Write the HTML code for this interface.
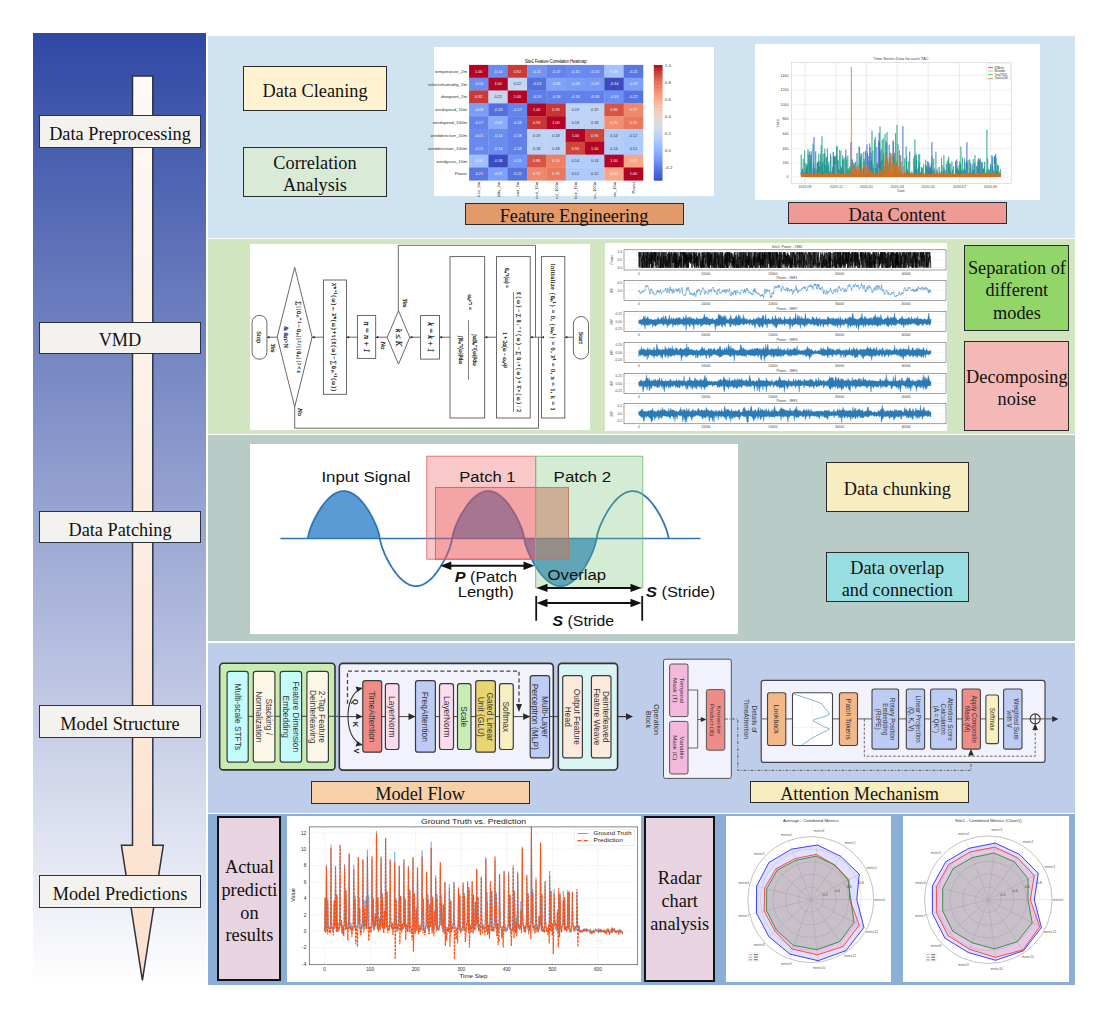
<!DOCTYPE html>
<html><head><meta charset="utf-8">
<style>
*{margin:0;padding:0;box-sizing:border-box}
html,body{width:1108px;height:1018px;background:#fff;overflow:hidden;position:relative}
body{font-family:"Liberation Serif",serif;color:#111}
.a{position:absolute}
.lbl{position:absolute;padding-top:5.5px;left:39px;width:162px;height:32.4px;background:#F3F2EE;border:1.5px solid #2B3340;font-size:18.3px;display:flex;align-items:center;justify-content:center;white-space:nowrap}
.bx{position:absolute;padding-top:5px;border:1.5px solid #2B2B2B;font-size:18.3px;display:flex;align-items:center;justify-content:center;text-align:center;line-height:22.5px;white-space:nowrap}
.pan{position:absolute;left:208px;width:867px}
svg{position:absolute;overflow:visible}
</style></head><body>

<!-- left gradient panel -->
<div class="a" style="left:33px;top:33px;width:173px;height:952px;background:linear-gradient(to bottom,#2F48A4 0%,#FFFFFF 100%)"></div>
<svg style="left:0;top:0" width="1108" height="1018">
<defs><linearGradient id="arw" x1="0" y1="0" x2="0" y2="1"><stop offset="0" stop-color="#FDF9F5"/><stop offset="1" stop-color="#FCE0CC"/></linearGradient></defs>
<polygon points="132.5,76 152.8,76 152.8,845.3 163.3,845.3 142.4,980.4 121.4,845.3 132.5,845.3" fill="url(#arw)" stroke="#2B3340" stroke-width="1.5"/>
</svg>
<div class="lbl" style="top:115.2px">Data Preprocessing</div>
<div class="lbl" style="top:322px">VMD</div>
<div class="lbl" style="top:511.1px">Data Patching</div>
<div class="lbl" style="top:705.2px">Model Structure</div>
<div class="lbl" style="top:875.4px">Model Predictions</div>

<!-- panels -->
<div class="pan" style="top:36px;height:202px;background:#CFE3F1"></div>
<div class="pan" style="top:239px;height:195px;background:#D0E5C0"></div>
<div class="pan" style="top:435px;height:206px;background:#B9CBC6"></div>
<div class="pan" style="top:642.5px;height:170.5px;background:#BECEEA"></div>
<div class="pan" style="top:814px;height:171px;background:#8AAED6"></div>

<!-- PANEL 1 -->
<div class="bx" style="left:243px;top:66px;width:144px;height:45px;background:#FFF2D0">Data Cleaning</div>
<div class="bx" style="left:243px;top:146.6px;width:144px;height:50.2px;background:#D9EAD6">Correlation<br>Analysis</div>
<div class="a" style="left:434px;top:47.3px;width:280px;height:149.2px;background:#fff"></div>
<div class="bx" style="left:464.5px;top:202.5px;width:219px;height:22.2px;background:#E39A6A">Feature Engineering</div>
<div class="a" style="left:755px;top:43.6px;width:285px;height:156.3px;background:#fff"></div>
<div class="bx" style="left:787.5px;top:201.7px;width:219px;height:22.7px;background:#F09A96">Data Content</div>

<svg style="left:0;top:0" width="1108" height="1018">
<g>
<rect x="469.10" y="64.90" width="19.62" height="13.12" fill="#b40426"/>
<rect x="488.42" y="64.90" width="19.62" height="13.12" fill="#6b8df0"/>
<rect x="507.74" y="64.90" width="19.62" height="13.12" fill="#ca3b37"/>
<rect x="527.07" y="64.90" width="19.62" height="13.12" fill="#7295f4"/>
<rect x="546.39" y="64.90" width="19.62" height="13.12" fill="#6384eb"/>
<rect x="565.71" y="64.90" width="19.62" height="13.12" fill="#688aef"/>
<rect x="585.03" y="64.90" width="19.62" height="13.12" fill="#688aef"/>
<rect x="604.36" y="64.90" width="19.62" height="13.12" fill="#a3c2fe"/>
<rect x="623.68" y="64.90" width="19.62" height="13.12" fill="#5977e3"/>
<rect x="469.10" y="77.72" width="19.62" height="13.12" fill="#6b8df0"/>
<rect x="488.42" y="77.72" width="19.62" height="13.12" fill="#b40426"/>
<rect x="507.74" y="77.72" width="19.62" height="13.12" fill="#c6d6f1"/>
<rect x="527.07" y="77.72" width="19.62" height="13.12" fill="#5470de"/>
<rect x="546.39" y="77.72" width="19.62" height="13.12" fill="#80a3fa"/>
<rect x="565.71" y="77.72" width="19.62" height="13.12" fill="#7a9df8"/>
<rect x="585.03" y="77.72" width="19.62" height="13.12" fill="#779af7"/>
<rect x="604.36" y="77.72" width="19.62" height="13.12" fill="#3b4cc0"/>
<rect x="623.68" y="77.72" width="19.62" height="13.12" fill="#7da0f9"/>
<rect x="469.10" y="90.54" width="19.62" height="13.12" fill="#ca3b37"/>
<rect x="488.42" y="90.54" width="19.62" height="13.12" fill="#c6d6f1"/>
<rect x="507.74" y="90.54" width="19.62" height="13.12" fill="#b40426"/>
<rect x="527.07" y="90.54" width="19.62" height="13.12" fill="#5e7de7"/>
<rect x="546.39" y="90.54" width="19.62" height="13.12" fill="#6180e9"/>
<rect x="565.71" y="90.54" width="19.62" height="13.12" fill="#6180e9"/>
<rect x="585.03" y="90.54" width="19.62" height="13.12" fill="#6180e9"/>
<rect x="604.36" y="90.54" width="19.62" height="13.12" fill="#6c8ff1"/>
<rect x="623.68" y="90.54" width="19.62" height="13.12" fill="#5673e0"/>
<rect x="469.10" y="103.37" width="19.62" height="13.12" fill="#7a9df8"/>
<rect x="488.42" y="103.37" width="19.62" height="13.12" fill="#5470de"/>
<rect x="507.74" y="103.37" width="19.62" height="13.12" fill="#6384eb"/>
<rect x="527.07" y="103.37" width="19.62" height="13.12" fill="#b40426"/>
<rect x="546.39" y="103.37" width="19.62" height="13.12" fill="#c73635"/>
<rect x="565.71" y="103.37" width="19.62" height="13.12" fill="#bfd3f6"/>
<rect x="585.03" y="103.37" width="19.62" height="13.12" fill="#bfd3f6"/>
<rect x="604.36" y="103.37" width="19.62" height="13.12" fill="#d75445"/>
<rect x="623.68" y="103.37" width="19.62" height="13.12" fill="#ef886b"/>
<rect x="469.10" y="116.19" width="19.62" height="13.12" fill="#6384eb"/>
<rect x="488.42" y="116.19" width="19.62" height="13.12" fill="#89acfd"/>
<rect x="507.74" y="116.19" width="19.62" height="13.12" fill="#6180e9"/>
<rect x="527.07" y="116.19" width="19.62" height="13.12" fill="#c73635"/>
<rect x="546.39" y="116.19" width="19.62" height="13.12" fill="#b40426"/>
<rect x="565.71" y="116.19" width="19.62" height="13.12" fill="#bcd2f7"/>
<rect x="585.03" y="116.19" width="19.62" height="13.12" fill="#bcd2f7"/>
<rect x="604.36" y="116.19" width="19.62" height="13.12" fill="#f18f71"/>
<rect x="623.68" y="116.19" width="19.62" height="13.12" fill="#e97a5f"/>
<rect x="469.10" y="129.01" width="19.62" height="13.12" fill="#688aef"/>
<rect x="488.42" y="129.01" width="19.62" height="13.12" fill="#6b8df0"/>
<rect x="507.74" y="129.01" width="19.62" height="13.12" fill="#6180e9"/>
<rect x="527.07" y="129.01" width="19.62" height="13.12" fill="#bfd3f6"/>
<rect x="546.39" y="129.01" width="19.62" height="13.12" fill="#bcd2f7"/>
<rect x="565.71" y="129.01" width="19.62" height="13.12" fill="#b40426"/>
<rect x="585.03" y="129.01" width="19.62" height="13.12" fill="#cf453c"/>
<rect x="604.36" y="129.01" width="19.62" height="13.12" fill="#b3cdfb"/>
<rect x="623.68" y="129.01" width="19.62" height="13.12" fill="#aec9fc"/>
<rect x="469.10" y="141.83" width="19.62" height="13.12" fill="#688aef"/>
<rect x="488.42" y="141.83" width="19.62" height="13.12" fill="#6b8df0"/>
<rect x="507.74" y="141.83" width="19.62" height="13.12" fill="#6180e9"/>
<rect x="527.07" y="141.83" width="19.62" height="13.12" fill="#bcd2f7"/>
<rect x="546.39" y="141.83" width="19.62" height="13.12" fill="#bcd2f7"/>
<rect x="565.71" y="141.83" width="19.62" height="13.12" fill="#cf453c"/>
<rect x="585.03" y="141.83" width="19.62" height="13.12" fill="#b40426"/>
<rect x="604.36" y="141.83" width="19.62" height="13.12" fill="#b3cdfb"/>
<rect x="623.68" y="141.83" width="19.62" height="13.12" fill="#aec9fc"/>
<rect x="469.10" y="154.66" width="19.62" height="13.12" fill="#9fbfff"/>
<rect x="488.42" y="154.66" width="19.62" height="13.12" fill="#3b4cc0"/>
<rect x="507.74" y="154.66" width="19.62" height="13.12" fill="#7295f4"/>
<rect x="527.07" y="154.66" width="19.62" height="13.12" fill="#d75445"/>
<rect x="546.39" y="154.66" width="19.62" height="13.12" fill="#ec8165"/>
<rect x="565.71" y="154.66" width="19.62" height="13.12" fill="#b3cdfb"/>
<rect x="585.03" y="154.66" width="19.62" height="13.12" fill="#b3cdfb"/>
<rect x="604.36" y="154.66" width="19.62" height="13.12" fill="#b40426"/>
<rect x="623.68" y="154.66" width="19.62" height="13.12" fill="#f7a688"/>
<rect x="469.10" y="167.48" width="19.62" height="13.12" fill="#5977e3"/>
<rect x="488.42" y="167.48" width="19.62" height="13.12" fill="#7da0f9"/>
<rect x="507.74" y="167.48" width="19.62" height="13.12" fill="#5673e0"/>
<rect x="527.07" y="167.48" width="19.62" height="13.12" fill="#ef886b"/>
<rect x="546.39" y="167.48" width="19.62" height="13.12" fill="#e97a5f"/>
<rect x="565.71" y="167.48" width="19.62" height="13.12" fill="#aec9fc"/>
<rect x="585.03" y="167.48" width="19.62" height="13.12" fill="#aec9fc"/>
<rect x="604.36" y="167.48" width="19.62" height="13.12" fill="#f7a688"/>
<rect x="623.68" y="167.48" width="19.62" height="13.12" fill="#b40426"/>
<text x="478.76" y="72.61" font-size="3.8" fill="#f4f4f4" text-anchor="middle" font-family="Liberation Sans">1.00</text>
<text x="498.08" y="72.61" font-size="3.8" fill="#f4f4f4" text-anchor="middle" font-family="Liberation Sans">-0.14</text>
<text x="517.41" y="72.61" font-size="3.8" fill="#f4f4f4" text-anchor="middle" font-family="Liberation Sans">0.92</text>
<text x="536.73" y="72.61" font-size="3.8" fill="#f4f4f4" text-anchor="middle" font-family="Liberation Sans">-0.11</text>
<text x="556.05" y="72.61" font-size="3.8" fill="#f4f4f4" text-anchor="middle" font-family="Liberation Sans">-0.17</text>
<text x="575.37" y="72.61" font-size="3.8" fill="#f4f4f4" text-anchor="middle" font-family="Liberation Sans">-0.15</text>
<text x="594.69" y="72.61" font-size="3.8" fill="#f4f4f4" text-anchor="middle" font-family="Liberation Sans">-0.15</text>
<text x="614.02" y="72.61" font-size="3.8" fill="#f4f4f4" text-anchor="middle" font-family="Liberation Sans">0.08</text>
<text x="633.34" y="72.61" font-size="3.8" fill="#f4f4f4" text-anchor="middle" font-family="Liberation Sans">-0.21</text>
<text x="478.76" y="85.43" font-size="3.8" fill="#f4f4f4" text-anchor="middle" font-family="Liberation Sans">-0.14</text>
<text x="498.08" y="85.43" font-size="3.8" fill="#f4f4f4" text-anchor="middle" font-family="Liberation Sans">1.00</text>
<text x="517.41" y="85.43" font-size="3.8" fill="#333" text-anchor="middle" font-family="Liberation Sans">0.22</text>
<text x="536.73" y="85.43" font-size="3.8" fill="#f4f4f4" text-anchor="middle" font-family="Liberation Sans">-0.23</text>
<text x="556.05" y="85.43" font-size="3.8" fill="#f4f4f4" text-anchor="middle" font-family="Liberation Sans">-0.06</text>
<text x="575.37" y="85.43" font-size="3.8" fill="#f4f4f4" text-anchor="middle" font-family="Liberation Sans">-0.08</text>
<text x="594.69" y="85.43" font-size="3.8" fill="#f4f4f4" text-anchor="middle" font-family="Liberation Sans">-0.09</text>
<text x="614.02" y="85.43" font-size="3.8" fill="#f4f4f4" text-anchor="middle" font-family="Liberation Sans">-0.34</text>
<text x="633.34" y="85.43" font-size="3.8" fill="#f4f4f4" text-anchor="middle" font-family="Liberation Sans">-0.07</text>
<text x="478.76" y="98.26" font-size="3.8" fill="#f4f4f4" text-anchor="middle" font-family="Liberation Sans">0.92</text>
<text x="498.08" y="98.26" font-size="3.8" fill="#333" text-anchor="middle" font-family="Liberation Sans">0.22</text>
<text x="517.41" y="98.26" font-size="3.8" fill="#f4f4f4" text-anchor="middle" font-family="Liberation Sans">1.00</text>
<text x="536.73" y="98.26" font-size="3.8" fill="#f4f4f4" text-anchor="middle" font-family="Liberation Sans">-0.19</text>
<text x="556.05" y="98.26" font-size="3.8" fill="#f4f4f4" text-anchor="middle" font-family="Liberation Sans">-0.18</text>
<text x="575.37" y="98.26" font-size="3.8" fill="#f4f4f4" text-anchor="middle" font-family="Liberation Sans">-0.18</text>
<text x="594.69" y="98.26" font-size="3.8" fill="#f4f4f4" text-anchor="middle" font-family="Liberation Sans">-0.18</text>
<text x="614.02" y="98.26" font-size="3.8" fill="#f4f4f4" text-anchor="middle" font-family="Liberation Sans">-0.13</text>
<text x="633.34" y="98.26" font-size="3.8" fill="#f4f4f4" text-anchor="middle" font-family="Liberation Sans">-0.22</text>
<text x="478.76" y="111.08" font-size="3.8" fill="#f4f4f4" text-anchor="middle" font-family="Liberation Sans">-0.08</text>
<text x="498.08" y="111.08" font-size="3.8" fill="#f4f4f4" text-anchor="middle" font-family="Liberation Sans">-0.23</text>
<text x="517.41" y="111.08" font-size="3.8" fill="#f4f4f4" text-anchor="middle" font-family="Liberation Sans">-0.17</text>
<text x="536.73" y="111.08" font-size="3.8" fill="#f4f4f4" text-anchor="middle" font-family="Liberation Sans">1.00</text>
<text x="556.05" y="111.08" font-size="3.8" fill="#f4f4f4" text-anchor="middle" font-family="Liberation Sans">0.93</text>
<text x="575.37" y="111.08" font-size="3.8" fill="#333" text-anchor="middle" font-family="Liberation Sans">0.19</text>
<text x="594.69" y="111.08" font-size="3.8" fill="#333" text-anchor="middle" font-family="Liberation Sans">0.19</text>
<text x="614.02" y="111.08" font-size="3.8" fill="#f4f4f4" text-anchor="middle" font-family="Liberation Sans">0.86</text>
<text x="633.34" y="111.08" font-size="3.8" fill="#f4f4f4" text-anchor="middle" font-family="Liberation Sans">0.72</text>
<text x="478.76" y="123.90" font-size="3.8" fill="#f4f4f4" text-anchor="middle" font-family="Liberation Sans">-0.17</text>
<text x="498.08" y="123.90" font-size="3.8" fill="#f4f4f4" text-anchor="middle" font-family="Liberation Sans">-0.02</text>
<text x="517.41" y="123.90" font-size="3.8" fill="#f4f4f4" text-anchor="middle" font-family="Liberation Sans">-0.18</text>
<text x="536.73" y="123.90" font-size="3.8" fill="#f4f4f4" text-anchor="middle" font-family="Liberation Sans">0.93</text>
<text x="556.05" y="123.90" font-size="3.8" fill="#f4f4f4" text-anchor="middle" font-family="Liberation Sans">1.00</text>
<text x="575.37" y="123.90" font-size="3.8" fill="#333" text-anchor="middle" font-family="Liberation Sans">0.18</text>
<text x="594.69" y="123.90" font-size="3.8" fill="#333" text-anchor="middle" font-family="Liberation Sans">0.18</text>
<text x="614.02" y="123.90" font-size="3.8" fill="#f4f4f4" text-anchor="middle" font-family="Liberation Sans">0.70</text>
<text x="633.34" y="123.90" font-size="3.8" fill="#f4f4f4" text-anchor="middle" font-family="Liberation Sans">0.76</text>
<text x="478.76" y="136.72" font-size="3.8" fill="#f4f4f4" text-anchor="middle" font-family="Liberation Sans">-0.15</text>
<text x="498.08" y="136.72" font-size="3.8" fill="#f4f4f4" text-anchor="middle" font-family="Liberation Sans">-0.14</text>
<text x="517.41" y="136.72" font-size="3.8" fill="#f4f4f4" text-anchor="middle" font-family="Liberation Sans">-0.18</text>
<text x="536.73" y="136.72" font-size="3.8" fill="#333" text-anchor="middle" font-family="Liberation Sans">0.19</text>
<text x="556.05" y="136.72" font-size="3.8" fill="#333" text-anchor="middle" font-family="Liberation Sans">0.18</text>
<text x="575.37" y="136.72" font-size="3.8" fill="#f4f4f4" text-anchor="middle" font-family="Liberation Sans">1.00</text>
<text x="594.69" y="136.72" font-size="3.8" fill="#f4f4f4" text-anchor="middle" font-family="Liberation Sans">0.90</text>
<text x="614.02" y="136.72" font-size="3.8" fill="#333" text-anchor="middle" font-family="Liberation Sans">0.14</text>
<text x="633.34" y="136.72" font-size="3.8" fill="#333" text-anchor="middle" font-family="Liberation Sans">0.12</text>
<text x="478.76" y="149.54" font-size="3.8" fill="#f4f4f4" text-anchor="middle" font-family="Liberation Sans">-0.15</text>
<text x="498.08" y="149.54" font-size="3.8" fill="#f4f4f4" text-anchor="middle" font-family="Liberation Sans">-0.14</text>
<text x="517.41" y="149.54" font-size="3.8" fill="#f4f4f4" text-anchor="middle" font-family="Liberation Sans">-0.18</text>
<text x="536.73" y="149.54" font-size="3.8" fill="#333" text-anchor="middle" font-family="Liberation Sans">0.18</text>
<text x="556.05" y="149.54" font-size="3.8" fill="#333" text-anchor="middle" font-family="Liberation Sans">0.18</text>
<text x="575.37" y="149.54" font-size="3.8" fill="#f4f4f4" text-anchor="middle" font-family="Liberation Sans">0.90</text>
<text x="594.69" y="149.54" font-size="3.8" fill="#f4f4f4" text-anchor="middle" font-family="Liberation Sans">1.00</text>
<text x="614.02" y="149.54" font-size="3.8" fill="#333" text-anchor="middle" font-family="Liberation Sans">0.14</text>
<text x="633.34" y="149.54" font-size="3.8" fill="#333" text-anchor="middle" font-family="Liberation Sans">0.12</text>
<text x="478.76" y="162.37" font-size="3.8" fill="#f4f4f4" text-anchor="middle" font-family="Liberation Sans">0.06</text>
<text x="498.08" y="162.37" font-size="3.8" fill="#f4f4f4" text-anchor="middle" font-family="Liberation Sans">-0.34</text>
<text x="517.41" y="162.37" font-size="3.8" fill="#f4f4f4" text-anchor="middle" font-family="Liberation Sans">-0.11</text>
<text x="536.73" y="162.37" font-size="3.8" fill="#f4f4f4" text-anchor="middle" font-family="Liberation Sans">0.86</text>
<text x="556.05" y="162.37" font-size="3.8" fill="#f4f4f4" text-anchor="middle" font-family="Liberation Sans">0.74</text>
<text x="575.37" y="162.37" font-size="3.8" fill="#333" text-anchor="middle" font-family="Liberation Sans">0.14</text>
<text x="594.69" y="162.37" font-size="3.8" fill="#333" text-anchor="middle" font-family="Liberation Sans">0.14</text>
<text x="614.02" y="162.37" font-size="3.8" fill="#f4f4f4" text-anchor="middle" font-family="Liberation Sans">1.00</text>
<text x="633.34" y="162.37" font-size="3.8" fill="#f4f4f4" text-anchor="middle" font-family="Liberation Sans">0.62</text>
<text x="478.76" y="175.19" font-size="3.8" fill="#f4f4f4" text-anchor="middle" font-family="Liberation Sans">-0.21</text>
<text x="498.08" y="175.19" font-size="3.8" fill="#f4f4f4" text-anchor="middle" font-family="Liberation Sans">-0.07</text>
<text x="517.41" y="175.19" font-size="3.8" fill="#f4f4f4" text-anchor="middle" font-family="Liberation Sans">-0.22</text>
<text x="536.73" y="175.19" font-size="3.8" fill="#f4f4f4" text-anchor="middle" font-family="Liberation Sans">0.72</text>
<text x="556.05" y="175.19" font-size="3.8" fill="#f4f4f4" text-anchor="middle" font-family="Liberation Sans">0.76</text>
<text x="575.37" y="175.19" font-size="3.8" fill="#333" text-anchor="middle" font-family="Liberation Sans">0.12</text>
<text x="594.69" y="175.19" font-size="3.8" fill="#333" text-anchor="middle" font-family="Liberation Sans">0.12</text>
<text x="614.02" y="175.19" font-size="3.8" fill="#f4f4f4" text-anchor="middle" font-family="Liberation Sans">0.62</text>
<text x="633.34" y="175.19" font-size="3.8" fill="#f4f4f4" text-anchor="middle" font-family="Liberation Sans">1.00</text>
<text x="467.10" y="72.81" font-size="4.4" fill="#333" text-anchor="end" font-family="Liberation Sans">temperature_2m</text>
<text x="467.10" y="85.63" font-size="4.4" fill="#333" text-anchor="end" font-family="Liberation Sans">relativehumidity_2m</text>
<text x="467.10" y="98.46" font-size="4.4" fill="#333" text-anchor="end" font-family="Liberation Sans">dewpoint_2m</text>
<text x="467.10" y="111.28" font-size="4.4" fill="#333" text-anchor="end" font-family="Liberation Sans">windspeed_10m</text>
<text x="467.10" y="124.10" font-size="4.4" fill="#333" text-anchor="end" font-family="Liberation Sans">windspeed_100m</text>
<text x="467.10" y="136.92" font-size="4.4" fill="#333" text-anchor="end" font-family="Liberation Sans">winddirection_10m</text>
<text x="467.10" y="149.74" font-size="4.4" fill="#333" text-anchor="end" font-family="Liberation Sans">winddirection_100m</text>
<text x="467.10" y="162.57" font-size="4.4" fill="#333" text-anchor="end" font-family="Liberation Sans">windgusts_10m</text>
<text x="467.10" y="175.39" font-size="4.4" fill="#333" text-anchor="end" font-family="Liberation Sans">Power</text>
<text transform="translate(480.26,181.80) rotate(-90)" font-size="4.1" fill="#333" text-anchor="end" font-family="Liberation Sans">ture_2m</text>
<text transform="translate(499.58,181.80) rotate(-90)" font-size="4.1" fill="#333" text-anchor="end" font-family="Liberation Sans">idity_2m</text>
<text transform="translate(518.91,181.80) rotate(-90)" font-size="4.1" fill="#333" text-anchor="end" font-family="Liberation Sans">oint_2m</text>
<text transform="translate(538.23,181.80) rotate(-90)" font-size="4.1" fill="#333" text-anchor="end" font-family="Liberation Sans">eed_10m</text>
<text transform="translate(557.55,181.80) rotate(-90)" font-size="4.1" fill="#333" text-anchor="end" font-family="Liberation Sans">ed_100m</text>
<text transform="translate(576.87,181.80) rotate(-90)" font-size="4.1" fill="#333" text-anchor="end" font-family="Liberation Sans">tion_10m</text>
<text transform="translate(596.19,181.80) rotate(-90)" font-size="4.1" fill="#333" text-anchor="end" font-family="Liberation Sans">on_100m</text>
<text transform="translate(615.52,181.80) rotate(-90)" font-size="4.1" fill="#333" text-anchor="end" font-family="Liberation Sans">sts_10m</text>
<text transform="translate(634.84,181.80) rotate(-90)" font-size="4.1" fill="#333" text-anchor="end" font-family="Liberation Sans">Power</text>
<text x="555.8" y="63.3" font-size="4.6" fill="#222" text-anchor="middle" font-family="Liberation Sans" textLength="62">Site1 Feature Correlation Heatmap</text>
<rect x="653.8" y="65.00" width="8.7" height="3.28" fill="#b8122a"/>
<rect x="653.8" y="67.88" width="8.7" height="3.28" fill="#c12b30"/>
<rect x="653.8" y="70.77" width="8.7" height="3.28" fill="#cb3e38"/>
<rect x="653.8" y="73.65" width="8.7" height="3.28" fill="#d24b40"/>
<rect x="653.8" y="76.53" width="8.7" height="3.28" fill="#d95847"/>
<rect x="653.8" y="79.41" width="8.7" height="3.28" fill="#e16751"/>
<rect x="653.8" y="82.30" width="8.7" height="3.28" fill="#e67259"/>
<rect x="653.8" y="85.18" width="8.7" height="3.28" fill="#eb7d62"/>
<rect x="653.8" y="88.06" width="8.7" height="3.28" fill="#f08a6c"/>
<rect x="653.8" y="90.94" width="8.7" height="3.28" fill="#f39475"/>
<rect x="653.8" y="93.83" width="8.7" height="3.28" fill="#f59f80"/>
<rect x="653.8" y="96.71" width="8.7" height="3.28" fill="#f7a889"/>
<rect x="653.8" y="99.59" width="8.7" height="3.28" fill="#f7b093"/>
<rect x="653.8" y="102.47" width="8.7" height="3.28" fill="#f7b99e"/>
<rect x="653.8" y="105.36" width="8.7" height="3.28" fill="#f5c0a7"/>
<rect x="653.8" y="108.24" width="8.7" height="3.28" fill="#f3c8b2"/>
<rect x="653.8" y="111.12" width="8.7" height="3.28" fill="#f0cdbb"/>
<rect x="653.8" y="114.00" width="8.7" height="3.28" fill="#ecd3c5"/>
<rect x="653.8" y="116.89" width="8.7" height="3.28" fill="#e6d7cf"/>
<rect x="653.8" y="119.77" width="8.7" height="3.28" fill="#e0dbd8"/>
<rect x="653.8" y="122.65" width="8.7" height="3.28" fill="#d9dce1"/>
<rect x="653.8" y="125.53" width="8.7" height="3.28" fill="#d3dbe7"/>
<rect x="653.8" y="128.42" width="8.7" height="3.28" fill="#cbd8ee"/>
<rect x="653.8" y="131.30" width="8.7" height="3.28" fill="#c4d5f3"/>
<rect x="653.8" y="134.18" width="8.7" height="3.28" fill="#bcd2f7"/>
<rect x="653.8" y="137.06" width="8.7" height="3.28" fill="#b3cdfb"/>
<rect x="653.8" y="139.94" width="8.7" height="3.28" fill="#abc8fd"/>
<rect x="653.8" y="142.83" width="8.7" height="3.28" fill="#a3c2fe"/>
<rect x="653.8" y="145.71" width="8.7" height="3.28" fill="#9abbff"/>
<rect x="653.8" y="148.59" width="8.7" height="3.28" fill="#92b4fe"/>
<rect x="653.8" y="151.48" width="8.7" height="3.28" fill="#88abfd"/>
<rect x="653.8" y="154.36" width="8.7" height="3.28" fill="#80a3fa"/>
<rect x="653.8" y="157.24" width="8.7" height="3.28" fill="#7699f6"/>
<rect x="653.8" y="160.12" width="8.7" height="3.28" fill="#6e90f2"/>
<rect x="653.8" y="163.00" width="8.7" height="3.28" fill="#6687ed"/>
<rect x="653.8" y="165.89" width="8.7" height="3.28" fill="#5d7ce6"/>
<rect x="653.8" y="168.77" width="8.7" height="3.28" fill="#5572df"/>
<rect x="653.8" y="171.65" width="8.7" height="3.28" fill="#4e68d8"/>
<rect x="653.8" y="174.54" width="8.7" height="3.28" fill="#455cce"/>
<rect x="653.8" y="177.42" width="8.7" height="3.28" fill="#3e51c5"/>
<text x="664.8" y="66.50" font-size="4.4" fill="#333" font-family="Liberation Sans">1.0</text>
<text x="664.8" y="83.64" font-size="4.4" fill="#333" font-family="Liberation Sans">0.8</text>
<text x="664.8" y="100.79" font-size="4.4" fill="#333" font-family="Liberation Sans">0.6</text>
<text x="664.8" y="117.93" font-size="4.4" fill="#333" font-family="Liberation Sans">0.4</text>
<text x="664.8" y="135.08" font-size="4.4" fill="#333" font-family="Liberation Sans">0.2</text>
<text x="664.8" y="152.22" font-size="4.4" fill="#333" font-family="Liberation Sans">0.0</text>
<text x="664.8" y="169.37" font-size="4.4" fill="#333" font-family="Liberation Sans">-0.2</text>
</g>
<rect x="791.4" y="62.6" width="219.8" height="120.7" fill="none" stroke="#cfcfcf" stroke-width="0.6"/>
<line x1="805" y1="62.6" x2="805" y2="183.3" stroke="#d6d6d6" stroke-width="0.5"/>
<text x="805" y="187.5" font-size="3.6" fill="#444" text-anchor="middle" font-family="Liberation Sans">2019-09</text>
<line x1="836.2" y1="62.6" x2="836.2" y2="183.3" stroke="#d6d6d6" stroke-width="0.5"/>
<text x="836.2" y="187.5" font-size="3.6" fill="#444" text-anchor="middle" font-family="Liberation Sans">2019-11</text>
<line x1="866.4" y1="62.6" x2="866.4" y2="183.3" stroke="#d6d6d6" stroke-width="0.5"/>
<text x="866.4" y="187.5" font-size="3.6" fill="#444" text-anchor="middle" font-family="Liberation Sans">2020-01</text>
<line x1="897.2" y1="62.6" x2="897.2" y2="183.3" stroke="#d6d6d6" stroke-width="0.5"/>
<text x="897.2" y="187.5" font-size="3.6" fill="#444" text-anchor="middle" font-family="Liberation Sans">2020-03</text>
<line x1="928.1" y1="62.6" x2="928.1" y2="183.3" stroke="#d6d6d6" stroke-width="0.5"/>
<text x="928.1" y="187.5" font-size="3.6" fill="#444" text-anchor="middle" font-family="Liberation Sans">2020-05</text>
<line x1="959.5" y1="62.6" x2="959.5" y2="183.3" stroke="#d6d6d6" stroke-width="0.5"/>
<text x="959.5" y="187.5" font-size="3.6" fill="#444" text-anchor="middle" font-family="Liberation Sans">2020-07</text>
<line x1="990.4" y1="62.6" x2="990.4" y2="183.3" stroke="#d6d6d6" stroke-width="0.5"/>
<text x="990.4" y="187.5" font-size="3.6" fill="#444" text-anchor="middle" font-family="Liberation Sans">2020-09</text>
<line x1="791.4" y1="176.9" x2="1011.2" y2="176.9" stroke="#e0e0e0" stroke-width="0.5"/>
<text x="788.4" y="178.1" font-size="3.6" fill="#444" text-anchor="end" font-family="Liberation Sans">0</text>
<line x1="791.4" y1="163" x2="1011.2" y2="163" stroke="#e0e0e0" stroke-width="0.5"/>
<text x="788.4" y="164.2" font-size="3.6" fill="#444" text-anchor="end" font-family="Liberation Sans">200</text>
<line x1="791.4" y1="148.5" x2="1011.2" y2="148.5" stroke="#e0e0e0" stroke-width="0.5"/>
<text x="788.4" y="149.7" font-size="3.6" fill="#444" text-anchor="end" font-family="Liberation Sans">400</text>
<line x1="791.4" y1="133.7" x2="1011.2" y2="133.7" stroke="#e0e0e0" stroke-width="0.5"/>
<text x="788.4" y="134.89999999999998" font-size="3.6" fill="#444" text-anchor="end" font-family="Liberation Sans">600</text>
<line x1="791.4" y1="119.2" x2="1011.2" y2="119.2" stroke="#e0e0e0" stroke-width="0.5"/>
<text x="788.4" y="120.4" font-size="3.6" fill="#444" text-anchor="end" font-family="Liberation Sans">800</text>
<line x1="791.4" y1="104.6" x2="1011.2" y2="104.6" stroke="#e0e0e0" stroke-width="0.5"/>
<text x="788.4" y="105.8" font-size="3.6" fill="#444" text-anchor="end" font-family="Liberation Sans">1000</text>
<line x1="791.4" y1="90.1" x2="1011.2" y2="90.1" stroke="#e0e0e0" stroke-width="0.5"/>
<text x="788.4" y="91.3" font-size="3.6" fill="#444" text-anchor="end" font-family="Liberation Sans">1200</text>
<line x1="791.4" y1="75.6" x2="1011.2" y2="75.6" stroke="#e0e0e0" stroke-width="0.5"/>
<text x="788.4" y="76.8" font-size="3.6" fill="#444" text-anchor="end" font-family="Liberation Sans">1400</text>
<text x="901" y="60" font-size="4" fill="#444" text-anchor="middle" font-family="Liberation Sans">Time Series Data for each TAC</text>
<text transform="translate(779,123) rotate(-90)" font-size="3.6" fill="#444" text-anchor="middle" font-family="Liberation Sans">Value</text>
<text x="901" y="192" font-size="3.6" fill="#444" text-anchor="middle" font-family="Liberation Sans">Date</text>
<polyline points="801.0,172.1 801.2,175.7 801.4,175.0 801.6,176.0 801.8,172.2 802.0,175.1 802.2,169.0 802.4,176.1 802.6,168.9 802.8,174.0 803.0,175.2 803.2,174.5 803.4,174.1 803.6,175.2 803.8,172.2 804.0,175.3 804.2,174.7 804.4,175.2 804.6,173.6 804.8,175.9 805.0,174.8 805.2,172.7 805.4,174.9 805.6,174.9 805.8,175.7 806.0,173.0 806.2,167.9 806.4,175.1 806.6,176.0 806.8,164.9 807.0,175.7 807.2,174.9 807.4,173.8 807.6,174.9 807.8,175.2 808.0,149.4 808.2,175.2 808.4,175.3 808.6,174.9 808.8,175.5 809.0,174.9 809.2,173.9 809.4,175.0 809.6,175.4 809.8,171.8 810.0,175.3 810.2,154.6 810.4,171.1 810.6,162.2 810.8,176.1 811.0,172.7 811.2,151.2 811.4,174.9 811.6,174.9 811.8,173.9 812.0,174.8 812.2,175.3 812.4,175.0 812.6,175.6 812.8,175.9 813.0,175.9 813.2,174.4 813.4,175.3 813.6,164.2 813.8,176.0 814.0,137.1 814.2,176.0 814.4,175.5 814.6,175.5 814.8,168.4 815.0,175.4 815.2,174.8 815.4,160.9 815.6,152.6 815.8,151.3 816.0,175.4 816.2,174.7 816.4,174.6 816.6,175.2 816.8,175.4 817.0,176.1 817.2,169.0 817.4,174.8 817.6,162.1 817.8,176.2 818.0,162.8 818.2,176.1 818.4,175.0 818.6,176.0 818.8,161.1 819.0,174.8 819.2,171.4 819.4,166.5 819.6,176.1 819.8,175.4 820.0,175.6 820.2,160.9 820.4,176.2 820.6,176.0 820.8,175.2 821.0,175.5 821.2,175.7 821.4,172.7 821.6,175.2 821.8,174.7 822.0,167.1 822.2,176.1 822.4,163.4 822.6,175.4 822.8,162.5 823.0,174.5 823.2,174.4 823.4,175.2 823.6,172.4 823.8,174.9 824.0,173.2 824.2,175.0 824.4,175.5 824.6,153.1 824.8,155.4 825.0,176.1 825.2,165.0 825.4,175.0 825.6,175.6 825.8,175.5 826.0,175.0 826.2,175.0 826.4,157.5 826.6,172.6 826.8,175.6 827.0,171.7 827.2,175.0 827.4,148.7 827.6,176.1 827.8,173.0 828.0,175.3 828.2,175.1 828.4,175.9 828.6,164.7 828.8,175.8 829.0,176.0 829.2,176.1 829.4,174.9 829.6,175.1 829.8,175.9 830.0,172.8 830.2,175.3 830.4,174.4 830.6,153.5 830.8,174.8 831.0,174.8 831.2,175.8 831.4,175.2 831.6,175.6 831.8,172.8 832.0,176.1 832.2,171.2 832.4,173.7 832.6,175.2 832.8,166.8 833.0,174.9 833.2,151.9 833.4,155.6 833.6,175.6 833.8,156.7 834.0,172.1 834.2,175.1 834.4,174.8 834.6,171.0 834.8,156.5 835.0,164.4 835.2,156.9 835.4,175.7 835.6,175.2 835.8,174.8 836.0,175.9 836.2,175.4 836.4,175.1 836.6,175.5 836.8,174.9 837.0,175.1 837.2,163.1 837.4,176.0 837.6,175.9 837.8,173.9 838.0,159.8 838.2,173.5 838.4,176.2 838.6,169.1 838.8,175.1 839.0,170.3 839.2,171.1 839.4,174.3 839.6,175.8 839.8,176.1 840.0,175.1 840.2,173.3 840.4,175.2 840.6,175.7 840.8,173.6 841.0,170.2 841.2,175.8 841.4,175.5 841.6,167.4 841.8,175.9 842.0,175.4 842.2,175.9 842.4,175.0 842.6,160.1 842.8,174.2 843.0,173.5 843.2,175.5 843.4,175.2 843.6,175.1 843.8,159.1 844.0,176.2 844.2,174.2 844.4,174.8 844.6,174.4 844.8,176.0 845.0,175.6 845.2,175.2 845.4,174.7 845.6,171.8 845.8,149.6 846.0,175.8 846.2,175.3 846.4,175.5 846.6,175.8 846.8,176.1 847.0,175.6 847.2,175.7 847.4,176.0 847.6,169.5 847.8,169.6 848.0,175.3 848.2,175.5 848.4,175.7 848.6,175.4 848.8,175.6 849.0,173.6 849.2,171.8 849.4,175.7 849.6,175.2 849.8,174.9 850.0,174.8 850.2,175.3 850.4,175.8 850.6,175.8 850.8,154.3 851.0,142.2 851.2,175.7 851.4,175.0 851.6,168.3 851.8,174.8 852.0,175.6 852.2,175.8 852.4,159.6 852.6,175.9 852.8,175.7 853.0,175.7 853.2,175.9 853.4,175.1 853.6,170.3 853.8,162.7 854.0,176.0 854.2,172.1 854.4,175.6 854.6,175.2 854.8,175.5 855.0,175.4 855.2,175.4 855.4,175.0 855.6,161.8 855.8,175.7 856.0,174.1 856.2,169.6 856.4,175.4 856.6,175.8 856.8,175.2 857.0,153.1 857.2,173.8 857.4,175.7 857.6,173.8 857.8,176.0 858.0,175.6 858.2,175.5 858.4,174.8 858.6,174.9 858.8,175.4 859.0,176.1 859.2,175.7 859.4,173.2 859.6,176.0 859.8,174.2 860.0,160.8 860.2,171.5 860.4,175.8 860.6,175.0 860.8,174.1 861.0,153.4 861.2,175.6 861.4,169.7 861.6,175.2 861.8,171.9 862.0,173.3 862.2,175.5 862.4,175.2 862.6,175.4 862.8,175.7 863.0,175.5 863.2,173.8 863.4,175.4 863.6,167.8 863.8,174.8 864.0,161.8 864.2,171.6 864.4,176.0 864.6,175.0 864.8,174.8 865.0,174.9 865.2,175.7 865.4,175.6 865.6,150.8 865.8,170.7 866.0,175.5 866.2,174.9 866.4,175.1 866.6,175.1 866.8,152.3 867.0,144.3 867.2,174.3 867.4,153.8 867.6,153.1 867.8,174.6 868.0,172.1 868.2,175.0 868.4,175.1 868.6,176.0 868.8,156.1 869.0,175.6 869.2,175.0 869.4,175.7 869.6,163.1 869.8,175.2 870.0,175.6 870.2,147.3 870.4,169.1 870.6,175.7 870.8,174.6 871.0,175.3 871.2,152.8 871.4,174.1 871.6,160.6 871.8,175.1 872.0,175.5 872.2,175.8 872.4,175.2 872.6,172.6 872.8,164.4 873.0,174.9 873.2,168.4 873.4,175.0 873.6,175.3 873.8,175.2 874.0,175.1 874.2,175.1 874.4,174.9 874.6,174.8 874.8,175.0 875.0,175.9 875.2,137.3 875.4,175.2 875.6,175.9 875.8,175.0 876.0,173.5 876.2,168.0 876.4,175.4 876.6,175.5 876.8,146.9 877.0,158.5 877.2,175.3 877.4,176.1 877.6,163.6 877.8,175.7 878.0,174.9 878.2,175.8 878.4,175.9 878.6,175.3 878.8,141.0 879.0,168.4 879.2,132.7 879.4,169.5 879.6,143.2 879.8,174.8 880.0,151.3 880.2,175.2 880.4,169.0 880.6,174.7 880.8,162.2 881.0,175.1 881.2,149.4 881.4,175.2 881.6,176.0 881.8,175.3 882.0,160.0 882.2,172.6 882.4,175.9 882.6,176.0 882.8,165.2 883.0,159.6 883.2,173.0 883.4,176.1 883.6,153.4 883.8,174.9 884.0,172.9 884.2,168.9 884.4,174.2 884.6,175.8 884.8,175.5 885.0,170.9 885.2,174.5 885.4,165.9 885.6,172.9 885.8,173.7 886.0,161.5 886.2,152.5 886.4,175.0 886.6,166.8 886.8,142.9 887.0,176.1 887.2,175.2 887.4,175.2 887.6,174.7 887.8,163.4 888.0,175.1 888.2,175.0 888.4,170.1 888.6,175.1 888.8,175.5 889.0,176.1 889.2,144.8 889.4,176.1 889.6,176.1 889.8,157.5 890.0,175.6 890.2,175.5 890.4,174.9 890.6,175.9 890.8,163.1 891.0,174.7 891.2,176.1 891.4,175.4 891.6,175.2 891.8,172.9 892.0,174.9 892.2,174.1 892.4,175.6 892.6,175.9 892.8,171.4 893.0,140.6 893.2,174.6 893.4,157.1 893.6,176.1 893.8,171.8 894.0,175.7 894.2,175.2 894.4,176.1 894.6,152.9 894.8,175.0 895.0,176.1 895.2,176.2 895.4,174.9 895.6,168.8 895.8,175.9 896.0,174.8 896.2,175.6 896.4,163.5 896.6,168.7 896.8,161.5 897.0,174.8 897.2,175.3 897.4,174.4 897.6,175.3 897.8,174.8 898.0,175.4 898.2,173.5 898.4,175.0 898.6,173.9 898.8,174.6 899.0,175.7 899.2,174.6 899.4,172.7 899.6,174.0 899.8,174.2 900.0,175.4 900.2,176.0 900.4,171.5 900.6,175.2 900.8,172.9 900.9,175.2 901.1,174.8 901.3,172.6 901.5,175.5 901.7,172.8 901.9,175.8 902.1,174.8 902.3,175.3 902.5,176.1 902.7,171.2 902.9,126.2 903.1,175.5 903.3,174.7 903.5,175.9 903.7,175.0 903.9,175.8 904.1,175.3 904.3,175.6 904.5,172.6 904.7,176.0 904.9,175.0 905.1,175.5 905.3,174.9 905.5,173.6 905.7,175.5 905.9,175.4 906.1,174.9 906.3,175.0 906.5,161.4 906.7,175.9 906.9,175.2 907.1,173.9 907.3,175.1 907.5,174.8 907.7,170.8 907.9,175.7 908.1,175.9 908.3,175.0 908.5,172.4 908.7,172.7 908.9,175.0 909.1,175.5 909.3,174.9 909.5,175.2 909.7,151.5 909.9,175.3 910.1,175.2 910.3,174.9 910.5,174.8 910.7,175.0 910.9,174.8 911.1,175.9 911.3,176.2 911.5,174.8 911.7,175.5 911.9,171.5 912.1,175.4 912.3,176.1 912.5,175.9 912.7,175.8 912.9,175.1 913.1,175.1 913.3,175.6 913.5,174.5 913.7,175.4 913.9,175.9 914.1,174.7 914.3,175.2 914.5,175.5 914.7,169.4 914.9,175.2 915.1,171.2 915.3,167.1 915.5,175.1 915.7,174.6 915.9,175.0 916.1,171.7 916.3,155.4 916.5,175.0 916.7,169.8 916.9,175.2 917.1,175.1 917.3,174.9 917.5,176.0 917.7,174.8 917.9,174.9 918.1,176.0 918.3,175.3 918.5,175.9 918.7,166.5 918.9,174.8 919.1,175.2 919.3,163.3 919.5,175.8 919.7,174.8 919.9,175.2 920.1,174.9 920.3,175.4 920.5,172.2 920.7,174.5 920.9,175.4 921.1,175.5 921.3,174.8 921.5,173.2 921.7,175.3 921.9,175.4 922.1,175.0 922.3,169.5 922.5,174.5 922.7,174.8 922.9,174.8 923.1,175.4 923.3,175.1 923.5,176.0 923.7,176.1 923.9,174.9 924.1,175.2 924.3,174.8 924.5,174.3 924.7,175.4 924.9,175.0 925.1,173.7 925.3,174.9 925.5,175.4 925.7,174.9 925.9,165.4 926.1,166.1 926.3,175.6 926.5,174.7 926.7,175.7 926.9,175.2 927.1,174.8 927.3,175.2 927.5,175.3 927.7,166.7 927.9,175.3 928.1,171.1 928.3,175.2 928.5,175.4 928.7,162.1 928.9,175.9 929.1,174.7 929.3,175.3 929.5,174.6 929.7,175.7 929.9,173.1 930.1,175.1 930.3,166.9 930.5,175.4 930.7,168.6 930.9,175.2 931.1,175.9 931.3,163.6 931.5,175.0 931.7,175.8 931.9,142.2 932.1,175.4 932.3,175.7 932.5,175.6 932.7,175.8 932.9,175.2 933.1,175.6 933.3,172.6 933.5,175.8 933.7,176.0 933.9,175.3 934.1,168.4 934.3,173.3 934.5,175.3 934.7,175.3 934.9,175.8 935.1,176.1 935.3,174.8 935.5,175.9 935.7,175.8 935.9,175.2 936.1,174.7 936.3,173.4 936.5,175.6 936.7,171.0 936.9,176.1 937.1,175.8 937.3,175.3 937.5,173.1 937.7,175.9 937.9,175.5 938.1,175.3 938.3,175.4 938.5,175.4 938.7,174.0 938.9,169.8 939.1,167.0 939.3,171.8 939.5,172.5 939.7,172.4 939.9,175.6 940.1,175.4 940.3,174.7 940.5,175.8 940.7,175.1 940.9,174.6 941.1,175.7 941.3,176.2 941.5,176.0 941.7,171.0 941.9,174.2 942.1,174.6 942.3,175.4 942.5,175.0 942.7,175.4 942.9,175.8 943.1,175.8 943.3,175.7 943.5,175.5 943.7,175.8 943.9,167.5 944.1,174.7 944.3,175.0 944.5,176.1 944.7,175.5 944.9,174.6 945.1,174.8 945.3,175.3 945.5,175.8 945.7,174.0 945.9,175.9 946.1,175.2 946.3,164.0 946.5,174.5 946.7,175.5 946.9,175.4 947.1,175.2 947.3,175.2 947.5,175.0 947.7,175.1 947.9,175.3 948.1,176.0 948.3,172.1 948.5,175.2 948.7,166.6 948.9,168.8 949.1,163.3 949.3,175.3 949.5,175.0 949.7,175.8 949.9,175.2 950.1,175.3 950.3,176.0 950.5,174.7 950.7,173.9 950.9,175.7 951.1,176.0 951.3,174.9 951.5,174.9 951.7,175.8 951.9,175.3 952.1,175.6 952.3,175.2 952.5,171.5 952.7,172.1 952.9,176.1 953.1,174.8 953.3,175.3 953.5,174.6 953.7,175.4 953.9,175.7 954.1,175.5 954.3,174.5 954.5,174.2 954.7,175.5 954.9,176.0 955.1,176.0 955.3,175.5 955.5,175.5 955.7,160.9 955.9,176.0 956.1,171.0 956.3,176.0 956.5,174.3 956.7,174.8 956.9,159.4 957.1,175.6 957.3,167.7 957.5,170.1 957.7,175.4 957.9,176.0 958.1,175.2 958.3,174.8 958.5,169.8 958.7,174.7 958.9,175.1 959.1,175.7 959.3,172.5 959.5,175.4 959.7,175.9 959.9,175.7 960.1,171.2 960.3,175.2 960.5,175.5 960.7,164.1 960.9,174.7 961.1,175.8 961.3,174.4 961.5,175.0 961.7,176.0 961.9,174.5 962.1,171.0 962.3,175.8 962.5,175.1 962.7,172.5 962.9,175.0 963.1,175.1 963.3,175.3 963.5,176.0 963.7,169.0 963.9,174.6 964.1,174.8 964.3,174.6 964.5,171.0 964.7,175.5 964.9,163.2 965.1,175.6 965.3,175.0 965.5,175.4 965.7,174.8 965.9,173.6 966.1,171.5 966.3,160.8 966.5,167.7 966.7,176.2 966.9,142.2 967.1,175.4 967.3,175.7 967.5,176.0 967.7,174.1 967.9,175.6 968.1,175.9 968.3,175.4 968.5,174.8 968.7,175.1 968.9,174.8 969.1,176.0 969.3,174.7 969.5,175.3 969.7,159.3 969.9,174.7 970.1,175.5 970.3,175.0 970.5,167.7 970.7,175.5 970.9,175.5 971.1,175.3 971.3,173.0 971.5,176.1 971.7,174.9 971.9,175.2 972.1,164.1 972.3,175.5 972.5,174.3 972.7,174.9 972.9,175.6 973.1,175.8 973.3,174.8 973.5,170.5 973.7,175.2 973.9,170.1 974.1,174.9 974.3,175.9 974.5,175.0 974.7,162.7 974.9,175.4 975.1,175.6 975.3,175.2 975.5,175.6 975.7,175.3 975.9,174.8 976.1,175.0 976.3,166.1 976.5,175.5 976.7,175.2 976.9,174.7 977.1,176.0 977.3,175.4 977.5,175.9 977.7,174.8 977.9,176.0 978.1,174.7 978.3,159.3 978.5,175.9 978.7,169.9 978.9,175.3 979.1,175.5 979.3,175.0 979.5,175.5 979.7,160.2 979.9,174.7 980.1,158.6 980.3,176.0 980.5,175.2 980.7,175.6 980.9,175.8 981.1,174.8 981.3,175.3 981.5,163.6 981.7,174.6 981.9,175.4 982.1,175.0 982.3,175.6 982.5,175.4 982.7,175.8 982.9,174.8 983.1,168.6 983.3,176.2 983.5,175.0 983.7,169.4 983.9,174.2 984.1,175.0 984.3,175.9 984.5,174.7 984.7,161.8 984.9,174.9 985.1,175.1 985.3,173.0 985.5,174.7 985.7,174.8 985.9,175.1 986.1,175.5 986.3,174.9 986.5,175.5 986.7,174.9 986.9,175.2 987.1,175.8 987.3,175.6 987.5,175.6 987.7,175.1 987.9,173.7 988.1,175.2 988.3,175.6 988.5,175.9 988.7,175.5 988.9,175.6 989.1,174.8 989.3,169.5 989.5,175.3 989.7,174.8 989.9,175.5 990.1,175.7 990.3,175.3 990.5,175.0 990.7,164.1 990.9,175.0 991.1,175.5 991.3,173.0 991.5,174.7 991.7,175.5 991.9,155.2 992.1,174.1 992.3,176.1 992.5,166.1 992.7,174.8 992.9,174.8 993.1,175.7 993.3,175.4 993.5,175.0 993.7,176.0 993.9,175.4 994.1,175.3 994.3,175.6 994.5,156.2 994.7,163.9 994.9,156.5 995.1,175.3 995.3,175.9 995.5,176.1 995.7,154.1 995.9,172.8 996.1,175.7 996.3,175.5 996.5,172.2 996.7,174.7 996.9,175.7 997.1,172.8 997.3,172.2 997.5,176.1 997.7,170.7 997.9,175.5 998.1,176.1 998.3,174.6 998.5,174.7 998.7,175.3 998.9,174.3 999.1,175.2 999.3,176.0 999.5,175.2 999.7,175.9 999.9,175.8 1000.1,175.0 1000.3,174.2 1000.5,175.2 1000.7,174.7" fill="none" stroke="#2d55c8" stroke-width="0.5" stroke-linejoin="round"/>
<polyline points="801.0,174.7 801.2,154.6 801.4,173.6 801.6,173.9 801.8,175.3 802.0,175.1 802.2,172.8 802.4,175.3 802.6,172.6 802.8,175.8 803.0,173.0 803.2,158.7 803.4,175.4 803.6,174.5 803.8,175.4 804.0,175.2 804.2,174.8 804.4,174.3 804.6,150.4 804.8,174.8 805.0,174.6 805.2,163.2 805.4,175.1 805.6,174.2 805.8,170.8 806.0,174.7 806.2,175.0 806.4,167.3 806.6,175.7 806.8,174.2 807.0,163.6 807.2,175.8 807.4,166.1 807.6,174.6 807.8,174.9 808.0,174.2 808.2,175.8 808.4,154.7 808.6,171.6 808.8,175.8 809.0,174.4 809.2,174.4 809.4,151.6 809.6,175.5 809.8,163.2 810.0,173.7 810.2,160.7 810.4,174.6 810.6,175.7 810.8,174.5 811.0,167.7 811.2,155.4 811.4,168.7 811.6,174.4 811.8,168.4 812.0,172.9 812.2,174.2 812.4,174.4 812.6,174.4 812.8,172.8 813.0,143.6 813.2,175.5 813.4,168.9 813.6,173.3 813.8,173.6 814.0,175.5 814.2,175.6 814.4,174.8 814.6,174.5 814.8,174.3 815.0,175.3 815.2,175.1 815.4,174.4 815.6,175.2 815.8,174.8 816.0,170.1 816.2,173.3 816.4,174.3 816.6,174.3 816.8,174.4 817.0,165.3 817.2,163.4 817.4,174.1 817.6,172.2 817.8,172.4 818.0,168.9 818.2,174.5 818.4,175.7 818.6,171.6 818.8,153.7 819.0,174.7 819.2,175.1 819.4,174.9 819.6,176.0 819.8,171.6 820.0,175.2 820.2,175.8 820.4,174.8 820.6,154.2 820.8,172.6 821.0,172.1 821.2,145.5 821.4,174.4 821.6,174.0 821.8,174.5 822.0,136.4 822.2,172.6 822.4,167.8 822.6,172.9 822.8,174.9 823.0,169.7 823.2,153.7 823.4,157.9 823.6,167.7 823.8,174.6 824.0,171.0 824.2,175.3 824.4,160.2 824.6,174.8 824.8,148.6 825.0,174.9 825.2,174.5 825.4,174.7 825.6,175.1 825.8,175.2 826.0,175.3 826.2,162.8 826.4,156.9 826.6,175.5 826.8,175.3 827.0,175.4 827.2,166.7 827.4,172.5 827.6,174.5 827.8,168.7 828.0,173.7 828.2,174.9 828.4,168.2 828.6,174.6 828.8,161.7 829.0,174.1 829.2,175.1 829.4,171.2 829.6,175.1 829.8,174.7 830.0,174.5 830.2,173.7 830.4,174.6 830.6,174.8 830.8,156.3 831.0,174.2 831.2,175.3 831.4,175.4 831.6,174.1 831.8,175.7 832.0,174.5 832.2,173.7 832.4,169.2 832.6,175.6 832.8,174.4 833.0,174.2 833.2,174.2 833.4,153.5 833.6,173.4 833.8,174.9 834.0,175.3 834.2,175.3 834.4,174.3 834.6,173.5 834.8,156.6 835.0,168.6 835.2,175.3 835.4,174.8 835.6,175.0 835.8,174.7 836.0,155.2 836.2,163.9 836.4,160.8 836.6,146.1 836.8,175.5 837.0,174.5 837.2,146.3 837.4,173.1 837.6,174.4 837.8,160.5 838.0,174.4 838.2,174.2 838.4,175.5 838.6,173.8 838.8,173.4 839.0,174.5 839.2,171.1 839.4,175.0 839.6,149.9 839.8,166.2 840.0,175.2 840.2,175.3 840.4,165.4 840.6,174.9 840.8,150.8 841.0,174.9 841.2,175.3 841.4,174.6 841.6,170.3 841.8,174.4 842.0,173.3 842.2,174.4 842.4,172.0 842.6,155.4 842.8,175.5 843.0,175.7 843.2,170.4 843.4,175.0 843.6,174.6 843.8,175.0 844.0,157.6 844.2,170.5 844.4,175.7 844.6,174.8 844.8,173.8 845.0,175.7 845.2,174.3 845.4,175.7 845.6,174.9 845.8,175.7 846.0,156.6 846.2,175.0 846.4,162.4 846.6,159.9 846.8,162.4 847.0,175.4 847.2,174.4 847.4,174.8 847.6,174.3 847.8,155.6 848.0,174.6 848.2,174.3 848.4,172.6 848.6,169.2 848.8,175.6 849.0,174.6 849.2,168.1 849.4,174.6 849.6,173.3 849.8,166.5 850.0,175.5 850.2,175.2 850.4,175.8 850.6,174.7 850.8,174.8 851.0,165.0 851.2,175.9 851.4,174.9 851.6,169.7 851.8,173.7 852.0,159.5 852.2,175.8 852.4,173.6 852.6,165.6 852.8,175.2 853.0,175.0 853.2,174.4 853.4,175.0 853.6,175.9 853.8,166.5 854.0,175.8 854.2,175.8 854.4,163.8 854.6,174.6 854.8,175.4 855.0,175.8 855.2,175.3 855.4,175.4 855.6,174.4 855.8,175.2 856.0,175.8 856.2,174.2 856.4,174.9 856.6,175.8 856.8,175.7 857.0,175.1 857.2,172.2 857.4,170.0 857.6,174.9 857.8,175.9 858.0,174.5 858.2,174.6 858.4,174.3 858.6,171.1 858.8,171.7 859.0,146.5 859.2,174.0 859.4,175.1 859.6,147.1 859.8,173.6 860.0,174.2 860.2,175.4 860.4,174.6 860.6,156.7 860.8,171.7 861.0,175.5 861.2,163.6 861.4,170.6 861.6,175.0 861.8,153.8 862.0,161.6 862.2,174.1 862.4,175.1 862.6,174.5 862.8,175.9 863.0,175.3 863.2,175.0 863.4,174.9 863.6,172.0 863.8,151.9 864.0,172.0 864.2,159.0 864.4,163.1 864.6,174.4 864.8,175.6 865.0,175.6 865.2,175.5 865.4,174.2 865.6,176.0 865.8,175.1 866.0,174.1 866.2,174.1 866.4,172.0 866.6,175.9 866.8,175.9 867.0,175.5 867.2,174.9 867.4,174.0 867.6,175.5 867.8,173.6 868.0,174.5 868.2,174.5 868.4,175.8 868.6,172.0 868.8,161.5 869.0,163.3 869.2,160.7 869.4,175.6 869.6,143.4 869.8,174.5 870.0,175.1 870.2,175.1 870.4,175.0 870.6,174.0 870.8,173.1 871.0,168.3 871.2,172.3 871.4,174.7 871.6,175.4 871.8,171.2 872.0,130.6 872.2,173.1 872.4,174.9 872.6,175.1 872.8,155.6 873.0,150.5 873.2,171.8 873.4,174.5 873.6,174.3 873.8,174.3 874.0,174.8 874.2,175.7 874.4,175.2 874.6,140.1 874.8,174.8 875.0,175.2 875.2,174.8 875.4,173.5 875.6,174.6 875.8,168.2 876.0,175.2 876.2,175.8 876.4,173.0 876.6,173.8 876.8,162.8 877.0,175.3 877.2,174.2 877.4,174.4 877.6,173.8 877.8,175.6 878.0,169.8 878.2,175.3 878.4,174.9 878.6,175.5 878.8,175.8 879.0,175.1 879.2,173.8 879.4,175.3 879.6,174.0 879.8,174.5 880.0,126.2 880.2,174.5 880.4,167.1 880.6,170.5 880.8,175.5 881.0,174.0 881.2,168.3 881.4,161.0 881.6,175.5 881.8,166.7 882.0,175.5 882.2,140.0 882.4,155.0 882.6,175.2 882.8,175.3 883.0,173.9 883.2,138.0 883.4,174.9 883.6,175.2 883.8,173.4 884.0,170.6 884.2,174.2 884.4,173.3 884.6,174.2 884.8,175.9 885.0,134.1 885.2,175.2 885.4,170.7 885.6,174.7 885.8,140.9 886.0,174.7 886.2,175.3 886.4,175.3 886.6,174.4 886.8,157.7 887.0,132.0 887.2,172.6 887.4,175.1 887.6,174.5 887.8,158.4 888.0,175.0 888.2,168.9 888.4,175.6 888.6,175.4 888.8,173.5 889.0,175.7 889.2,164.6 889.4,175.0 889.6,175.5 889.8,174.7 890.0,167.7 890.2,175.2 890.4,174.3 890.6,174.4 890.8,152.9 891.0,175.7 891.2,174.3 891.4,173.5 891.6,174.6 891.8,174.2 892.0,175.3 892.2,156.1 892.4,174.3 892.6,176.0 892.8,175.7 893.0,174.2 893.2,174.1 893.4,162.8 893.6,141.9 893.8,175.4 894.0,163.3 894.2,174.2 894.4,174.6 894.6,174.7 894.8,158.5 895.0,174.5 895.2,173.5 895.4,174.4 895.6,133.0 895.8,174.4 896.0,173.7 896.2,166.4 896.4,175.8 896.6,164.7 896.8,174.5 897.0,124.8 897.2,143.0 897.4,175.4 897.6,175.7 897.8,168.2 898.0,143.9 898.2,176.0 898.4,175.7 898.6,170.5 898.8,172.5 899.0,175.2 899.2,172.6 899.4,150.4 899.6,163.7 899.8,173.9 900.0,155.4 900.2,155.0 900.4,169.8 900.6,174.6 900.8,174.1 900.9,174.1 901.1,161.5 901.3,175.3 901.5,173.5 901.7,172.5 901.9,175.4 902.1,175.5 902.3,174.6 902.5,175.3 902.7,175.8 902.9,175.3 903.1,174.5 903.3,174.0 903.5,175.3 903.7,174.7 903.9,174.7 904.1,174.4 904.3,174.7 904.5,168.8 904.7,158.6 904.9,175.1 905.1,172.7 905.3,175.7 905.5,174.5 905.7,173.9 905.9,174.5 906.1,146.5 906.3,174.1 906.5,175.2 906.7,156.4 906.9,175.4 907.1,174.5 907.3,174.6 907.5,169.2 907.7,175.4 907.9,174.3 908.1,174.2 908.3,173.4 908.5,161.4 908.7,174.5 908.9,174.3 909.1,172.6 909.3,174.7 909.5,174.5 909.7,174.7 909.9,173.9 910.1,174.0 910.3,173.1 910.5,175.5 910.7,175.8 910.9,174.4 911.1,173.9 911.3,175.7 911.5,174.5 911.7,175.4 911.9,174.8 912.1,173.5 912.3,175.6 912.5,175.7 912.7,173.1 912.9,174.2 913.1,175.9 913.3,175.2 913.5,158.6 913.7,161.8 913.9,167.6 914.1,175.0 914.3,155.9 914.5,175.1 914.7,175.6 914.9,139.3 915.1,174.0 915.3,172.7 915.5,173.3 915.7,174.3 915.9,153.5 916.1,174.7 916.3,172.1 916.5,160.0 916.7,171.0 916.9,174.7 917.1,175.0 917.3,174.4 917.5,174.3 917.7,168.6 917.9,172.6 918.1,173.3 918.3,172.8 918.5,174.4 918.7,154.4 918.9,174.2 919.1,175.3 919.3,173.7 919.5,175.7 919.7,154.3 919.9,174.9 920.1,174.7 920.3,175.6 920.5,174.7 920.7,175.3 920.9,175.6 921.1,175.9 921.3,174.5 921.5,167.9 921.7,175.6 921.9,166.9 922.1,175.3 922.3,168.1 922.5,174.8 922.7,175.3 922.9,174.9 923.1,174.4 923.3,174.3 923.5,168.5 923.7,164.3 923.9,174.9 924.1,175.1 924.3,175.9 924.5,175.8 924.7,174.9 924.9,174.4 925.1,175.2 925.3,176.0 925.5,175.5 925.7,159.6 925.9,175.7 926.1,165.7 926.3,175.5 926.5,171.9 926.7,167.6 926.9,174.9 927.1,172.6 927.3,174.1 927.5,161.4 927.7,171.0 927.9,174.5 928.1,175.6 928.3,175.1 928.5,175.6 928.7,175.1 928.9,174.6 929.1,164.8 929.3,173.3 929.5,175.2 929.7,168.1 929.9,175.1 930.1,175.8 930.3,173.4 930.5,173.9 930.7,174.4 930.9,174.2 931.1,174.9 931.3,175.5 931.5,163.7 931.7,175.2 931.9,165.7 932.1,156.3 932.3,173.7 932.5,174.7 932.7,170.6 932.9,174.8 933.1,172.5 933.3,174.3 933.5,175.7 933.7,158.7 933.9,174.6 934.1,175.6 934.3,171.5 934.5,170.6 934.7,175.3 934.9,175.5 935.1,173.1 935.3,175.2 935.5,174.1 935.7,175.3 935.9,151.6 936.1,174.9 936.3,174.0 936.5,175.2 936.7,174.4 936.9,174.5 937.1,168.8 937.3,174.7 937.5,174.7 937.7,174.9 937.9,175.4 938.1,174.5 938.3,174.3 938.5,174.5 938.7,175.4 938.9,175.6 939.1,174.6 939.3,174.2 939.5,174.4 939.7,171.3 939.9,174.4 940.1,175.2 940.3,174.7 940.5,175.4 940.7,174.2 940.9,174.3 941.1,175.8 941.3,175.4 941.5,157.5 941.7,175.9 941.9,175.9 942.1,165.0 942.3,174.4 942.5,173.0 942.7,174.3 942.9,172.6 943.1,172.1 943.3,174.7 943.5,175.3 943.7,175.4 943.9,155.2 944.1,175.7 944.3,171.3 944.5,174.4 944.7,174.3 944.9,174.9 945.1,174.8 945.3,169.9 945.5,175.3 945.7,174.6 945.9,174.6 946.1,175.8 946.3,175.7 946.5,174.1 946.7,174.7 946.9,175.6 947.1,174.4 947.3,160.8 947.5,174.9 947.7,174.0 947.9,175.7 948.1,175.1 948.3,158.9 948.5,175.0 948.7,156.7 948.9,174.4 949.1,165.6 949.3,174.5 949.5,169.9 949.7,171.0 949.9,174.9 950.1,174.5 950.3,163.5 950.5,174.3 950.7,170.9 950.9,174.7 951.1,174.3 951.3,175.5 951.5,174.8 951.7,174.3 951.9,161.5 952.1,173.4 952.3,175.5 952.5,174.2 952.7,169.2 952.9,173.4 953.1,175.3 953.3,175.2 953.5,166.1 953.7,175.6 953.9,175.3 954.1,174.2 954.3,174.3 954.5,175.7 954.7,174.2 954.9,175.2 955.1,174.4 955.3,173.2 955.5,175.9 955.7,175.8 955.9,162.6 956.1,174.3 956.3,173.8 956.5,173.2 956.7,174.4 956.9,169.2 957.1,175.4 957.3,171.6 957.5,174.3 957.7,174.5 957.9,175.1 958.1,175.2 958.3,173.5 958.5,175.3 958.7,171.3 958.9,175.0 959.1,164.8 959.3,174.6 959.5,175.7 959.7,161.3 959.9,174.0 960.1,175.7 960.3,174.4 960.5,164.6 960.7,174.5 960.9,146.5 961.1,175.0 961.3,170.4 961.5,174.3 961.7,170.3 961.9,175.9 962.1,174.3 962.3,171.4 962.5,157.6 962.7,175.7 962.9,174.5 963.1,172.3 963.3,173.4 963.5,176.0 963.7,175.2 963.9,175.3 964.1,175.8 964.3,164.8 964.5,158.4 964.7,173.5 964.9,170.2 965.1,174.5 965.3,174.9 965.5,173.6 965.7,171.1 965.9,174.3 966.1,174.8 966.3,174.8 966.5,175.7 966.7,175.1 966.9,174.7 967.1,174.5 967.3,174.7 967.5,163.1 967.7,174.6 967.9,174.0 968.1,160.0 968.3,174.8 968.5,175.6 968.7,172.9 968.9,175.9 969.1,175.8 969.3,175.1 969.5,174.4 969.7,174.5 969.9,173.5 970.1,173.3 970.3,174.0 970.5,162.9 970.7,174.6 970.9,174.5 971.1,175.7 971.3,175.6 971.5,174.2 971.7,175.5 971.9,175.6 972.1,175.3 972.3,173.9 972.5,169.3 972.7,175.9 972.9,171.5 973.1,175.6 973.3,159.2 973.5,175.8 973.7,174.1 973.9,174.2 974.1,175.4 974.3,173.9 974.5,174.4 974.7,175.3 974.9,155.2 975.1,160.6 975.3,175.6 975.5,175.4 975.7,174.2 975.9,174.2 976.1,175.1 976.3,175.1 976.5,173.4 976.7,174.8 976.9,175.4 977.1,171.6 977.3,165.9 977.5,174.8 977.7,175.5 977.9,161.3 978.1,174.2 978.3,169.0 978.5,172.2 978.7,158.2 978.9,174.1 979.1,175.2 979.3,174.3 979.5,174.8 979.7,175.0 979.9,174.4 980.1,175.4 980.3,174.3 980.5,173.6 980.7,175.7 980.9,176.0 981.1,169.1 981.3,161.5 981.5,174.3 981.7,175.0 981.9,175.4 982.1,172.4 982.3,175.1 982.5,162.5 982.7,167.5 982.9,175.8 983.1,174.7 983.3,175.3 983.5,174.4 983.7,168.7 983.9,172.2 984.1,174.7 984.3,174.6 984.5,166.4 984.7,175.9 984.9,175.4 985.1,174.5 985.3,174.8 985.5,175.1 985.7,175.3 985.9,174.8 986.1,175.2 986.3,173.1 986.5,170.4 986.7,174.1 986.9,129.9 987.1,174.4 987.3,174.2 987.5,170.8 987.7,158.7 987.9,175.4 988.1,173.1 988.3,174.7 988.5,169.3 988.7,174.2 988.9,175.2 989.1,174.5 989.3,175.2 989.5,174.9 989.7,175.2 989.9,175.5 990.1,172.8 990.3,170.7 990.5,175.3 990.7,165.3 990.9,168.9 991.1,174.6 991.3,174.2 991.5,175.5 991.7,175.4 991.9,174.8 992.1,174.6 992.3,175.0 992.5,175.6 992.7,156.9 992.9,169.5 993.1,173.9 993.3,170.3 993.5,175.9 993.7,174.3 993.9,175.6 994.1,171.7 994.3,171.1 994.5,173.3 994.7,175.5 994.9,174.0 995.1,171.6 995.3,174.5 995.5,175.9 995.7,174.8 995.9,161.1 996.1,158.1 996.3,174.3 996.5,174.9 996.7,175.2 996.9,175.7 997.1,164.4 997.3,174.2 997.5,175.4 997.7,165.8 997.9,174.9 998.1,175.2 998.3,165.0 998.5,165.7 998.7,175.5 998.9,175.1 999.1,174.9 999.3,171.5 999.5,173.9 999.7,175.5 999.9,174.9 1000.1,174.3 1000.3,175.4 1000.5,169.3 1000.7,174.2" fill="none" stroke="#16a07e" stroke-width="0.55" stroke-linejoin="round"/>
<polyline points="801.0,174.1 801.2,174.8 801.4,174.4 801.6,175.5 801.8,174.7 802.0,172.7 802.2,175.2 802.4,175.4 802.6,172.9 802.8,174.6 803.0,175.4 803.2,174.6 803.4,172.6 803.6,175.4 803.8,173.7 804.0,174.5 804.2,175.4 804.4,175.4 804.6,172.9 804.8,175.3 805.0,175.2 805.2,174.6 805.4,175.2 805.6,175.5 805.8,175.4 806.0,175.1 806.2,174.2 806.4,174.8 806.6,175.2 806.8,175.4 807.0,174.1 807.2,175.4 807.4,174.4 807.6,175.1 807.8,175.0 808.0,175.3 808.2,175.4 808.4,175.4 808.6,174.7 808.8,175.4 809.0,175.5 809.2,175.4 809.4,173.2 809.6,174.4 809.8,174.9 810.0,175.3 810.2,173.9 810.4,175.4 810.6,174.7 810.8,175.5 811.0,174.7 811.2,172.8 811.4,174.4 811.6,175.5 811.8,174.9 812.0,175.4 812.2,173.2 812.4,175.5 812.6,175.5 812.8,175.5 813.0,175.3 813.2,173.5 813.4,174.9 813.6,174.6 813.8,175.5 814.0,175.4 814.2,175.3 814.4,174.7 814.6,174.2 814.8,174.9 815.0,175.4 815.2,175.4 815.4,175.2 815.6,175.4 815.8,174.2 816.0,173.4 816.2,173.9 816.4,175.4 816.6,174.0 816.8,175.5 817.0,175.4 817.2,174.5 817.4,175.4 817.6,173.8 817.8,174.5 818.0,174.7 818.2,174.8 818.4,173.2 818.6,173.8 818.8,175.5 819.0,172.7 819.2,175.2 819.4,175.4 819.6,173.6 819.8,173.2 820.0,174.1 820.2,174.4 820.4,175.5 820.6,175.4 820.8,173.9 821.0,172.6 821.2,175.4 821.4,174.2 821.6,175.4 821.8,174.2 822.0,175.3 822.2,175.5 822.4,175.4 822.6,174.9 822.8,175.1 823.0,174.5 823.2,175.3 823.4,174.8 823.6,175.3 823.8,174.1 824.0,175.5 824.2,174.9 824.4,174.9 824.6,175.5 824.8,174.2 825.0,174.7 825.2,173.0 825.4,175.4 825.6,175.2 825.8,173.6 826.0,173.0 826.2,174.5 826.4,175.3 826.6,174.3 826.8,175.2 827.0,175.0 827.2,174.6 827.4,173.1 827.6,175.5 827.8,174.5 828.0,173.2 828.2,175.3 828.4,175.4 828.6,174.9 828.8,175.5 829.0,173.9 829.2,175.1 829.4,174.6 829.6,174.1 829.8,175.5 830.0,175.4 830.2,175.2 830.4,174.8 830.6,175.3 830.8,175.4 831.0,175.5 831.2,175.2 831.4,173.1 831.6,175.5 831.8,174.8 832.0,175.4 832.2,172.8 832.4,173.9 832.6,175.4 832.8,172.8 833.0,175.4 833.2,174.5 833.4,175.4 833.6,175.4 833.8,175.5 834.0,175.4 834.2,175.3 834.4,175.5 834.6,175.5 834.8,175.5 835.0,173.5 835.2,175.2 835.4,173.2 835.6,175.1 835.8,174.9 836.0,175.3 836.2,174.1 836.4,175.3 836.6,173.9 836.8,175.3 837.0,175.4 837.2,175.2 837.4,175.5 837.6,175.3 837.8,175.3 838.0,174.4 838.2,172.6 838.4,175.4 838.6,174.8 838.8,173.8 839.0,174.5 839.2,175.4 839.4,175.2 839.6,173.1 839.8,175.0 840.0,174.6 840.2,175.4 840.4,174.0 840.6,174.9 840.8,174.0 841.0,175.4 841.2,175.4 841.4,175.4 841.6,174.8 841.8,175.5 842.0,175.3 842.2,174.6 842.4,175.4 842.6,175.4 842.8,175.4 843.0,175.1 843.2,174.2 843.4,175.4 843.6,175.0 843.8,172.6 844.0,175.1 844.2,175.4 844.4,173.7 844.6,173.3 844.8,174.2 845.0,175.4 845.2,175.1 845.4,175.4 845.6,173.2 845.8,175.5 846.0,173.5 846.2,175.4 846.4,175.4 846.6,173.7 846.8,174.0 847.0,175.5 847.2,175.4 847.4,175.5 847.6,174.2 847.8,173.3 848.0,175.4 848.2,175.3 848.4,175.5 848.6,175.4 848.8,175.5 849.0,174.4 849.2,175.4 849.4,175.2 849.6,175.4 849.8,175.0 850.0,175.0 850.2,175.3 850.4,175.4 850.6,173.3 850.8,173.1 851.0,175.2 851.2,140.7 851.4,66.9 851.6,119.0 851.8,172.9 852.0,175.2 852.2,174.3 852.4,166.1 852.6,174.0 852.8,175.4 853.0,175.0 853.2,172.8 853.4,165.4 853.6,173.6 853.8,174.6 854.0,171.9 854.2,168.6 854.4,175.0 854.6,170.3 854.8,174.3 855.0,174.9 855.2,174.7 855.4,173.8 855.6,173.9 855.8,174.2 856.0,175.4 856.2,165.6 856.4,171.8 856.6,173.5 856.8,172.1 857.0,175.2 857.2,174.5 857.4,175.4 857.6,165.6 857.8,174.6 858.0,171.0 858.2,172.1 858.4,175.5 858.6,164.8 858.8,172.7 859.0,175.2 859.2,172.5 859.4,173.2 859.6,165.9 859.8,172.7 860.0,169.1 860.2,174.3 860.4,172.6 860.6,171.6 860.8,173.2 861.0,172.8 861.2,173.1 861.4,173.4 861.6,175.5 861.8,175.3 862.0,167.7 862.2,170.1 862.4,175.2 862.6,170.7 862.8,175.2 863.0,174.1 863.2,174.9 863.4,173.1 863.6,174.5 863.8,175.4 864.0,173.8 864.2,172.4 864.4,168.6 864.6,165.5 864.8,172.2 865.0,170.4 865.2,170.4 865.4,169.7 865.6,170.1 865.8,171.9 866.0,167.1 866.2,172.0 866.4,168.1 866.6,171.1 866.8,175.3 867.0,168.6 867.2,170.4 867.4,173.9 867.6,173.2 867.8,173.4 868.0,165.6 868.2,172.8 868.4,172.1 868.6,174.4 868.8,172.3 869.0,175.3 869.2,175.4 869.4,175.2 869.6,174.8 869.8,172.3 870.0,172.8 870.2,169.4 870.4,174.6 870.6,170.7 870.8,174.3 871.0,174.8 871.2,173.9 871.4,172.7 871.6,174.9 871.8,175.4 872.0,171.7 872.2,175.4 872.4,175.3 872.6,175.5 872.8,173.8 873.0,175.4 873.2,174.6 873.4,175.5 873.6,175.4 873.8,173.2 874.0,175.4 874.2,174.1 874.4,175.4 874.6,173.8 874.8,175.3 875.0,175.0 875.2,173.9 875.4,175.5 875.6,175.3 875.8,173.3 876.0,175.4 876.2,174.9 876.4,173.3 876.6,174.4 876.8,173.2 877.0,175.0 877.2,174.6 877.4,175.5 877.6,173.0 877.8,175.2 878.0,175.0 878.2,175.0 878.4,175.4 878.6,172.9 878.8,174.6 879.0,175.0 879.2,175.4 879.4,174.3 879.6,174.7 879.8,173.0 880.0,174.9 880.2,174.3 880.4,170.1 880.6,173.6 880.8,171.7 881.0,173.8 881.2,174.7 881.4,172.8 881.6,163.8 881.8,173.5 882.0,174.0 882.2,175.4 882.4,173.9 882.6,174.4 882.8,170.8 883.0,175.3 883.2,172.5 883.4,160.9 883.6,171.3 883.8,175.4 884.0,175.1 884.2,174.6 884.4,172.3 884.6,175.3 884.8,160.8 885.0,174.4 885.2,166.7 885.4,174.5 885.6,174.8 885.8,172.4 886.0,174.2 886.2,172.8 886.4,172.7 886.6,155.3 886.8,175.1 887.0,158.1 887.2,175.0 887.4,173.7 887.6,175.1 887.8,171.4 888.0,162.8 888.2,173.4 888.4,175.1 888.6,170.9 888.8,175.4 889.0,169.0 889.2,173.6 889.4,168.5 889.6,172.3 889.8,152.7 890.0,175.4 890.2,175.2 890.4,175.0 890.6,160.1 890.8,175.0 891.0,153.1 891.2,175.4 891.4,164.3 891.6,174.1 891.8,175.4 892.0,175.1 892.2,174.4 892.4,166.9 892.6,175.4 892.8,154.2 893.0,163.7 893.2,175.4 893.4,161.9 893.6,170.5 893.8,169.6 894.0,175.2 894.2,164.1 894.4,175.4 894.6,165.9 894.8,169.8 895.0,170.3 895.2,174.8 895.4,173.5 895.6,174.5 895.8,174.8 896.0,172.3 896.2,165.0 896.4,175.1 896.6,171.1 896.8,162.4 897.0,170.9 897.2,170.5 897.4,153.7 897.6,174.6 897.8,174.1 898.0,164.9 898.2,174.0 898.4,167.6 898.6,170.1 898.8,173.2 899.0,175.0 899.2,175.3 899.4,173.1 899.6,173.4 899.8,168.9 900.0,175.1 900.2,175.4 900.4,173.1 900.6,174.6 900.8,155.5 900.9,159.7 901.1,169.8 901.3,172.4 901.5,173.5 901.7,174.2 901.9,167.6 902.1,171.9 902.3,175.2 902.5,174.8 902.7,175.4 902.9,174.9 903.1,175.4 903.3,175.3 903.5,175.4 903.7,166.0 903.9,174.8 904.1,174.9 904.3,174.5 904.5,174.7 904.7,170.6 904.9,172.9 905.1,173.1 905.3,175.4 905.5,175.2 905.7,174.9 905.9,175.3 906.1,175.3 906.3,172.9 906.5,174.9 906.7,173.1 906.9,175.3 907.1,174.7 907.3,175.0 907.5,174.0 907.7,175.4 907.9,175.5 908.1,173.9 908.3,173.4 908.5,175.5 908.7,173.5 908.9,175.1 909.1,175.5 909.3,175.4 909.5,175.4 909.7,175.0 909.9,172.6 910.1,175.3 910.3,174.5 910.5,175.4 910.7,175.4 910.9,172.7 911.1,173.4 911.3,175.5 911.5,175.4 911.7,175.0 911.9,174.3 912.1,175.4 912.3,175.5 912.5,175.4 912.7,174.9 912.9,173.6 913.1,175.5 913.3,174.4 913.5,174.8 913.7,175.3 913.9,175.2 914.1,175.5 914.3,175.1 914.5,174.1 914.7,175.4 914.9,174.9 915.1,174.6 915.3,175.4 915.5,175.2 915.7,175.4 915.9,175.4 916.1,174.8 916.3,175.5 916.5,175.1 916.7,174.4 916.9,175.4 917.1,175.5 917.3,173.6 917.5,173.7 917.7,175.3 917.9,173.7 918.1,175.4 918.3,175.4 918.5,174.4 918.7,175.4 918.9,175.3 919.1,174.7 919.3,175.4 919.5,175.5 919.7,173.3 919.9,175.4 920.1,175.4 920.3,175.0 920.5,173.8 920.7,175.2 920.9,175.0 921.1,174.1 921.3,172.8 921.5,174.8 921.7,173.9 921.9,175.4 922.1,175.4 922.3,175.4 922.5,175.4 922.7,175.4 922.9,173.9 923.1,172.9 923.3,175.4 923.5,174.6 923.7,172.6 923.9,173.2 924.1,175.4 924.3,174.9 924.5,174.5 924.7,175.5 924.9,175.5 925.1,174.4 925.3,175.1 925.5,174.5 925.7,175.4 925.9,175.4 926.1,174.1 926.3,175.3 926.5,175.1 926.7,174.1 926.9,175.5 927.1,175.4 927.3,175.1 927.5,174.7 927.7,175.3 927.9,175.1 928.1,174.2 928.3,173.6 928.5,175.4 928.7,174.3 928.9,175.4 929.1,175.1 929.3,174.3 929.5,175.4 929.7,174.8 929.9,175.4 930.1,174.8 930.3,175.1 930.5,175.2 930.7,175.4 930.9,175.3 931.1,174.0 931.3,175.4 931.5,174.1 931.7,173.8 931.9,173.2 932.1,175.0 932.3,175.1 932.5,175.1 932.7,175.0 932.9,173.5 933.1,174.9 933.3,174.9 933.5,174.1 933.7,175.4 933.9,175.5 934.1,173.1 934.3,175.3 934.5,175.1 934.7,175.1 934.9,174.4 935.1,175.4 935.3,175.4 935.5,175.4 935.7,174.4 935.9,175.2 936.1,172.6 936.3,173.5 936.5,172.8 936.7,175.4 936.9,175.4 937.1,174.2 937.3,174.7 937.5,175.4 937.7,175.3 937.9,175.5 938.1,172.7 938.3,175.4 938.5,174.0 938.7,175.2 938.9,174.4 939.1,175.5 939.3,175.0 939.5,175.2 939.7,174.5 939.9,175.4 940.1,173.1 940.3,172.6 940.5,175.4 940.7,175.5 940.9,175.0 941.1,175.2 941.3,174.7 941.5,172.7 941.7,174.4 941.9,174.4 942.1,173.4 942.3,174.8 942.5,175.3 942.7,175.4 942.9,175.4 943.1,174.8 943.3,175.4 943.5,175.4 943.7,174.5 943.9,173.9 944.1,175.4 944.3,173.1 944.5,174.1 944.7,175.3 944.9,175.2 945.1,175.4 945.3,174.1 945.5,173.3 945.7,174.0 945.9,175.5 946.1,173.0 946.3,175.3 946.5,174.8 946.7,175.4 946.9,175.3 947.1,175.4 947.3,175.5 947.5,174.9 947.7,175.1 947.9,174.6 948.1,175.3 948.3,172.7 948.5,174.4 948.7,174.2 948.9,175.4 949.1,173.2 949.3,174.2 949.5,174.4 949.7,175.5 949.9,175.0 950.1,175.5 950.3,175.4 950.5,174.5 950.7,175.3 950.9,173.9 951.1,173.9 951.3,175.5 951.5,175.4 951.7,174.5 951.9,175.2 952.1,173.5 952.3,173.5 952.5,173.9 952.7,174.5 952.9,175.4 953.1,175.3 953.3,175.5 953.5,174.5 953.7,175.5 953.9,175.3 954.1,175.5 954.3,175.5 954.5,174.2 954.7,175.4 954.9,174.8 955.1,175.3 955.3,175.1 955.5,172.9 955.7,175.3 955.9,175.3 956.1,173.4 956.3,175.2 956.5,174.0 956.7,173.8 956.9,175.4 957.1,175.4 957.3,174.1 957.5,174.5 957.7,175.3 957.9,175.4 958.1,175.4 958.3,174.1 958.5,174.4 958.7,175.4 958.9,175.4 959.1,174.4 959.3,175.2 959.5,174.8 959.7,175.3 959.9,175.4 960.1,175.3 960.3,175.0 960.5,174.7 960.7,175.5 960.9,175.5 961.1,175.2 961.3,174.0 961.5,175.2 961.7,172.9 961.9,175.4 962.1,175.1 962.3,172.9 962.5,173.6 962.7,175.4 962.9,175.2 963.1,175.4 963.3,175.4 963.5,173.0 963.7,174.9 963.9,175.2 964.1,175.4 964.3,173.7 964.5,175.1 964.7,173.1 964.9,173.9 965.1,173.2 965.3,175.5 965.5,175.2 965.7,173.9 965.9,175.2 966.1,173.2 966.3,175.2 966.5,174.2 966.7,175.5 966.9,174.3 967.1,175.2 967.3,173.0 967.5,174.3 967.7,174.1 967.9,174.6 968.1,172.6 968.3,175.5 968.5,174.4 968.7,173.5 968.9,175.5 969.1,175.0 969.3,175.4 969.5,174.8 969.7,175.4 969.9,175.3 970.1,174.8 970.3,175.4 970.5,174.3 970.7,175.4 970.9,175.5 971.1,174.9 971.3,175.1 971.5,175.1 971.7,175.4 971.9,174.5 972.1,173.4 972.3,173.9 972.5,174.3 972.7,175.5 972.9,173.7 973.1,175.5 973.3,173.4 973.5,175.3 973.7,174.7 973.9,175.4 974.1,175.5 974.3,174.9 974.5,175.2 974.7,175.4 974.9,174.8 975.1,174.4 975.3,175.4 975.5,173.8 975.7,175.1 975.9,172.7 976.1,174.7 976.3,173.4 976.5,175.4 976.7,175.2 976.9,175.5 977.1,175.0 977.3,173.9 977.5,173.7 977.7,173.9 977.9,174.9 978.1,173.1 978.3,174.6 978.5,175.0 978.7,175.4 978.9,174.5 979.1,173.0 979.3,175.5 979.5,175.3 979.7,173.7 979.9,174.8 980.1,174.9 980.3,175.1 980.5,175.5 980.7,174.7 980.9,174.9 981.1,173.9 981.3,174.9 981.5,174.8 981.7,174.8 981.9,175.4 982.1,175.2 982.3,174.1 982.5,175.4 982.7,173.7 982.9,173.5 983.1,175.4 983.3,175.4 983.5,173.0 983.7,175.4 983.9,174.5 984.1,174.5 984.3,172.7 984.5,175.4 984.7,174.4 984.9,173.0 985.1,173.0 985.3,175.2 985.5,175.2 985.7,174.2 985.9,174.6 986.1,175.2 986.3,174.2 986.5,175.4 986.7,175.0 986.9,174.8 987.1,173.7 987.3,173.2 987.5,175.5 987.7,175.5 987.9,175.1 988.1,175.3 988.3,175.5 988.5,175.4 988.7,174.3 988.9,175.4 989.1,174.2 989.3,174.5 989.5,175.5 989.7,174.9 989.9,175.4 990.1,175.5 990.3,175.4 990.5,173.0 990.7,173.2 990.9,174.3 991.1,175.4 991.3,175.4 991.5,175.4 991.7,173.4 991.9,175.5 992.1,174.9 992.3,175.0 992.5,172.6 992.7,173.4 992.9,175.5 993.1,173.0 993.3,175.2 993.5,174.3 993.7,173.9 993.9,175.5 994.1,175.4 994.3,175.4 994.5,174.8 994.7,174.8 994.9,174.4 995.1,175.4 995.3,174.7 995.5,175.3 995.7,174.7 995.9,174.6 996.1,175.1 996.3,175.1 996.5,175.4 996.7,175.5 996.9,174.6 997.1,173.8 997.3,174.2 997.5,175.3 997.7,174.2 997.9,174.5 998.1,175.4 998.3,174.5 998.5,175.3 998.7,174.8 998.9,172.7 999.1,174.1 999.3,172.9 999.5,174.9 999.7,175.3 999.9,173.6 1000.1,175.4 1000.3,175.5 1000.5,173.5 1000.7,175.4" fill="none" stroke="#e07020" stroke-width="0.5" stroke-linejoin="round"/>
<rect x="801" y="174.2" width="200" height="2.8" fill="#d86a20"/>
<rect x="986.4" y="63.8" width="23.6" height="16" fill="#fff" stroke="#ddd" stroke-width="0.4"/>
<line x1="988" y1="67.5" x2="993" y2="67.5" stroke="#2d55c8" stroke-width="0.7"/>
<text x="994.5" y="68.5" font-size="2.8" fill="#333" font-family="Liberation Sans">STAsite</text>
<line x1="988" y1="71.1" x2="993" y2="71.1" stroke="#e6a23c" stroke-width="0.7"/>
<text x="994.5" y="72.1" font-size="2.8" fill="#333" font-family="Liberation Sans">Meander</text>
<line x1="988" y1="74.7" x2="993" y2="74.7" stroke="#16987a" stroke-width="0.7"/>
<text x="994.5" y="75.7" font-size="2.8" fill="#333" font-family="Liberation Sans">TotalTSDL</text>
<line x1="988" y1="78.3" x2="993" y2="78.3" stroke="#d6621a" stroke-width="0.7"/>
<text x="994.5" y="79.3" font-size="2.8" fill="#333" font-family="Liberation Sans">TotalssDM</text>
</svg>
<!-- PANEL 2 -->
<div class="a" style="left:250px;top:243.8px;width:340px;height:186px;background:#fff"></div>
<div class="a" style="left:605px;top:243px;width:342px;height:187.7px;background:#fff"></div>
<div class="bx" style="left:964.4px;top:245.4px;width:105px;height:85.2px;background:#92D66A">Separation of<br>different<br>modes</div>
<div class="bx" style="left:964.4px;top:341px;width:105px;height:89.8px;background:#F4B8B6">Decomposing<br>noise</div>

<svg style="left:0;top:0" width="1108" height="1018">
<g stroke="#585858" stroke-width="0.9" fill="none">
<line x1="266.9" y1="337.2" x2="573.4" y2="337.2"/>
<polyline points="398.3,310.7 398.3,245.3 535.5,245.3 535.5,337.2"/>
<polyline points="294.7,406.9 294.7,428.2 538.5,428.2 538.5,337.2"/>
<rect x="252.1" y="315.4" width="14.8" height="43.8" rx="7" fill="#fff"/>
<polygon points="294.7,267.3 312.1,337.1 294.7,406.9 277.2,337.1" fill="#fff"/>
<rect x="323.4" y="280" width="23.1" height="114.3" fill="#fff"/>
<rect x="357.4" y="315.4" width="18.3" height="43" fill="#fff"/>
<polygon points="398.5,310.7 409.8,337.4 398.5,364.1 387.2,337.4" fill="#fff"/>
<rect x="420.6" y="315.5" width="18.9" height="43.6" fill="#fff"/>
<rect x="450" y="256.6" width="34.7" height="161.4" fill="#fff"/>
<rect x="496.5" y="256.6" width="33.7" height="161.4" fill="#fff"/>
<rect x="541.4" y="256.6" width="23.4" height="161.4" fill="#fff"/>
<rect x="573.4" y="316.5" width="15.1" height="42.6" rx="7.5" fill="#fff"/>
</g>
<polygon points="266.9,337.2 269.5,336.0 269.5,338.4" fill="#222"/>
<polygon points="312.1,337.2 314.7,336.0 314.7,338.4" fill="#222"/>
<polygon points="346.5,337.2 349.1,336.0 349.1,338.4" fill="#222"/>
<polygon points="375.7,337.2 378.3,336.0 378.3,338.4" fill="#222"/>
<polygon points="409.8,337.2 412.4,336.0 412.4,338.4" fill="#222"/>
<polygon points="439.5,337.2 442.1,336.0 442.1,338.4" fill="#222"/>
<polygon points="484.7,337.2 487.3,336.0 487.3,338.4" fill="#222"/>
<polygon points="530.2,337.2 532.8,336.0 532.8,338.4" fill="#222"/>
<polygon points="541.4,337.2 544.0,336.0 544.0,338.4" fill="#222"/>
<polygon points="564.8,337.2 567.4,336.0 567.4,338.4" fill="#222"/>
<text transform="translate(259.5,337.2) rotate(90)" font-size="6.5" text-anchor="middle" fill="#111" stroke="#111" stroke-width="0.18" font-family="Liberation Serif" dominant-baseline="central">Stop</text>
<text transform="translate(286.0,337.0) rotate(90)" font-size="6" text-anchor="middle" fill="#111" stroke="#111" stroke-width="0.18" font-family="Liberation Serif" dominant-baseline="central">&amp; &amp;n&gt;N</text>
<text transform="translate(298.5,337.0) rotate(90)" font-size="6" text-anchor="middle" fill="#111" stroke="#111" stroke-width="0.18" font-family="Liberation Serif" dominant-baseline="central" textLength="72">&#8721;||&#251;&#8345;&#8314;&#185;&#8722;&#251;&#8345;||&#178;/||&#251;&#8345;||&#178;&lt;&#949;</text>
<text transform="translate(334.5,337.0) rotate(90)" font-size="6.2" text-anchor="middle" fill="#111" stroke="#111" stroke-width="0.18" font-family="Liberation Serif" dominant-baseline="central" textLength="108">&#955;&#770;&#8319;&#8314;&#185;(&#969;)&#8592;&#955;&#770;&#8319;(&#969;)+&#964;(x&#770;(&#969;)&#8722;&#8721;&#251;&#8345;&#8314;&#185;(&#969;))</text>
<text transform="translate(366.5,337.0) rotate(90)" font-size="8" text-anchor="middle" fill="#111" stroke="#111" stroke-width="0.18" font-family="Liberation Serif" dominant-baseline="central" font-style="italic">n = n + 1</text>
<text transform="translate(398.5,337.4) rotate(90)" font-size="8" text-anchor="middle" fill="#111" stroke="#111" stroke-width="0.18" font-family="Liberation Serif" dominant-baseline="central" font-style="italic">k &#8804; K</text>
<text transform="translate(430.0,337.3) rotate(90)" font-size="8" text-anchor="middle" fill="#111" stroke="#111" stroke-width="0.18" font-family="Liberation Serif" dominant-baseline="central" font-style="italic">k = k + 1</text>
<text transform="translate(470.0,302.0) rotate(90)" font-size="5.6" text-anchor="middle" fill="#111" stroke="#111" stroke-width="0.18" font-family="Liberation Serif" dominant-baseline="central">&#969;&#8345;&#8319;&#8314;&#185; =</text>
<text transform="translate(474.5,350.0) rotate(90)" font-size="5.6" text-anchor="middle" fill="#111" stroke="#111" stroke-width="0.18" font-family="Liberation Serif" dominant-baseline="central">&#8747;&#969;|&#251;&#8345;&#8314;&#185;(&#969;)|&#178;d&#969;</text>
<line x1="468.5" y1="320" x2="468.5" y2="380" stroke="#333" stroke-width="0.6"/>
<text transform="translate(461.0,350.0) rotate(90)" font-size="5.6" text-anchor="middle" fill="#111" stroke="#111" stroke-width="0.18" font-family="Liberation Serif" dominant-baseline="central">&#8747;|&#251;&#8345;&#8314;&#185;(&#969;)|&#178;d&#969;</text>
<text transform="translate(507.0,278.0) rotate(90)" font-size="5.4" text-anchor="middle" fill="#111" stroke="#111" stroke-width="0.18" font-family="Liberation Serif" dominant-baseline="central">&#251;&#8345;&#8314;&#185;(&#969;) =</text>
<text transform="translate(519.0,352.0) rotate(90)" font-size="5.4" text-anchor="middle" fill="#111" stroke="#111" stroke-width="0.18" font-family="Liberation Serif" dominant-baseline="central" textLength="120">x&#770;(&#969;)&#8722;&#8721;&#251;&#7522;&#8314;&#185;(&#969;)&#8722;&#8721;&#251;&#7522;&#8319;(&#969;)+&#955;&#770;&#8319;(&#969;)/2</text>
<line x1="513.5" y1="292" x2="513.5" y2="412" stroke="#333" stroke-width="0.6"/>
<text transform="translate(505.0,350.0) rotate(90)" font-size="5.4" text-anchor="middle" fill="#111" stroke="#111" stroke-width="0.18" font-family="Liberation Serif" dominant-baseline="central">1 + 2&#945;(&#969; &#8722; &#969;&#8345;&#8319;)&#178;</text>
<text transform="translate(553.0,337.0) rotate(90)" font-size="6.2" text-anchor="middle" fill="#111" stroke="#111" stroke-width="0.18" font-family="Liberation Serif" dominant-baseline="central" textLength="147">Initialize {&#251;&#8345;&#185;} = 0, {&#969;&#8345;&#185;} = 0, &#955;&#770;&#185; = 0, n = 1, k = 1</text>
<text transform="translate(581.0,337.8) rotate(90)" font-size="6.5" text-anchor="middle" fill="#111" stroke="#111" stroke-width="0.18" font-family="Liberation Serif" dominant-baseline="central">Start</text>
<text transform="translate(272.5,348.0) rotate(90)" font-size="7" text-anchor="middle" fill="#111" stroke="#111" stroke-width="0.18" font-family="Liberation Serif" dominant-baseline="central" font-style="italic">Yes</text>
<text transform="translate(382.5,345.5) rotate(90)" font-size="7" text-anchor="middle" fill="#111" stroke="#111" stroke-width="0.18" font-family="Liberation Serif" dominant-baseline="central" font-style="italic">No</text>
<text transform="translate(404.5,303.0) rotate(90)" font-size="7" text-anchor="middle" fill="#111" stroke="#111" stroke-width="0.18" font-family="Liberation Serif" dominant-baseline="central" font-style="italic">Yes</text>
<text transform="translate(299.5,412.0) rotate(90)" font-size="7" text-anchor="middle" fill="#111" stroke="#111" stroke-width="0.18" font-family="Liberation Serif" dominant-baseline="central" font-style="italic">No</text>
<rect x="624.0" y="249.8" width="322.0" height="20.2" fill="none" stroke="#444" stroke-width="0.5"/>
<line x1="639.0" y1="249.8" x2="639.0" y2="270.0" stroke="#e2e2e2" stroke-width="0.4"/>
<text x="639.0" y="274.6" font-size="3.3" fill="#444" text-anchor="middle" font-family="Liberation Sans">0</text>
<line x1="705.8" y1="249.8" x2="705.8" y2="270.0" stroke="#e2e2e2" stroke-width="0.4"/>
<text x="705.8" y="274.6" font-size="3.3" fill="#444" text-anchor="middle" font-family="Liberation Sans">10000</text>
<line x1="772.9" y1="249.8" x2="772.9" y2="270.0" stroke="#e2e2e2" stroke-width="0.4"/>
<text x="772.9" y="274.6" font-size="3.3" fill="#444" text-anchor="middle" font-family="Liberation Sans">20000</text>
<line x1="839.5" y1="249.8" x2="839.5" y2="270.0" stroke="#e2e2e2" stroke-width="0.4"/>
<text x="839.5" y="274.6" font-size="3.3" fill="#444" text-anchor="middle" font-family="Liberation Sans">30000</text>
<line x1="906.1" y1="249.8" x2="906.1" y2="270.0" stroke="#e2e2e2" stroke-width="0.4"/>
<text x="906.1" y="274.6" font-size="3.3" fill="#444" text-anchor="middle" font-family="Liberation Sans">40000</text>
<line x1="624.0" y1="252.3" x2="946.0" y2="252.3" stroke="#e2e2e2" stroke-width="0.4"/>
<text x="622.0" y="253.4" font-size="3.3" fill="#444" text-anchor="end" font-family="Liberation Sans">1.0</text>
<line x1="624.0" y1="259.9" x2="946.0" y2="259.9" stroke="#e2e2e2" stroke-width="0.4"/>
<text x="622.0" y="261.0" font-size="3.3" fill="#444" text-anchor="end" font-family="Liberation Sans">0.5</text>
<line x1="624.0" y1="267.5" x2="946.0" y2="267.5" stroke="#e2e2e2" stroke-width="0.4"/>
<text x="622.0" y="268.6" font-size="3.3" fill="#444" text-anchor="end" font-family="Liberation Sans">0.0</text>
<text transform="translate(613.0,259.9) rotate(-90)" font-size="3.3" fill="#444" text-anchor="middle" font-family="Liberation Sans">Power</text>
<text x="787.0" y="248.2" font-size="3.5" fill="#444" text-anchor="middle" font-family="Liberation Sans">Site1: Power - VMD</text>
<polyline points="638.7,256.9 638.8,252.2 638.9,253.1 639.0,266.9 639.1,265.0 639.3,252.2 639.4,267.8 639.5,252.2 639.6,252.6 639.7,260.8 639.8,264.9 639.9,265.5 640.0,266.1 640.2,261.4 640.3,259.9 640.4,258.7 640.5,252.2 640.6,252.7 640.7,257.0 640.8,252.2 640.9,267.1 641.1,267.8 641.2,257.2 641.3,267.8 641.4,267.8 641.5,259.6 641.6,260.8 641.7,252.2 641.8,256.8 642.0,259.6 642.1,260.1 642.2,266.3 642.3,267.8 642.4,267.7 642.5,255.2 642.6,267.5 642.7,263.3 642.9,267.8 643.0,252.2 643.1,267.8 643.2,265.8 643.3,252.2 643.4,259.8 643.5,252.2 643.6,256.5 643.8,254.0 643.9,267.8 644.0,259.0 644.1,259.8 644.2,252.2 644.3,263.5 644.4,257.5 644.5,267.8 644.7,262.8 644.8,264.4 644.9,267.8 645.0,252.2 645.1,263.0 645.2,252.2 645.3,257.8 645.4,257.4 645.6,256.6 645.7,255.6 645.8,267.8 645.9,261.5 646.0,266.5 646.1,262.4 646.2,267.8 646.3,252.2 646.5,267.1 646.6,255.7 646.7,265.0 646.8,252.2 646.9,256.0 647.0,267.8 647.1,252.2 647.2,252.2 647.4,252.2 647.5,258.3 647.6,267.8 647.7,267.7 647.8,252.2 647.9,258.7 648.0,267.8 648.1,252.2 648.3,256.5 648.4,258.3 648.5,263.1 648.6,262.2 648.7,266.5 648.8,267.8 648.9,252.2 649.0,260.8 649.2,258.8 649.3,264.4 649.4,253.7 649.5,267.8 649.6,263.2 649.7,267.8 649.8,267.8 649.9,252.2 650.1,256.1 650.2,261.8 650.3,259.4 650.4,252.2 650.5,263.9 650.6,257.7 650.7,255.4 650.8,263.6 651.0,259.5 651.1,253.4 651.2,252.2 651.3,267.8 651.4,252.2 651.5,267.8 651.6,253.7 651.7,252.2 651.9,267.8 652.0,262.0 652.1,252.2 652.2,267.8 652.3,256.8 652.4,252.7 652.5,259.7 652.6,254.4 652.8,266.8 652.9,267.5 653.0,263.4 653.1,267.8 653.2,263.8 653.3,252.2 653.4,258.2 653.5,264.0 653.7,265.7 653.8,252.2 653.9,261.4 654.0,252.2 654.1,259.6 654.2,259.5 654.3,252.2 654.4,253.9 654.6,258.0 654.7,261.8 654.8,252.2 654.9,262.2 655.0,252.2 655.1,267.8 655.2,261.7 655.3,259.5 655.5,252.2 655.6,266.2 655.7,252.4 655.8,255.6 655.9,254.6 656.0,256.8 656.1,252.2 656.2,264.2 656.4,262.5 656.5,267.4 656.6,267.8 656.7,267.2 656.8,252.2 656.9,252.2 657.0,267.8 657.1,257.4 657.3,260.5 657.4,257.6 657.5,256.0 657.6,264.8 657.7,252.2 657.8,260.9 657.9,256.8 658.0,256.6 658.2,267.8 658.3,267.8 658.4,262.2 658.5,253.4 658.6,252.2 658.7,254.3 658.8,267.8 658.9,252.2 659.1,252.5 659.2,252.2 659.3,259.4 659.4,252.2 659.5,267.8 659.6,267.8 659.7,267.8 659.8,266.2 660.0,266.3 660.1,267.8 660.2,258.3 660.3,267.8 660.4,257.7 660.5,267.8 660.6,255.6 660.7,267.8 660.9,264.7 661.0,252.2 661.1,259.0 661.2,252.2 661.3,256.1 661.4,257.2 661.5,267.7 661.6,258.1 661.8,267.8 661.9,252.5 662.0,252.2 662.1,252.2 662.2,267.8 662.3,264.0 662.4,264.5 662.5,267.8 662.7,256.8 662.8,252.6 662.9,264.6 663.0,252.2 663.1,252.6 663.2,267.8 663.3,253.3 663.4,252.2 663.6,267.6 663.7,258.2 663.8,256.5 663.9,257.3 664.0,267.8 664.1,256.0 664.2,256.7 664.3,252.2 664.5,252.4 664.6,264.3 664.7,254.5 664.8,252.2 664.9,252.2 665.0,267.8 665.1,267.8 665.2,256.2 665.4,267.1 665.5,258.4 665.6,252.2 665.7,263.0 665.8,266.2 665.9,261.1 666.0,256.1 666.1,267.8 666.3,263.0 666.4,267.8 666.5,255.9 666.6,252.2 666.7,263.1 666.8,263.2 666.9,259.0 667.0,267.1 667.2,266.3 667.3,264.2 667.4,261.1 667.5,267.8 667.6,253.7 667.7,258.0 667.8,265.0 667.9,267.8 668.1,253.4 668.2,267.8 668.3,267.8 668.4,267.8 668.5,267.8 668.6,252.2 668.7,265.8 668.8,264.8 669.0,252.2 669.1,257.0 669.2,267.8 669.3,261.6 669.4,252.2 669.5,263.1 669.6,254.7 669.7,267.8 669.9,254.3 670.0,253.1 670.1,252.2 670.2,255.7 670.3,263.2 670.4,267.8 670.5,259.5 670.6,253.6 670.8,267.7 670.9,265.8 671.0,259.1 671.1,253.8 671.2,252.2 671.3,267.8 671.4,267.8 671.5,252.5 671.7,256.4 671.8,254.5 671.9,252.2 672.0,252.2 672.1,252.2 672.2,253.1 672.3,262.6 672.4,256.5 672.6,267.8 672.7,253.5 672.8,253.6 672.9,254.5 673.0,261.4 673.1,263.0 673.2,262.0 673.3,267.8 673.5,252.2 673.6,258.9 673.7,262.8 673.8,258.8 673.9,254.5 674.0,263.0 674.1,252.2 674.2,252.2 674.4,262.8 674.5,267.8 674.6,253.5 674.7,252.2 674.8,267.8 674.9,254.7 675.0,252.2 675.1,252.2 675.3,267.8 675.4,267.8 675.5,252.2 675.6,267.8 675.7,267.8 675.8,258.1 675.9,261.3 676.0,253.8 676.2,267.7 676.3,252.2 676.4,267.1 676.5,253.3 676.6,267.8 676.7,260.7 676.8,267.8 676.9,264.6 677.1,264.7 677.2,254.5 677.3,261.1 677.4,267.8 677.5,252.2 677.6,252.2 677.7,252.2 677.8,266.3 678.0,262.6 678.1,266.8 678.2,267.8 678.3,267.8 678.4,259.9 678.5,267.8 678.6,267.8 678.7,252.2 678.9,260.4 679.0,267.8 679.1,255.8 679.2,265.8 679.3,259.3 679.4,265.4 679.5,259.6 679.6,256.8 679.8,259.1 679.9,262.6 680.0,252.7 680.1,252.2 680.2,267.8 680.3,267.8 680.4,267.8 680.5,252.2 680.6,252.2 680.8,266.7 680.9,252.2 681.0,267.3 681.1,259.8 681.2,260.1 681.3,252.2 681.4,267.8 681.5,264.6 681.7,257.5 681.8,267.8 681.9,266.6 682.0,260.9 682.1,252.2 682.2,253.5 682.3,252.2 682.4,253.5 682.6,254.8 682.7,252.2 682.8,255.5 682.9,254.1 683.0,265.0 683.1,267.8 683.2,253.6 683.3,267.8 683.5,252.2 683.6,257.6 683.7,264.3 683.8,252.2 683.9,267.8 684.0,259.6 684.1,267.8 684.2,252.2 684.4,258.1 684.5,252.4 684.6,265.4 684.7,252.5 684.8,254.9 684.9,256.4 685.0,252.2 685.1,261.7 685.3,262.1 685.4,255.2 685.5,252.2 685.6,264.1 685.7,255.8 685.8,267.3 685.9,258.7 686.0,253.3 686.2,267.8 686.3,254.3 686.4,267.8 686.5,252.2 686.6,260.8 686.7,262.3 686.8,254.5 686.9,259.4 687.1,254.2 687.2,267.8 687.3,258.4 687.4,258.5 687.5,252.2 687.6,267.8 687.7,261.2 687.8,256.7 688.0,258.7 688.1,267.8 688.2,257.7 688.3,266.9 688.4,267.6 688.5,252.2 688.6,267.5 688.7,261.1 688.9,253.8 689.0,254.8 689.1,258.7 689.2,252.3 689.3,260.9 689.4,257.0 689.5,252.2 689.6,255.6 689.8,256.5 689.9,262.3 690.0,258.5 690.1,262.6 690.2,253.9 690.3,263.0 690.4,260.8 690.5,253.6 690.7,259.9 690.8,264.0 690.9,252.2 691.0,263.0 691.1,252.2 691.2,252.9 691.3,261.3 691.4,254.7 691.6,267.8 691.7,262.8 691.8,252.2 691.9,258.0 692.0,258.6 692.1,255.9 692.2,255.6 692.3,257.9 692.5,262.0 692.6,267.8 692.7,265.2 692.8,265.2 692.9,261.7 693.0,252.2 693.1,263.7 693.2,261.3 693.4,263.2 693.5,258.0 693.6,252.2 693.7,252.2 693.8,263.1 693.9,265.8 694.0,252.2 694.1,260.2 694.3,255.4 694.4,267.8 694.5,252.2 694.6,264.7 694.7,260.1 694.8,267.5 694.9,262.0 695.0,252.2 695.2,252.2 695.3,260.7 695.4,253.3 695.5,261.0 695.6,263.2 695.7,258.9 695.8,267.5 695.9,264.6 696.1,254.8 696.2,253.2 696.3,267.8 696.4,254.2 696.5,252.2 696.6,261.4 696.7,267.8 696.8,255.4 697.0,266.3 697.1,256.4 697.2,263.1 697.3,256.6 697.4,266.0 697.5,260.6 697.6,259.4 697.7,256.7 697.9,267.4 698.0,252.2 698.1,265.3 698.2,264.8 698.3,266.1 698.4,267.8 698.5,261.9 698.6,253.2 698.8,254.8 698.9,267.6 699.0,267.8 699.1,264.5 699.2,253.3 699.3,260.3 699.4,252.2 699.5,256.1 699.7,257.0 699.8,253.3 699.9,253.8 700.0,263.9 700.1,266.1 700.2,261.6 700.3,260.3 700.4,267.8 700.6,261.5 700.7,256.5 700.8,267.8 700.9,267.8 701.0,267.8 701.1,265.4 701.2,252.2 701.3,267.8 701.5,267.8 701.6,267.8 701.7,260.6 701.8,267.8 701.9,261.0 702.0,267.8 702.1,265.7 702.2,252.7 702.4,267.8 702.5,257.1 702.6,262.3 702.7,262.1 702.8,252.2 702.9,267.8 703.0,252.2 703.1,252.2 703.3,255.8 703.4,267.8 703.5,255.9 703.6,257.5 703.7,253.2 703.8,267.1 703.9,252.2 704.0,252.2 704.2,267.8 704.3,264.6 704.4,267.8 704.5,252.2 704.6,252.2 704.7,252.2 704.8,257.2 704.9,255.9 705.1,255.5 705.2,258.2 705.3,252.2 705.4,257.3 705.5,264.1 705.6,259.7 705.7,267.8 705.8,254.4 706.0,255.2 706.1,262.0 706.2,252.2 706.3,253.6 706.4,264.1 706.5,267.8 706.6,267.8 706.7,267.8 706.9,264.9 707.0,261.3 707.1,252.2 707.2,265.5 707.3,252.2 707.4,255.5 707.5,252.2 707.6,262.4 707.8,267.8 707.9,252.8 708.0,266.4 708.1,267.8 708.2,252.5 708.3,255.3 708.4,267.2 708.5,265.8 708.7,252.2 708.8,265.8 708.9,254.9 709.0,267.8 709.1,252.2 709.2,267.8 709.3,259.6 709.4,267.8 709.6,258.8 709.7,252.2 709.8,267.8 709.9,265.6 710.0,253.4 710.1,257.3 710.2,264.7 710.3,256.8 710.5,261.1 710.6,252.2 710.7,265.2 710.8,253.6 710.9,256.6 711.0,254.0 711.1,263.0 711.2,254.4 711.4,255.0 711.5,262.8 711.6,267.8 711.7,252.2 711.8,254.7 711.9,267.4 712.0,254.2 712.1,265.5 712.3,260.8 712.4,252.2 712.5,261.3 712.6,265.3 712.7,264.9 712.8,267.8 712.9,267.0 713.0,265.7 713.2,267.8 713.3,267.8 713.4,260.9 713.5,267.1 713.6,254.0 713.7,252.2 713.8,265.7 713.9,258.2 714.1,259.8 714.2,267.8 714.3,267.8 714.4,252.2 714.5,260.6 714.6,252.4 714.7,267.8 714.8,257.6 715.0,252.2 715.1,252.2 715.2,267.8 715.3,259.5 715.4,263.3 715.5,253.5 715.6,267.8 715.7,265.9 715.9,252.2 716.0,260.8 716.1,261.2 716.2,252.2 716.3,264.5 716.4,267.8 716.5,262.7 716.6,267.8 716.8,267.8 716.9,258.3 717.0,252.2 717.1,258.0 717.2,256.3 717.3,264.4 717.4,258.2 717.5,253.7 717.7,257.8 717.8,252.4 717.9,258.7 718.0,267.5 718.1,257.9 718.2,260.2 718.3,267.8 718.4,257.0 718.6,252.2 718.7,267.8 718.8,258.9 718.9,254.2 719.0,262.4 719.1,265.7 719.2,263.2 719.3,259.0 719.5,255.3 719.6,258.5 719.7,267.8 719.8,252.2 719.9,252.2 720.0,267.8 720.1,266.3 720.2,267.8 720.4,252.2 720.5,252.2 720.6,267.8 720.7,264.2 720.8,267.7 720.9,260.8 721.0,252.2 721.1,267.8 721.3,267.8 721.4,260.3 721.5,259.4 721.6,253.9 721.7,261.6 721.8,267.8 721.9,263.7 722.0,252.2 722.2,253.7 722.3,267.8 722.4,252.3 722.5,264.7 722.6,253.0 722.7,267.8 722.8,252.2 722.9,267.8 723.0,261.1 723.2,256.0 723.3,259.8 723.4,267.8 723.5,267.8 723.6,265.4 723.7,267.8 723.8,267.1 723.9,267.8 724.1,260.9 724.2,263.6 724.3,257.8 724.4,265.5 724.5,267.8 724.6,264.2 724.7,253.6 724.8,266.1 725.0,262.4 725.1,253.6 725.2,262.3 725.3,252.2 725.4,252.2 725.5,264.7 725.6,254.1 725.7,266.2 725.9,267.8 726.0,261.6 726.1,257.4 726.2,252.2 726.3,267.8 726.4,254.7 726.5,260.6 726.6,267.8 726.8,252.2 726.9,255.1 727.0,267.8 727.1,252.2 727.2,267.8 727.3,267.8 727.4,264.2 727.5,252.2 727.7,267.8 727.8,252.2 727.9,257.2 728.0,267.8 728.1,258.3 728.2,261.0 728.3,258.4 728.4,254.1 728.6,255.5 728.7,252.2 728.8,267.8 728.9,252.2 729.0,262.2 729.1,252.9 729.2,252.2 729.3,252.2 729.5,265.8 729.6,261.2 729.7,252.2 729.8,252.2 729.9,263.2 730.0,252.2 730.1,262.3 730.2,263.1 730.4,253.6 730.5,260.7 730.6,261.3 730.7,262.8 730.8,261.7 730.9,267.8 731.0,267.8 731.1,253.7 731.3,258.4 731.4,255.7 731.5,252.5 731.6,266.7 731.7,266.6 731.8,265.5 731.9,264.9 732.0,253.5 732.2,263.1 732.3,264.4 732.4,256.6 732.5,267.8 732.6,267.8 732.7,255.1 732.8,253.6 732.9,265.1 733.1,256.6 733.2,267.8 733.3,262.4 733.4,258.1 733.5,266.2 733.6,263.8 733.7,257.3 733.8,257.8 734.0,267.8 734.1,254.8 734.2,267.8 734.3,252.2 734.4,267.4 734.5,266.2 734.6,267.5 734.7,252.2 734.9,265.3 735.0,257.4 735.1,252.2 735.2,252.2 735.3,267.8 735.4,259.5 735.5,257.5 735.6,254.9 735.8,264.1 735.9,264.3 736.0,267.8 736.1,267.8 736.2,258.8 736.3,267.8 736.4,267.4 736.5,264.2 736.7,267.8 736.8,267.8 736.9,252.2 737.0,261.6 737.1,267.4 737.2,254.8 737.3,267.8 737.4,266.4 737.6,252.2 737.7,252.2 737.8,256.6 737.9,267.8 738.0,264.5 738.1,267.8 738.2,267.0 738.3,267.8 738.5,267.8 738.6,256.7 738.7,267.8 738.8,267.8 738.9,252.2 739.0,264.1 739.1,264.2 739.2,267.8 739.4,252.6 739.5,255.6 739.6,258.8 739.7,257.1 739.8,267.8 739.9,266.0 740.0,257.9 740.1,252.2 740.3,252.2 740.4,256.5 740.5,259.5 740.6,267.8 740.7,252.2 740.8,267.8 740.9,267.8 741.0,255.2 741.2,252.2 741.3,252.8 741.4,261.2 741.5,267.8 741.6,267.8 741.7,252.2 741.8,252.2 741.9,266.4 742.1,252.2 742.2,262.4 742.3,264.7 742.4,259.9 742.5,267.8 742.6,261.4 742.7,267.5 742.8,254.7 743.0,259.9 743.1,252.2 743.2,252.2 743.3,264.6 743.4,265.5 743.5,252.2 743.6,259.9 743.7,267.8 743.9,267.8 744.0,252.2 744.1,258.0 744.2,267.8 744.3,259.7 744.4,259.9 744.5,261.6 744.6,252.2 744.8,252.2 744.9,267.8 745.0,267.8 745.1,262.3 745.2,252.2 745.3,256.9 745.4,254.3 745.5,258.1 745.7,267.2 745.8,252.2 745.9,267.8 746.0,255.0 746.1,267.6 746.2,260.7 746.3,252.2 746.4,259.0 746.6,267.8 746.7,261.8 746.8,256.0 746.9,267.8 747.0,266.2 747.1,267.8 747.2,259.0 747.3,263.0 747.5,259.9 747.6,265.1 747.7,256.1 747.8,267.8 747.9,252.2 748.0,252.2 748.1,260.2 748.2,260.9 748.4,252.2 748.5,265.2 748.6,252.4 748.7,265.3 748.8,254.5 748.9,264.1 749.0,257.4 749.1,252.2 749.3,267.8 749.4,252.3 749.5,259.0 749.6,263.0 749.7,263.7 749.8,267.8 749.9,266.0 750.0,256.9 750.2,267.8 750.3,255.8 750.4,252.2 750.5,252.2 750.6,252.2 750.7,252.3 750.8,267.8 750.9,252.2 751.1,267.4 751.2,252.2 751.3,252.2 751.4,257.0 751.5,259.5 751.6,267.5 751.7,259.5 751.8,265.2 752.0,267.8 752.1,267.8 752.2,252.5 752.3,252.2 752.4,267.8 752.5,267.8 752.6,265.9 752.7,267.8 752.9,267.8 753.0,257.9 753.1,261.9 753.2,261.8 753.3,267.3 753.4,255.9 753.5,265.3 753.6,262.5 753.8,260.9 753.9,252.2 754.0,266.3 754.1,254.5 754.2,264.8 754.3,252.2 754.4,262.6 754.5,259.9 754.7,252.2 754.8,255.7 754.9,267.8 755.0,267.8 755.1,252.2 755.2,267.8 755.3,265.0 755.4,252.2 755.6,267.8 755.7,267.8 755.8,267.2 755.9,267.8 756.0,260.7 756.1,257.7 756.2,264.5 756.3,267.8 756.5,252.2 756.6,252.4 756.7,258.4 756.8,267.8 756.9,259.0 757.0,256.8 757.1,261.8 757.2,252.2 757.4,262.7 757.5,259.7 757.6,267.8 757.7,258.4 757.8,253.3 757.9,254.2 758.0,266.1 758.1,252.2 758.3,254.5 758.4,261.9 758.5,262.1 758.6,253.0 758.7,267.8 758.8,256.5 758.9,254.5 759.0,259.6 759.2,252.2 759.3,260.8 759.4,260.9 759.5,265.4 759.6,252.2 759.7,264.6 759.8,255.1 759.9,262.3 760.1,252.2 760.2,252.2 760.3,267.8 760.4,252.2 760.5,257.4 760.6,267.8 760.7,260.1 760.8,267.8 761.0,258.8 761.1,267.8 761.2,263.3 761.3,264.9 761.4,257.4 761.5,252.2 761.6,252.2 761.7,264.3 761.9,258.3 762.0,267.8 762.1,263.2 762.2,252.2 762.3,267.8 762.4,252.2 762.5,256.2 762.6,265.1 762.8,253.1 762.9,265.3 763.0,252.2 763.1,267.8 763.2,267.8 763.3,253.8 763.4,261.3 763.5,267.8 763.7,259.7 763.8,265.1 763.9,258.8 764.0,253.9 764.1,252.2 764.2,267.8 764.3,257.7 764.4,252.2 764.5,261.0 764.7,253.3 764.8,267.8 764.9,252.2 765.0,258.0 765.1,252.2 765.2,252.8 765.3,252.2 765.4,267.8 765.6,254.6 765.7,267.6 765.8,265.8 765.9,264.4 766.0,257.7 766.1,256.8 766.2,252.2 766.3,267.8 766.5,267.7 766.6,263.4 766.7,252.2 766.8,258.8 766.9,259.7 767.0,253.5 767.1,256.1 767.2,265.2 767.4,267.8 767.5,260.9 767.6,252.2 767.7,257.6 767.8,267.8 767.9,261.5 768.0,262.9 768.1,257.9 768.3,257.8 768.4,252.2 768.5,264.0 768.6,262.3 768.7,257.2 768.8,252.2 768.9,254.9 769.0,260.7 769.2,252.2 769.3,260.4 769.4,252.2 769.5,265.4 769.6,267.8 769.7,252.2 769.8,265.1 769.9,252.2 770.1,257.3 770.2,259.8 770.3,267.8 770.4,252.9 770.5,267.8 770.6,252.2 770.7,252.2 770.8,264.9 771.0,267.8 771.1,252.2 771.2,260.5 771.3,267.8 771.4,260.0 771.5,266.3 771.6,262.3 771.7,256.5 771.9,252.2 772.0,252.5 772.1,267.8 772.2,260.6 772.3,260.2 772.4,252.2 772.5,267.8 772.6,259.7 772.8,252.2 772.9,262.5 773.0,265.9 773.1,258.6 773.2,264.5 773.3,252.2 773.4,267.8 773.5,267.3 773.7,267.8 773.8,254.7 773.9,265.2 774.0,252.2 774.1,252.2 774.2,252.2 774.3,266.1 774.4,267.8 774.6,262.8 774.7,252.2 774.8,253.4 774.9,267.8 775.0,254.9 775.1,252.2 775.2,252.2 775.3,254.6 775.5,252.2 775.6,252.2 775.7,263.5 775.8,267.8 775.9,254.3 776.0,267.8 776.1,262.9 776.2,252.2 776.4,258.5 776.5,259.5 776.6,252.2 776.7,265.4 776.8,252.2 776.9,252.2 777.0,263.4 777.1,264.3 777.3,267.8 777.4,252.2 777.5,267.8 777.6,267.8 777.7,252.2 777.8,257.6 777.9,255.7 778.0,254.2 778.2,267.8 778.3,267.8 778.4,260.0 778.5,267.8 778.6,259.9 778.7,254.1 778.8,256.1 778.9,257.1 779.1,267.8 779.2,266.6 779.3,252.2 779.4,267.8 779.5,259.2 779.6,267.8 779.7,252.2 779.8,267.8 780.0,262.2 780.1,258.8 780.2,254.5 780.3,252.2 780.4,254.1 780.5,263.8 780.6,267.8 780.7,254.8 780.9,252.2 781.0,267.8 781.1,253.1 781.2,267.8 781.3,261.0 781.4,259.4 781.5,257.1 781.6,252.2 781.8,255.3 781.9,262.7 782.0,254.6 782.1,260.8 782.2,262.2 782.3,263.4 782.4,260.2 782.5,265.5 782.7,266.4 782.8,267.8 782.9,261.5 783.0,265.2 783.1,252.2 783.2,252.2 783.3,263.9 783.4,257.0 783.6,252.2 783.7,263.5 783.8,258.6 783.9,261.4 784.0,256.2 784.1,252.2 784.2,267.8 784.3,252.2 784.5,255.9 784.6,252.6 784.7,256.6 784.8,252.2 784.9,264.3 785.0,254.8 785.1,265.9 785.2,259.8 785.4,255.5 785.5,267.5 785.6,267.8 785.7,252.7 785.8,252.3 785.9,255.9 786.0,264.5 786.1,256.1 786.3,267.8 786.4,255.9 786.5,258.1 786.6,257.1 786.7,261.3 786.8,266.9 786.9,254.4 787.0,260.9 787.2,253.9 787.3,263.4 787.4,267.8 787.5,258.9 787.6,256.9 787.7,252.2 787.8,252.2 787.9,267.8 788.1,253.2 788.2,266.0 788.3,255.1 788.4,263.0 788.5,264.4 788.6,260.3 788.7,259.2 788.8,255.1 789.0,256.6 789.1,255.6 789.2,262.9 789.3,255.6 789.4,263.9 789.5,257.3 789.6,261.0 789.7,258.4 789.9,267.8 790.0,260.0 790.1,267.0 790.2,262.9 790.3,267.8 790.4,256.1 790.5,252.2 790.6,263.6 790.8,267.8 790.9,257.0 791.0,267.8 791.1,252.2 791.2,267.8 791.3,263.4 791.4,260.1 791.5,267.8 791.7,264.5 791.8,265.6 791.9,254.7 792.0,252.2 792.1,263.4 792.2,252.7 792.3,267.8 792.4,258.0 792.6,261.7 792.7,265.3 792.8,252.2 792.9,253.8 793.0,267.8 793.1,265.2 793.2,252.2 793.3,252.2 793.5,257.2 793.6,252.2 793.7,252.2 793.8,254.0 793.9,256.4 794.0,267.0 794.1,263.2 794.2,256.9 794.4,252.2 794.5,264.9 794.6,262.6 794.7,267.8 794.8,255.1 794.9,261.4 795.0,252.6 795.1,266.6 795.3,256.0 795.4,255.7 795.5,260.9 795.6,267.8 795.7,262.4 795.8,253.9 795.9,267.8 796.0,267.8 796.2,260.9 796.3,266.6 796.4,252.5 796.5,252.2 796.6,252.2 796.7,252.2 796.8,256.3 796.9,267.8 797.1,252.2 797.2,254.3 797.3,253.8 797.4,255.1 797.5,252.2 797.6,265.0 797.7,255.7 797.8,259.6 798.0,264.0 798.1,264.3 798.2,267.8 798.3,260.2 798.4,263.3 798.5,262.0 798.6,252.2 798.7,255.5 798.9,255.5 799.0,252.2 799.1,267.0 799.2,259.8 799.3,267.8 799.4,262.7 799.5,252.2 799.6,267.8 799.8,253.6 799.9,252.2 800.0,259.8 800.1,252.6 800.2,261.5 800.3,263.7 800.4,259.9 800.5,267.6 800.7,264.8 800.8,264.9 800.9,252.2 801.0,264.1 801.1,266.8 801.2,252.2 801.3,267.8 801.4,252.2 801.6,252.2 801.7,256.3 801.8,261.8 801.9,267.6 802.0,267.8 802.1,267.8 802.2,263.8 802.3,262.3 802.5,252.2 802.6,259.1 802.7,252.2 802.8,254.5 802.9,267.8 803.0,258.7 803.1,267.8 803.2,267.8 803.4,252.2 803.5,264.0 803.6,267.7 803.7,267.8 803.8,256.2 803.9,261.0 804.0,267.8 804.1,254.6 804.3,266.1 804.4,253.0 804.5,260.3 804.6,259.1 804.7,261.1 804.8,255.6 804.9,252.2 805.0,252.6 805.2,267.8 805.3,260.1 805.4,266.6 805.5,267.8 805.6,267.6 805.7,266.3 805.8,252.2 805.9,253.9 806.0,252.2 806.2,255.0 806.3,264.6 806.4,262.7 806.5,261.5 806.6,265.2 806.7,262.0 806.8,253.2 806.9,267.8 807.1,265.6 807.2,260.5 807.3,255.6 807.4,256.4 807.5,254.4 807.6,267.8 807.7,267.8 807.8,264.8 808.0,265.4 808.1,253.6 808.2,252.2 808.3,255.4 808.4,267.8 808.5,265.1 808.6,252.4 808.7,252.2 808.9,257.6 809.0,263.8 809.1,263.6 809.2,256.7 809.3,252.2 809.4,264.0 809.5,267.7 809.6,267.8 809.8,267.8 809.9,252.2 810.0,256.9 810.1,252.2 810.2,267.8 810.3,263.3 810.4,252.6 810.5,256.0 810.7,267.8 810.8,262.5 810.9,256.6 811.0,255.3 811.1,261.2 811.2,267.8 811.3,252.2 811.4,260.8 811.6,254.6 811.7,259.1 811.8,267.8 811.9,266.6 812.0,267.8 812.1,267.7 812.2,267.5 812.3,262.1 812.5,264.5 812.6,263.4 812.7,252.2 812.8,267.8 812.9,267.8 813.0,252.3 813.1,259.2 813.2,261.5 813.4,265.8 813.5,258.9 813.6,266.9 813.7,252.2 813.8,252.2 813.9,264.4 814.0,267.8 814.1,252.2 814.3,265.0 814.4,256.1 814.5,252.2 814.6,252.6 814.7,252.2 814.8,260.3 814.9,252.2 815.0,261.0 815.2,265.9 815.3,260.5 815.4,264.1 815.5,253.3 815.6,252.2 815.7,267.8 815.8,267.8 815.9,262.9 816.1,260.9 816.2,252.2 816.3,252.2 816.4,252.2 816.5,254.3 816.6,255.6 816.7,265.7 816.8,263.2 817.0,267.8 817.1,252.2 817.2,265.6 817.3,267.8 817.4,264.6 817.5,264.4 817.6,254.4 817.7,267.8 817.9,266.7 818.0,252.2 818.1,252.2 818.2,256.8 818.3,258.5 818.4,266.9 818.5,252.2 818.6,253.5 818.8,259.7 818.9,267.8 819.0,267.1 819.1,263.0 819.2,264.2 819.3,267.8 819.4,262.3 819.5,261.3 819.7,265.3 819.8,262.9 819.9,264.2 820.0,263.1 820.1,257.0 820.2,260.1 820.3,267.5 820.4,252.6 820.6,259.7 820.7,261.0 820.8,254.7 820.9,253.7 821.0,252.2 821.1,252.2 821.2,255.8 821.3,254.5 821.5,267.8 821.6,255.0 821.7,266.1 821.8,266.0 821.9,267.8 822.0,262.6 822.1,267.8 822.2,256.1 822.4,253.8 822.5,253.1 822.6,267.8 822.7,256.5 822.8,252.2 822.9,267.8 823.0,267.7 823.1,265.8 823.3,260.9 823.4,267.8 823.5,259.0 823.6,263.9 823.7,256.1 823.8,259.2 823.9,255.4 824.0,266.3 824.2,254.8 824.3,254.1 824.4,254.5 824.5,267.8 824.6,252.2 824.7,258.1 824.8,265.7 824.9,261.6 825.1,259.6 825.2,259.6 825.3,266.3 825.4,265.9 825.5,263.4 825.6,253.0 825.7,261.6 825.8,267.8 826.0,261.2 826.1,267.5 826.2,267.8 826.3,252.2 826.4,265.1 826.5,259.1 826.6,263.5 826.7,267.8 826.9,252.2 827.0,252.2 827.1,267.8 827.2,262.0 827.3,263.2 827.4,267.8 827.5,256.0 827.6,253.0 827.8,253.5 827.9,255.6 828.0,267.8 828.1,266.7 828.2,259.6 828.3,254.9 828.4,262.8 828.5,261.3 828.7,252.2 828.8,267.8 828.9,265.8 829.0,265.2 829.1,252.2 829.2,266.8 829.3,267.8 829.4,262.1 829.6,256.3 829.7,267.8 829.8,252.2 829.9,267.6 830.0,254.9 830.1,267.8 830.2,252.2 830.3,267.5 830.5,254.2 830.6,252.2 830.7,266.1 830.8,267.8 830.9,257.8 831.0,260.0 831.1,260.5 831.2,253.0 831.4,260.9 831.5,260.1 831.6,260.3 831.7,261.1 831.8,262.4 831.9,267.8 832.0,265.1 832.1,265.9 832.3,266.3 832.4,252.9 832.5,267.8 832.6,267.4 832.7,259.3 832.8,264.7 832.9,266.5 833.0,263.2 833.2,259.9 833.3,255.6 833.4,252.2 833.5,252.2 833.6,261.7 833.7,261.2 833.8,262.1 833.9,266.5 834.1,252.2 834.2,267.8 834.3,267.4 834.4,256.0 834.5,257.8 834.6,265.5 834.7,252.2 834.8,262.3 835.0,257.6 835.1,267.8 835.2,252.2 835.3,267.8 835.4,262.6 835.5,252.2 835.6,252.2 835.7,252.2 835.9,252.2 836.0,266.7 836.1,267.8 836.2,261.2 836.3,267.8 836.4,252.2 836.5,267.8 836.6,264.4 836.8,267.4 836.9,267.8 837.0,260.0 837.1,267.8 837.2,252.2 837.3,255.3 837.4,263.2 837.5,252.2 837.7,252.6 837.8,264.3 837.9,252.2 838.0,252.2 838.1,257.0 838.2,263.7 838.3,252.2 838.4,252.2 838.6,263.8 838.7,267.8 838.8,252.2 838.9,255.9 839.0,266.7 839.1,258.3 839.2,264.8 839.3,252.2 839.5,263.9 839.6,267.6 839.7,267.8 839.8,263.9 839.9,252.2 840.0,267.0 840.1,261.0 840.2,252.2 840.4,267.8 840.5,265.1 840.6,252.2 840.7,267.8 840.8,252.2 840.9,252.2 841.0,267.8 841.1,257.7 841.3,258.6 841.4,255.2 841.5,264.8 841.6,262.9 841.7,266.5 841.8,265.2 841.9,267.8 842.0,252.2 842.2,252.2 842.3,263.5 842.4,255.2 842.5,260.2 842.6,265.5 842.7,263.8 842.8,252.2 842.9,264.0 843.1,258.0 843.2,252.2 843.3,265.1 843.4,252.3 843.5,267.8 843.6,254.2 843.7,252.3 843.8,252.2 844.0,252.2 844.1,254.7 844.2,252.2 844.3,265.5 844.4,259.5 844.5,267.1 844.6,267.8 844.7,261.5 844.9,254.5 845.0,253.0 845.1,267.8 845.2,252.2 845.3,266.3 845.4,265.2 845.5,252.2 845.6,252.2 845.8,254.1 845.9,264.2 846.0,260.9 846.1,252.2 846.2,263.6 846.3,252.4 846.4,253.0 846.5,260.8 846.7,252.2 846.8,262.9 846.9,253.8 847.0,256.5 847.1,264.2 847.2,259.2 847.3,257.4 847.4,259.1 847.5,267.8 847.7,252.2 847.8,252.2 847.9,267.8 848.0,252.2 848.1,259.2 848.2,267.8 848.3,252.2 848.4,261.7 848.6,254.7 848.7,252.2 848.8,259.1 848.9,267.8 849.0,252.2 849.1,255.2 849.2,252.2 849.3,265.7 849.5,252.9 849.6,252.2 849.7,263.6 849.8,262.2 849.9,264.1 850.0,267.8 850.1,266.7 850.2,264.2 850.4,267.8 850.5,253.4 850.6,261.8 850.7,258.3 850.8,265.4 850.9,263.5 851.0,253.7 851.1,260.8 851.3,257.6 851.4,261.9 851.5,258.6 851.6,252.2 851.7,265.8 851.8,259.5 851.9,255.3 852.0,267.8 852.2,252.2 852.3,260.0 852.4,266.4 852.5,253.5 852.6,252.2 852.7,256.7 852.8,252.2 852.9,267.8 853.1,259.3 853.2,253.9 853.3,252.2 853.4,256.5 853.5,257.4 853.6,262.8 853.7,258.2 853.8,258.6 854.0,252.2 854.1,252.2 854.2,254.1 854.3,252.2 854.4,267.8 854.5,253.3 854.6,260.9 854.7,253.7 854.9,265.1 855.0,260.8 855.1,252.2 855.2,267.8 855.3,265.2 855.4,260.3 855.5,252.2 855.6,265.7 855.8,252.2 855.9,266.4 856.0,264.9 856.1,258.7 856.2,256.2 856.3,252.2 856.4,252.2 856.5,266.2 856.7,253.9 856.8,256.6 856.9,262.8 857.0,253.1 857.1,252.2 857.2,260.5 857.3,252.2 857.4,267.8 857.6,267.8 857.7,253.4 857.8,264.9 857.9,257.9 858.0,260.1 858.1,267.8 858.2,253.7 858.3,254.0 858.5,267.8 858.6,266.0 858.7,252.5 858.8,252.2 858.9,252.2 859.0,260.0 859.1,263.3 859.2,261.4 859.4,267.8 859.5,260.1 859.6,266.7 859.7,267.8 859.8,263.0 859.9,267.8 860.0,260.7 860.1,255.1 860.3,256.2 860.4,252.2 860.5,252.2 860.6,256.7 860.7,252.2 860.8,261.4 860.9,252.5 861.0,265.4 861.2,259.3 861.3,252.2 861.4,257.5 861.5,259.8 861.6,252.8 861.7,264.7 861.8,252.2 861.9,267.8 862.1,266.5 862.2,267.8 862.3,266.1 862.4,252.2 862.5,267.8 862.6,265.0 862.7,258.1 862.8,254.9 863.0,253.2 863.1,262.9 863.2,267.0 863.3,252.2 863.4,267.8 863.5,267.8 863.6,266.7 863.7,260.2 863.9,252.2 864.0,254.3 864.1,258.4 864.2,259.5 864.3,255.2 864.4,256.8 864.5,264.1 864.6,267.8 864.8,267.5 864.9,252.9 865.0,256.6 865.1,252.6 865.2,267.8 865.3,252.2 865.4,262.9 865.5,252.2 865.7,257.6 865.8,258.8 865.9,252.2 866.0,256.9 866.1,255.6 866.2,267.8 866.3,257.4 866.4,263.6 866.6,267.8 866.7,267.8 866.8,260.5 866.9,265.9 867.0,253.4 867.1,267.8 867.2,267.8 867.3,252.2 867.5,264.7 867.6,259.8 867.7,267.2 867.8,267.3 867.9,262.4 868.0,252.8 868.1,267.8 868.2,252.2 868.4,252.2 868.5,258.5 868.6,263.5 868.7,266.6 868.8,267.8 868.9,264.4 869.0,252.2 869.1,267.8 869.3,252.9 869.4,255.8 869.5,267.8 869.6,267.8 869.7,254.1 869.8,255.7 869.9,264.7 870.0,252.2 870.2,267.2 870.3,261.8 870.4,267.8 870.5,256.4 870.6,267.8 870.7,267.8 870.8,253.4 870.9,260.0 871.1,256.0 871.2,254.2 871.3,257.3 871.4,267.5 871.5,255.0 871.6,267.8 871.7,265.7 871.8,261.3 872.0,267.8 872.1,267.8 872.2,256.2 872.3,254.0 872.4,263.2 872.5,262.7 872.6,267.3 872.7,259.5 872.9,258.0 873.0,252.2 873.1,267.8 873.2,252.2 873.3,252.2 873.4,263.8 873.5,254.4 873.6,252.2 873.8,256.2 873.9,265.3 874.0,256.9 874.1,252.2 874.2,267.8 874.3,260.5 874.4,267.8 874.5,252.2 874.7,253.0 874.8,267.8 874.9,253.9 875.0,255.2 875.1,267.8 875.2,259.4 875.3,255.3 875.4,264.1 875.6,259.9 875.7,252.2 875.8,256.6 875.9,260.0 876.0,267.8 876.1,267.8 876.2,252.2 876.3,253.9 876.5,252.2 876.6,258.1 876.7,258.1 876.8,259.2 876.9,254.1 877.0,264.2 877.1,260.1 877.2,260.8 877.4,256.0 877.5,267.1 877.6,267.8 877.7,267.8 877.8,267.8 877.9,252.2 878.0,254.6 878.1,253.8 878.3,261.4 878.4,267.8 878.5,260.9 878.6,252.2 878.7,259.8 878.8,256.7 878.9,263.1 879.0,267.8 879.2,256.8 879.3,260.4 879.4,263.9 879.5,266.0 879.6,255.1 879.7,264.5 879.8,258.1 879.9,266.0 880.1,253.7 880.2,263.1 880.3,260.5 880.4,252.2 880.5,254.5 880.6,254.1 880.7,264.0 880.8,252.2 881.0,262.9 881.1,252.2 881.2,252.2 881.3,256.0 881.4,252.2 881.5,258.9 881.6,254.2 881.7,267.8 881.9,252.2 882.0,252.5 882.1,267.8 882.2,266.4 882.3,258.1 882.4,253.4 882.5,267.8 882.6,252.2 882.8,263.8 882.9,252.2 883.0,253.7 883.1,260.4 883.2,263.4 883.3,267.8 883.4,267.8 883.5,256.8 883.7,253.2 883.8,252.2 883.9,263.4 884.0,252.2 884.1,265.1 884.2,252.2 884.3,252.2 884.4,267.8 884.6,252.2 884.7,254.9 884.8,254.9 884.9,252.2 885.0,259.1 885.1,259.8 885.2,263.3 885.3,252.2 885.5,252.2 885.6,267.8 885.7,253.2 885.8,265.6 885.9,267.8 886.0,267.6 886.1,258.2 886.2,265.5 886.4,266.4 886.5,267.8 886.6,264.4 886.7,253.2 886.8,267.8 886.9,260.4 887.0,257.4 887.1,267.8 887.3,265.1 887.4,252.2 887.5,252.2 887.6,252.2 887.7,267.8 887.8,253.4 887.9,261.2 888.0,267.8 888.2,260.5 888.3,252.2 888.4,252.2 888.5,262.7 888.6,267.8 888.7,252.2 888.8,252.2 888.9,259.7 889.1,266.9 889.2,258.9 889.3,255.1 889.4,260.4 889.5,263.7 889.6,266.3 889.7,265.1 889.8,267.8 889.9,266.1 890.1,252.2 890.2,267.8 890.3,254.3 890.4,252.8 890.5,262.4 890.6,257.6 890.7,267.0 890.8,255.8 891.0,254.8 891.1,254.1 891.2,260.2 891.3,252.2 891.4,252.2 891.5,258.2 891.6,255.4 891.7,265.6 891.9,252.2 892.0,256.4 892.1,252.2 892.2,265.3 892.3,252.2 892.4,267.8 892.5,259.2 892.6,267.8 892.8,267.7 892.9,253.4 893.0,267.8 893.1,262.9 893.2,267.7 893.3,252.2 893.4,267.8 893.5,264.1 893.7,252.2 893.8,255.3 893.9,254.9 894.0,252.2 894.1,267.8 894.2,255.9 894.3,253.9 894.4,253.8 894.6,254.7 894.7,267.8 894.8,267.8 894.9,253.2 895.0,257.2 895.1,265.9 895.2,267.8 895.3,259.2 895.5,267.8 895.6,253.8 895.7,264.0 895.8,252.3 895.9,267.8 896.0,260.2 896.1,267.8 896.2,253.0 896.4,258.5 896.5,266.6 896.6,252.2 896.7,255.5 896.8,264.1 896.9,252.2 897.0,263.0 897.1,252.2 897.3,265.1 897.4,252.2 897.5,267.8 897.6,254.1 897.7,265.2 897.8,261.9 897.9,256.6 898.0,267.8 898.2,266.9 898.3,267.8 898.4,254.0 898.5,267.0 898.6,260.0 898.7,264.3 898.8,266.6 898.9,252.2 899.1,259.8 899.2,256.2 899.3,254.9 899.4,252.2 899.5,265.9 899.6,267.8 899.7,260.8 899.8,267.8 900.0,267.8 900.1,252.2 900.2,256.8 900.3,262.1 900.4,267.8 900.5,253.5 900.6,259.2 900.7,267.8 900.9,252.2 901.0,252.2 901.1,252.2 901.2,252.2 901.3,259.2 901.4,265.0 901.5,256.2 901.6,267.8 901.8,257.1 901.9,267.8 902.0,267.8 902.1,254.6 902.2,263.9 902.3,255.1 902.4,253.0 902.5,252.2 902.7,257.1 902.8,252.2 902.9,256.0 903.0,252.2 903.1,252.2 903.2,267.8 903.3,265.8 903.4,262.8 903.6,266.2 903.7,267.8 903.8,252.2 903.9,267.8 904.0,267.8 904.1,253.5 904.2,266.9 904.3,266.0 904.5,252.2 904.6,253.4 904.7,261.3 904.8,267.8 904.9,265.8 905.0,252.2 905.1,252.7 905.2,267.8 905.4,254.8 905.5,263.1 905.6,254.5 905.7,265.1 905.8,267.8 905.9,267.8 906.0,265.1 906.1,252.2 906.3,252.2 906.4,255.4 906.5,253.8 906.6,267.6 906.7,263.6 906.8,252.2 906.9,252.2 907.0,261.4 907.2,253.1 907.3,252.2 907.4,252.2 907.5,265.1 907.6,256.2 907.7,262.7 907.8,260.9 907.9,261.0 908.1,265.5 908.2,267.8 908.3,253.3 908.4,255.1 908.5,252.2 908.6,267.8 908.7,266.6 908.8,257.6 909.0,252.2 909.1,260.7 909.2,267.5 909.3,257.6 909.4,252.2 909.5,252.2 909.6,252.2 909.7,262.2 909.9,265.9 910.0,252.2 910.1,252.8 910.2,252.2 910.3,262.7 910.4,265.3 910.5,266.5 910.6,252.2 910.8,252.2 910.9,263.3 911.0,252.2 911.1,263.0 911.2,261.3 911.3,258.3 911.4,267.0 911.5,265.8 911.7,265.8 911.8,266.0 911.9,259.6 912.0,267.8 912.1,253.0 912.2,267.8 912.3,261.4 912.4,256.5 912.6,267.8 912.7,262.3 912.8,258.4 912.9,258.7 913.0,252.2 913.1,252.9 913.2,267.8 913.3,252.2 913.5,258.8 913.6,255.6 913.7,267.8 913.8,260.7 913.9,255.0 914.0,252.6 914.1,252.4 914.2,267.1 914.4,252.2 914.5,258.3 914.6,255.8 914.7,252.2 914.8,262.4 914.9,252.2 915.0,252.2 915.1,252.3 915.3,263.0 915.4,259.3 915.5,267.8 915.6,253.5 915.7,252.2 915.8,267.8 915.9,253.9 916.0,255.2 916.2,267.8 916.3,252.2 916.4,260.5 916.5,265.8 916.6,267.8 916.7,253.0 916.8,264.0 916.9,259.7 917.1,267.6 917.2,257.3 917.3,262.6 917.4,252.3 917.5,255.8 917.6,254.5 917.7,266.2 917.8,267.8 918.0,252.2 918.1,252.2 918.2,256.4 918.3,252.2 918.4,254.9 918.5,257.4 918.6,262.0 918.7,263.6 918.9,260.3 919.0,266.9 919.1,261.8 919.2,259.8 919.3,267.8 919.4,262.7 919.5,265.4 919.6,256.7 919.8,252.2 919.9,257.1 920.0,255.9 920.1,257.2 920.2,266.1 920.3,263.1 920.4,252.2 920.5,252.2 920.7,267.8 920.8,267.8 920.9,252.2 921.0,252.2 921.1,257.3 921.2,252.2 921.3,257.6 921.4,252.2 921.6,266.4 921.7,261.4 921.8,255.7 921.9,267.1 922.0,254.6 922.1,265.9 922.2,254.8 922.3,252.4 922.5,261.9 922.6,252.2 922.7,256.7 922.8,253.6 922.9,267.8 923.0,267.8 923.1,254.7 923.2,252.2 923.4,256.8 923.5,252.2 923.6,267.8 923.7,252.2 923.8,252.2 923.9,256.8 924.0,261.8 924.1,254.9 924.3,266.4 924.4,255.8 924.5,255.2 924.6,259.0 924.7,266.0 924.8,267.8 924.9,267.6 925.0,252.2 925.2,267.2 925.3,267.8 925.4,266.3 925.5,259.5 925.6,257.8 925.7,252.2 925.8,252.2 925.9,252.2 926.1,252.2 926.2,261.2 926.3,267.8 926.4,252.2 926.5,266.8 926.6,257.0 926.7,265.9 926.8,252.2 927.0,267.5 927.1,262.0 927.2,267.0 927.3,252.2 927.4,257.0 927.5,256.7 927.6,264.6 927.7,267.8 927.9,252.2 928.0,253.4 928.1,254.1 928.2,252.2 928.3,258.5 928.4,267.8 928.5,257.3 928.6,265.3 928.8,259.7 928.9,261.0 929.0,258.4 929.1,252.2 929.2,252.3 929.3,262.1 929.4,252.2 929.5,252.2 929.7,253.2 929.8,258.7 929.9,252.2 930.0,260.2 930.1,267.8 930.2,265.7 930.3,256.1 930.4,263.0 930.6,261.9 930.7,262.4 930.8,267.7 930.9,267.8 931.0,267.8" fill="none" stroke="#000" stroke-width="0.45"/>
<rect x="624.0" y="280.3" width="322.0" height="20.2" fill="none" stroke="#444" stroke-width="0.5"/>
<line x1="639.0" y1="280.3" x2="639.0" y2="300.5" stroke="#e2e2e2" stroke-width="0.4"/>
<text x="639.0" y="305.1" font-size="3.3" fill="#444" text-anchor="middle" font-family="Liberation Sans">0</text>
<line x1="705.8" y1="280.3" x2="705.8" y2="300.5" stroke="#e2e2e2" stroke-width="0.4"/>
<text x="705.8" y="305.1" font-size="3.3" fill="#444" text-anchor="middle" font-family="Liberation Sans">10000</text>
<line x1="772.9" y1="280.3" x2="772.9" y2="300.5" stroke="#e2e2e2" stroke-width="0.4"/>
<text x="772.9" y="305.1" font-size="3.3" fill="#444" text-anchor="middle" font-family="Liberation Sans">20000</text>
<line x1="839.5" y1="280.3" x2="839.5" y2="300.5" stroke="#e2e2e2" stroke-width="0.4"/>
<text x="839.5" y="305.1" font-size="3.3" fill="#444" text-anchor="middle" font-family="Liberation Sans">30000</text>
<line x1="906.1" y1="280.3" x2="906.1" y2="300.5" stroke="#e2e2e2" stroke-width="0.4"/>
<text x="906.1" y="305.1" font-size="3.3" fill="#444" text-anchor="middle" font-family="Liberation Sans">40000</text>
<line x1="624.0" y1="282.8" x2="946.0" y2="282.8" stroke="#e2e2e2" stroke-width="0.4"/>
<text x="622.0" y="283.9" font-size="3.3" fill="#444" text-anchor="end" font-family="Liberation Sans">0.5</text>
<line x1="624.0" y1="290.4" x2="946.0" y2="290.4" stroke="#e2e2e2" stroke-width="0.4"/>
<text x="622.0" y="291.5" font-size="3.3" fill="#444" text-anchor="end" font-family="Liberation Sans">0.0</text>
<line x1="624.0" y1="298.0" x2="946.0" y2="298.0" stroke="#e2e2e2" stroke-width="0.4"/>
<text x="622.0" y="299.1" font-size="3.3" fill="#444" text-anchor="end" font-family="Liberation Sans"></text>
<text transform="translate(613.0,290.4) rotate(-90)" font-size="3.3" fill="#444" text-anchor="middle" font-family="Liberation Sans">IMF</text>
<text x="787.0" y="278.7" font-size="3.5" fill="#444" text-anchor="middle" font-family="Liberation Sans">Power - IMF1</text>
<polyline points="638.7,292.1 639.0,290.5 639.4,290.8 639.7,290.9 640.0,293.0 640.3,293.3 640.7,293.8 641.0,291.9 641.3,291.8 641.6,292.6 642.0,293.1 642.3,291.5 642.6,291.1 642.9,292.0 643.3,291.7 643.6,290.5 643.9,291.4 644.2,291.4 644.6,291.0 644.9,290.9 645.2,288.5 645.5,286.0 645.9,285.6 646.2,285.3 646.5,286.4 646.8,285.3 647.2,286.5 647.5,286.4 647.8,285.6 648.1,287.3 648.5,288.5 648.8,289.6 649.1,290.3 649.4,290.8 649.8,294.3 650.1,293.0 650.4,291.7 650.7,288.6 651.1,289.4 651.4,289.3 651.7,290.3 652.0,289.8 652.4,292.6 652.7,293.2 653.0,293.6 653.3,291.8 653.7,293.5 654.0,294.3 654.3,294.9 654.6,295.3 655.0,294.7 655.3,294.5 655.6,294.1 655.9,294.8 656.3,291.9 656.6,292.4 656.9,291.3 657.2,291.7 657.6,289.9 657.9,291.0 658.2,292.6 658.5,292.4 658.9,290.5 659.2,291.8 659.5,292.5 659.8,291.6 660.2,290.8 660.5,289.5 660.8,291.6 661.1,293.0 661.5,293.6 661.8,292.7 662.1,291.9 662.4,291.6 662.8,291.9 663.1,290.9 663.4,291.5 663.7,291.6 664.1,290.7 664.4,290.6 664.7,290.8 665.0,290.1 665.4,289.0 665.7,288.0 666.0,288.9 666.3,291.7 666.7,292.6 667.0,293.1 667.3,290.6 667.6,287.9 668.0,288.7 668.3,289.6 668.6,290.4 668.9,292.1 669.3,293.1 669.6,290.3 669.9,289.3 670.2,286.8 670.6,290.5 670.9,289.3 671.2,290.1 671.5,289.3 671.9,291.6 672.2,293.4 672.5,293.3 672.8,290.3 673.2,288.7 673.5,290.9 673.8,292.5 674.1,292.8 674.5,290.8 674.8,290.7 675.1,290.2 675.4,290.7 675.8,290.2 676.1,288.6 676.4,289.0 676.7,291.1 677.1,292.1 677.4,291.1 677.7,289.4 678.0,290.4 678.4,290.9 678.7,288.4 679.0,287.9 679.3,291.2 679.7,291.1 680.0,293.1 680.3,292.2 680.6,291.6 681.0,290.4 681.3,289.3 681.6,287.8 681.9,287.3 682.3,287.8 682.6,292.9 682.9,294.2 683.2,295.1 683.6,295.1 683.9,295.9 684.2,295.8 684.5,295.0 684.9,294.5 685.2,294.6 685.5,295.4 685.8,293.9 686.2,291.6 686.5,288.4 686.8,287.4 687.1,289.0 687.5,288.7 687.8,290.3 688.1,287.3 688.4,288.0 688.8,287.7 689.1,291.4 689.4,291.8 689.7,293.0 690.1,294.8 690.4,294.9 690.7,293.2 691.0,292.5 691.4,293.1 691.7,293.8 692.0,293.1 692.3,295.3 692.7,294.5 693.0,295.3 693.3,295.3 693.6,293.6 694.0,293.9 694.3,292.3 694.6,294.7 694.9,293.7 695.3,296.2 695.6,296.4 695.9,296.7 696.2,293.9 696.6,292.7 696.9,290.1 697.2,292.6 697.6,290.4 697.9,290.9 698.2,289.7 698.5,290.6 698.9,289.8 699.2,290.5 699.5,289.3 699.8,291.6 700.2,294.1 700.5,295.0 700.8,293.7 701.1,292.7 701.5,291.5 701.8,292.1 702.1,289.7 702.4,288.6 702.8,287.6 703.1,288.4 703.4,287.9 703.7,288.4 704.1,290.4 704.4,292.5 704.7,294.4 705.0,294.0 705.4,292.6 705.7,291.0 706.0,290.9 706.3,291.9 706.7,291.6 707.0,292.4 707.3,293.4 707.6,294.0 708.0,294.4 708.3,292.1 708.6,289.9 708.9,290.7 709.3,291.1 709.6,292.0 709.9,289.9 710.2,289.4 710.6,290.7 710.9,290.2 711.2,291.9 711.5,291.5 711.9,288.7 712.2,288.2 712.5,287.7 712.8,287.6 713.2,287.0 713.5,288.9 713.8,289.1 714.1,291.4 714.5,290.1 714.8,292.0 715.1,290.8 715.4,291.2 715.8,291.7 716.1,291.5 716.4,293.1 716.7,293.6 717.1,294.9 717.4,292.2 717.7,289.5 718.0,290.7 718.4,290.4 718.7,290.3 719.0,288.6 719.3,290.4 719.7,291.3 720.0,294.1 720.3,293.3 720.6,293.2 721.0,292.1 721.3,292.1 721.6,291.9 721.9,292.3 722.3,290.8 722.6,289.9 722.9,291.6 723.2,291.5 723.6,290.7 723.9,290.0 724.2,291.1 724.5,292.4 724.9,289.5 725.2,289.0 725.5,291.5 725.8,292.6 726.2,293.1 726.5,291.0 726.8,289.3 727.1,289.2 727.5,289.8 727.8,291.7 728.1,291.3 728.4,291.2 728.8,291.5 729.1,289.5 729.4,288.5 729.7,290.1 730.1,293.0 730.4,295.1 730.7,296.2 731.0,295.2 731.4,295.2 731.7,291.8 732.0,292.0 732.3,292.5 732.7,294.5 733.0,294.2 733.3,294.9 733.6,293.4 734.0,291.6 734.3,292.4 734.6,290.8 734.9,292.3 735.3,290.7 735.6,294.2 735.9,295.3 736.2,293.5 736.6,291.6 736.9,291.1 737.2,290.2 737.5,292.2 737.9,292.4 738.2,292.7 738.5,292.0 738.8,292.0 739.2,293.4 739.5,293.3 739.8,294.4 740.1,294.2 740.5,292.9 740.8,291.7 741.1,291.6 741.4,290.0 741.8,290.1 742.1,290.0 742.4,290.0 742.7,290.4 743.1,291.1 743.4,291.5 743.7,293.1 744.0,290.9 744.4,292.0 744.7,288.8 745.0,290.8 745.3,290.6 745.7,292.7 746.0,291.5 746.3,290.1 746.6,288.2 747.0,288.6 747.3,287.9 747.6,291.0 747.9,290.1 748.3,291.1 748.6,291.0 748.9,293.1 749.2,293.1 749.6,291.9 749.9,292.4 750.2,292.1 750.5,293.5 750.9,292.9 751.2,294.6 751.5,294.1 751.8,293.3 752.2,293.9 752.5,294.2 752.8,295.0 753.1,293.6 753.5,290.6 753.8,291.6 754.1,289.5 754.4,291.6 754.8,288.1 755.1,289.7 755.4,290.8 755.8,292.8 756.1,291.5 756.4,293.0 756.7,293.0 757.1,293.1 757.4,293.2 757.7,294.5 758.0,294.1 758.4,292.7 758.7,292.7 759.0,293.9 759.3,293.8 759.7,294.5 760.0,295.9 760.3,296.2 760.6,295.5 761.0,296.5 761.3,294.8 761.6,295.4 761.9,294.3 762.3,295.9 762.6,294.6 762.9,295.1 763.2,295.8 763.6,297.9 763.9,295.7 764.2,293.8 764.5,290.0 764.9,288.9 765.2,289.7 765.5,292.7 765.8,293.4 766.2,292.2 766.5,289.8 766.8,288.9 767.1,289.0 767.5,290.9 767.8,291.9 768.1,290.5 768.4,290.4 768.8,290.7 769.1,290.3 769.4,289.8 769.7,292.2 770.1,294.9 770.4,295.9 770.7,297.6 771.0,296.2 771.4,297.3 771.7,295.4 772.0,293.9 772.3,292.6 772.7,294.0 773.0,293.5 773.3,294.1 773.6,291.6 774.0,290.4 774.3,288.6 774.6,286.5 774.9,286.6 775.3,285.9 775.6,287.8 775.9,288.4 776.2,288.2 776.6,286.6 776.9,287.5 777.2,286.5 777.5,287.2 777.9,285.4 778.2,284.8 778.5,285.8 778.8,287.9 779.2,286.2 779.5,285.2 779.8,286.1 780.1,287.4 780.5,287.6 780.8,287.9 781.1,290.0 781.4,291.4 781.8,289.9 782.1,288.0 782.4,286.9 782.7,285.8 783.1,286.8 783.4,287.3 783.7,288.1 784.0,289.8 784.4,289.5 784.7,289.6 785.0,289.1 785.3,289.8 785.7,290.6 786.0,290.7 786.3,287.4 786.6,287.7 787.0,288.2 787.3,291.2 787.6,289.5 787.9,287.8 788.3,289.2 788.6,289.6 788.9,290.6 789.2,289.9 789.6,291.5 789.9,289.8 790.2,290.3 790.5,289.5 790.9,289.9 791.2,289.7 791.5,290.6 791.8,289.0 792.2,292.1 792.5,293.3 792.8,294.4 793.1,293.0 793.5,290.6 793.8,292.1 794.1,291.1 794.4,291.0 794.8,289.2 795.1,289.6 795.4,288.6 795.7,287.6 796.1,285.5 796.4,287.6 796.7,290.5 797.0,288.8 797.4,290.7 797.7,291.0 798.0,293.3 798.3,290.7 798.7,291.5 799.0,291.2 799.3,289.9 799.6,290.4 800.0,290.8 800.3,290.9 800.6,290.2 800.9,290.2 801.3,290.3 801.6,288.8 801.9,288.5 802.2,289.1 802.6,288.0 802.9,288.6 803.2,287.0 803.5,287.8 803.9,287.0 804.2,288.4 804.5,288.5 804.8,287.1 805.2,286.3 805.5,289.0 805.8,289.4 806.1,290.2 806.5,289.8 806.8,291.2 807.1,290.7 807.4,289.6 807.8,286.3 808.1,286.4 808.4,286.3 808.7,287.3 809.1,286.2 809.4,285.0 809.7,285.2 810.0,286.7 810.4,286.5 810.7,285.7 811.0,284.5 811.3,285.6 811.7,287.3 812.0,287.2 812.3,285.8 812.6,287.3 813.0,289.2 813.3,287.6 813.6,286.7 813.9,285.5 814.3,285.2 814.6,283.8 814.9,286.1 815.3,283.8 815.6,284.6 815.9,284.0 816.2,285.8 816.6,288.3 816.9,288.2 817.2,289.3 817.5,284.3 817.9,285.8 818.2,285.1 818.5,286.5 818.8,284.2 819.2,288.6 819.5,287.7 819.8,289.2 820.1,287.9 820.5,288.0 820.8,289.9 821.1,289.1 821.4,288.4 821.8,287.1 822.1,286.8 822.4,287.4 822.7,288.4 823.1,290.9 823.4,293.9 823.7,292.8 824.0,290.7 824.4,290.1 824.7,290.7 825.0,292.2 825.3,293.4 825.7,294.0 826.0,294.8 826.3,292.7 826.6,291.7 827.0,290.3 827.3,293.5 827.6,293.5 827.9,292.9 828.3,292.1 828.6,292.7 828.9,291.3 829.2,291.2 829.6,291.8 829.9,291.1 830.2,290.7 830.5,287.8 830.9,290.2 831.2,290.3 831.5,292.0 831.8,292.5 832.2,292.6 832.5,293.9 832.8,294.2 833.1,292.8 833.5,290.5 833.8,289.9 834.1,289.6 834.4,289.4 834.8,291.0 835.1,292.4 835.4,290.8 835.7,289.0 836.1,288.8 836.4,288.7 836.7,289.6 837.0,290.3 837.4,292.5 837.7,291.3 838.0,289.4 838.3,286.8 838.7,286.4 839.0,286.0 839.3,288.2 839.6,287.3 840.0,287.9 840.3,288.7 840.6,289.8 840.9,290.9 841.3,289.6 841.6,289.2 841.9,288.7 842.2,288.3 842.6,288.5 842.9,287.7 843.2,289.6 843.5,290.3 843.9,290.9 844.2,292.2 844.5,290.1 844.8,289.7 845.2,288.4 845.5,290.1 845.8,291.5 846.1,291.0 846.5,291.9 846.8,289.9 847.1,289.6 847.4,288.2 847.8,287.5 848.1,285.4 848.4,286.4 848.7,285.5 849.1,285.9 849.4,284.0 849.7,284.3 850.0,286.7 850.4,286.0 850.7,286.6 851.0,287.1 851.3,288.7 851.7,290.5 852.0,288.5 852.3,287.5 852.6,287.2 853.0,286.7 853.3,284.7 853.6,285.9 853.9,286.1 854.3,287.3 854.6,285.2 854.9,285.3 855.2,285.5 855.6,283.9 855.9,285.0 856.2,285.4 856.5,286.5 856.9,285.5 857.2,285.9 857.5,286.8 857.8,285.1 858.2,284.6 858.5,285.2 858.8,288.0 859.1,288.3 859.5,289.4 859.8,287.9 860.1,287.2 860.4,287.6 860.8,287.4 861.1,286.2 861.4,283.5 861.7,285.6 862.1,285.4 862.4,285.9 862.7,285.8 863.0,288.9 863.4,288.1 863.7,286.3 864.0,285.2 864.3,285.1 864.7,288.2 865.0,289.7 865.3,291.8 865.6,290.0 866.0,291.6 866.3,290.3 866.6,288.7 866.9,286.9 867.3,286.3 867.6,289.2 867.9,289.4 868.2,289.6 868.6,287.5 868.9,285.2 869.2,285.6 869.5,286.4 869.9,288.1 870.2,286.7 870.5,288.3 870.8,288.4 871.2,289.1 871.5,289.0 871.8,289.8 872.1,292.9 872.5,292.7 872.8,291.8 873.1,290.6 873.5,291.2 873.8,288.4 874.1,288.5 874.4,289.6 874.8,289.8 875.1,287.3 875.4,286.5 875.7,289.4 876.1,290.3 876.4,289.7 876.7,288.8 877.0,285.0 877.4,286.5 877.7,287.5 878.0,289.4 878.3,285.7 878.7,286.6 879.0,285.7 879.3,286.5 879.6,287.9 880.0,289.3 880.3,289.6 880.6,290.0 880.9,289.0 881.3,286.1 881.6,284.6 881.9,287.3 882.2,290.1 882.6,291.5 882.9,289.4 883.2,289.8 883.5,289.4 883.9,291.9 884.2,293.5 884.5,294.4 884.8,294.8 885.2,293.0 885.5,292.2 885.8,292.0 886.1,291.3 886.5,290.1 886.8,290.1 887.1,291.4 887.4,293.3 887.8,294.2 888.1,294.5 888.4,293.9 888.7,292.4 889.1,294.0 889.4,294.5 889.7,295.0 890.0,294.2 890.4,294.3 890.7,295.0 891.0,294.2 891.3,294.0 891.7,292.2 892.0,292.7 892.3,292.6 892.6,293.7 893.0,292.3 893.3,291.6 893.6,291.8 893.9,292.8 894.3,295.0 894.6,296.2 894.9,296.8 895.2,296.5 895.6,296.2 895.9,296.0 896.2,296.7 896.5,295.0 896.9,295.6 897.2,295.4 897.5,296.0 897.8,295.1 898.2,294.9 898.5,294.8 898.8,294.6 899.1,291.8 899.5,294.0 899.8,294.3 900.1,294.8 900.4,294.7 900.8,294.9 901.1,294.8 901.4,292.3 901.7,292.9 902.1,292.8 902.4,294.1 902.7,292.9 903.0,293.5 903.4,292.3 903.7,291.4 904.0,289.3 904.3,288.0 904.7,287.5 905.0,288.2 905.3,289.4 905.6,290.6 906.0,291.3 906.3,291.2 906.6,290.7 906.9,289.8 907.3,291.0 907.6,289.8 907.9,287.5 908.2,287.4 908.6,287.3 908.9,288.8 909.2,287.1 909.5,287.4 909.9,287.9 910.2,288.9 910.5,289.3 910.8,290.2 911.2,290.4 911.5,290.8 911.8,290.0 912.1,290.6 912.5,289.1 912.8,289.9 913.1,288.9 913.4,290.8 913.8,289.7 914.1,292.0 914.4,290.9 914.7,291.4 915.1,289.9 915.4,291.0 915.7,290.2 916.0,291.4 916.4,288.5 916.7,290.0 917.0,289.3 917.3,291.3 917.7,288.1 918.0,287.7 918.3,286.5 918.6,288.1 919.0,288.2 919.3,289.1 919.6,288.4 919.9,288.6 920.3,287.8 920.6,289.0 920.9,288.8 921.2,289.7 921.6,289.1 921.9,287.0 922.2,286.5 922.5,287.1 922.9,288.7 923.2,289.8 923.5,288.5 923.8,288.1 924.2,288.6 924.5,289.6 924.8,289.7 925.1,286.9 925.5,288.8 925.8,288.5 926.1,289.0 926.4,287.7 926.8,289.0 927.1,289.8 927.4,288.7 927.7,289.6 928.1,291.9 928.4,293.1 928.7,290.6 929.0,289.3 929.4,292.1 929.7,292.5 930.0,292.6 930.3,289.9 930.7,291.7 931.0,291.5" fill="none" stroke="#3d8bcc" stroke-width="0.6"/>
<rect x="624.0" y="311.5" width="322.0" height="20.2" fill="none" stroke="#444" stroke-width="0.5"/>
<line x1="639.0" y1="311.5" x2="639.0" y2="331.7" stroke="#e2e2e2" stroke-width="0.4"/>
<text x="639.0" y="336.3" font-size="3.3" fill="#444" text-anchor="middle" font-family="Liberation Sans">0</text>
<line x1="705.8" y1="311.5" x2="705.8" y2="331.7" stroke="#e2e2e2" stroke-width="0.4"/>
<text x="705.8" y="336.3" font-size="3.3" fill="#444" text-anchor="middle" font-family="Liberation Sans">10000</text>
<line x1="772.9" y1="311.5" x2="772.9" y2="331.7" stroke="#e2e2e2" stroke-width="0.4"/>
<text x="772.9" y="336.3" font-size="3.3" fill="#444" text-anchor="middle" font-family="Liberation Sans">20000</text>
<line x1="839.5" y1="311.5" x2="839.5" y2="331.7" stroke="#e2e2e2" stroke-width="0.4"/>
<text x="839.5" y="336.3" font-size="3.3" fill="#444" text-anchor="middle" font-family="Liberation Sans">30000</text>
<line x1="906.1" y1="311.5" x2="906.1" y2="331.7" stroke="#e2e2e2" stroke-width="0.4"/>
<text x="906.1" y="336.3" font-size="3.3" fill="#444" text-anchor="middle" font-family="Liberation Sans">40000</text>
<line x1="624.0" y1="314.0" x2="946.0" y2="314.0" stroke="#e2e2e2" stroke-width="0.4"/>
<text x="622.0" y="315.1" font-size="3.3" fill="#444" text-anchor="end" font-family="Liberation Sans">0.25</text>
<line x1="624.0" y1="321.6" x2="946.0" y2="321.6" stroke="#e2e2e2" stroke-width="0.4"/>
<text x="622.0" y="322.7" font-size="3.3" fill="#444" text-anchor="end" font-family="Liberation Sans">0.00</text>
<line x1="624.0" y1="329.2" x2="946.0" y2="329.2" stroke="#e2e2e2" stroke-width="0.4"/>
<text x="622.0" y="330.3" font-size="3.3" fill="#444" text-anchor="end" font-family="Liberation Sans">-0.25</text>
<text transform="translate(613.0,321.6) rotate(-90)" font-size="3.3" fill="#444" text-anchor="middle" font-family="Liberation Sans">IMF</text>
<text x="787.0" y="309.9" font-size="3.5" fill="#444" text-anchor="middle" font-family="Liberation Sans">Power - IMF2</text>
<polygon points="638.7,320.3 639.4,320.2 640.1,319.5 640.8,319.7 641.5,319.9 642.2,319.0 642.9,319.3 643.6,315.9 644.3,319.1 645.0,315.5 645.7,318.9 646.4,318.7 647.1,317.4 647.8,316.5 648.5,318.5 649.2,318.9 649.9,319.8 650.6,318.9 651.3,318.8 652.0,319.9 652.7,320.0 653.3,319.8 654.0,319.7 654.7,319.5 655.4,319.4 656.1,319.4 656.8,319.6 657.5,318.8 658.2,316.8 658.9,319.2 659.6,319.4 660.3,319.5 661.0,318.0 661.7,317.3 662.4,319.8 663.1,315.6 663.8,318.6 664.5,319.5 665.2,315.7 665.9,316.2 666.6,319.3 667.3,319.4 668.0,319.5 668.7,318.5 669.4,314.7 670.1,319.7 670.8,319.2 671.5,317.4 672.2,318.9 672.9,319.4 673.6,317.5 674.3,319.5 675.0,318.9 675.7,319.0 676.4,317.5 677.1,317.9 677.8,319.0 678.5,317.7 679.2,317.8 679.9,317.3 680.6,319.0 681.3,319.6 682.0,318.9 682.6,319.6 683.3,316.6 684.0,319.1 684.7,318.2 685.4,317.9 686.1,315.1 686.8,318.8 687.5,318.3 688.2,317.0 688.9,319.4 689.6,316.4 690.3,317.3 691.0,319.4 691.7,317.5 692.4,319.0 693.1,318.9 693.8,318.1 694.5,319.5 695.2,319.4 695.9,319.5 696.6,317.2 697.3,319.0 698.0,318.5 698.7,319.2 699.4,318.9 700.1,318.5 700.8,318.9 701.5,318.8 702.2,318.4 702.9,318.6 703.6,317.3 704.3,313.7 705.0,316.9 705.7,317.4 706.4,317.1 707.1,316.7 707.8,318.9 708.5,317.9 709.2,319.0 709.9,318.9 710.6,318.9 711.3,318.9 711.9,319.4 712.6,317.7 713.3,319.6 714.0,319.9 714.7,319.8 715.4,319.4 716.1,318.7 716.8,318.7 717.5,319.5 718.2,315.8 718.9,313.9 719.6,315.2 720.3,315.9 721.0,314.9 721.7,318.6 722.4,316.0 723.1,318.8 723.8,315.8 724.5,315.4 725.2,318.4 725.9,315.5 726.6,319.7 727.3,319.2 728.0,319.8 728.7,319.7 729.4,318.4 730.1,318.1 730.8,314.8 731.5,319.0 732.2,319.5 732.9,318.4 733.6,319.0 734.3,318.8 735.0,318.5 735.7,316.3 736.4,315.4 737.1,317.8 737.8,318.7 738.5,314.3 739.2,317.5 739.9,315.3 740.6,318.8 741.2,319.6 741.9,317.7 742.6,319.6 743.3,314.4 744.0,319.4 744.7,317.4 745.4,319.9 746.1,318.6 746.8,319.8 747.5,318.8 748.2,320.2 748.9,320.3 749.6,319.4 750.3,318.5 751.0,320.1 751.7,320.1 752.4,320.0 753.1,319.7 753.8,317.9 754.5,319.6 755.2,319.3 755.9,319.4 756.6,317.9 757.3,319.5 758.0,316.4 758.7,318.3 759.4,317.8 760.1,318.7 760.8,318.5 761.5,318.3 762.2,317.3 762.9,315.3 763.6,315.6 764.3,319.4 765.0,319.5 765.7,314.5 766.4,319.3 767.1,319.0 767.8,319.6 768.5,317.9 769.2,319.2 769.9,319.6 770.5,319.8 771.2,320.0 771.9,318.5 772.6,316.3 773.3,319.5 774.0,319.1 774.7,319.2 775.4,315.1 776.1,318.4 776.8,318.4 777.5,319.3 778.2,319.3 778.9,317.1 779.6,319.4 780.3,317.2 781.0,318.6 781.7,319.6 782.4,319.8 783.1,319.8 783.8,319.9 784.5,316.2 785.2,319.5 785.9,318.6 786.6,319.4 787.3,319.3 788.0,319.6 788.7,318.8 789.4,318.4 790.1,316.3 790.8,319.4 791.5,319.3 792.2,319.2 792.9,319.5 793.6,317.5 794.3,319.2 795.0,318.1 795.7,312.8 796.4,319.4 797.1,318.2 797.8,314.7 798.5,319.1 799.2,315.7 799.8,318.5 800.5,319.1 801.2,316.2 801.9,318.9 802.6,318.1 803.3,318.4 804.0,319.2 804.7,318.4 805.4,313.1 806.1,318.0 806.8,319.7 807.5,318.0 808.2,318.0 808.9,319.5 809.6,318.7 810.3,319.8 811.0,319.6 811.7,319.6 812.4,316.2 813.1,318.0 813.8,317.8 814.5,319.0 815.2,319.3 815.9,319.3 816.6,316.4 817.3,319.0 818.0,319.3 818.7,319.1 819.4,317.6 820.1,319.2 820.8,319.5 821.5,319.4 822.2,319.6 822.9,318.8 823.6,319.4 824.3,319.4 825.0,319.0 825.7,319.7 826.4,319.8 827.1,318.9 827.8,316.4 828.5,317.2 829.1,317.7 829.8,318.6 830.5,319.6 831.2,317.7 831.9,319.4 832.6,318.3 833.3,317.5 834.0,319.3 834.7,319.1 835.4,319.3 836.1,318.1 836.8,318.8 837.5,319.5 838.2,317.3 838.9,319.3 839.6,319.8 840.3,316.6 841.0,319.3 841.7,319.8 842.4,318.4 843.1,320.2 843.8,320.0 844.5,319.7 845.2,317.7 845.9,318.6 846.6,319.3 847.3,319.4 848.0,317.3 848.7,319.1 849.4,316.4 850.1,318.1 850.8,317.2 851.5,318.4 852.2,315.1 852.9,312.8 853.6,318.4 854.3,318.0 855.0,319.0 855.7,318.9 856.4,319.1 857.1,319.4 857.8,319.2 858.4,319.3 859.1,318.7 859.8,317.9 860.5,317.5 861.2,317.8 861.9,312.8 862.6,317.4 863.3,319.0 864.0,319.0 864.7,316.4 865.4,316.5 866.1,318.8 866.8,318.4 867.5,318.9 868.2,318.8 868.9,318.3 869.6,318.3 870.3,319.0 871.0,317.1 871.7,318.8 872.4,319.3 873.1,317.6 873.8,316.8 874.5,317.3 875.2,313.9 875.9,317.1 876.6,317.2 877.3,318.5 878.0,316.1 878.7,318.6 879.4,316.9 880.1,319.3 880.8,314.5 881.5,317.3 882.2,319.0 882.9,319.8 883.6,319.7 884.3,319.1 885.0,319.0 885.7,317.9 886.4,318.5 887.1,318.0 887.7,315.4 888.4,317.2 889.1,318.8 889.8,319.3 890.5,316.8 891.2,318.6 891.9,317.0 892.6,319.1 893.3,316.8 894.0,318.1 894.7,312.8 895.4,318.5 896.1,317.8 896.8,319.4 897.5,320.0 898.2,320.1 898.9,320.1 899.6,318.2 900.3,318.2 901.0,319.1 901.7,316.9 902.4,316.0 903.1,318.7 903.8,318.9 904.5,319.2 905.2,318.6 905.9,318.8 906.6,319.1 907.3,319.3 908.0,317.8 908.7,317.6 909.4,317.4 910.1,319.2 910.8,319.6 911.5,316.4 912.2,319.0 912.9,318.7 913.6,319.5 914.3,318.8 915.0,317.6 915.7,319.6 916.4,318.1 917.0,319.0 917.7,316.2 918.4,319.2 919.1,319.1 919.8,319.1 920.5,318.4 921.2,319.4 921.9,318.7 922.6,319.8 923.3,319.7 924.0,318.7 924.7,318.6 925.4,319.6 926.1,319.3 926.8,319.7 927.5,319.6 928.2,316.3 928.9,312.9 929.6,319.6 930.3,319.6 931.0,318.8 931.0,323.1 930.3,324.2 929.6,325.9 928.9,324.1 928.2,324.0 927.5,324.9 926.8,324.2 926.1,325.3 925.4,323.6 924.7,323.7 924.0,323.8 923.3,324.8 922.6,326.1 921.9,324.3 921.2,323.9 920.5,323.8 919.8,324.3 919.1,325.4 918.4,324.8 917.7,326.0 917.0,325.5 916.4,323.9 915.7,324.3 915.0,324.7 914.3,323.5 913.6,323.6 912.9,323.6 912.2,323.5 911.5,323.9 910.8,324.5 910.1,324.6 909.4,324.1 908.7,323.7 908.0,325.7 907.3,324.6 906.6,324.3 905.9,324.5 905.2,325.5 904.5,324.1 903.8,327.8 903.1,324.9 902.4,324.2 901.7,325.4 901.0,324.8 900.3,323.5 899.6,324.0 898.9,324.1 898.2,323.1 897.5,323.3 896.8,325.0 896.1,324.2 895.4,325.6 894.7,325.3 894.0,324.6 893.3,325.3 892.6,324.1 891.9,325.0 891.2,326.2 890.5,324.1 889.8,324.6 889.1,325.1 888.4,327.3 887.7,325.0 887.1,326.6 886.4,324.5 885.7,323.7 885.0,325.1 884.3,324.2 883.6,323.6 882.9,325.3 882.2,324.2 881.5,323.6 880.8,326.1 880.1,325.4 879.4,324.8 878.7,325.4 878.0,326.3 877.3,326.7 876.6,325.0 875.9,325.4 875.2,324.5 874.5,325.6 873.8,324.2 873.1,324.5 872.4,326.3 871.7,324.8 871.0,325.0 870.3,324.1 869.6,325.4 868.9,324.4 868.2,326.0 867.5,324.5 866.8,324.4 866.1,324.2 865.4,327.0 864.7,324.9 864.0,324.3 863.3,327.5 862.6,324.2 861.9,325.2 861.2,324.7 860.5,324.4 859.8,325.4 859.1,325.8 858.4,330.4 857.8,324.2 857.1,325.5 856.4,328.1 855.7,324.7 855.0,324.5 854.3,326.2 853.6,324.7 852.9,325.1 852.2,325.8 851.5,324.4 850.8,327.2 850.1,326.2 849.4,324.8 848.7,324.9 848.0,328.7 847.3,324.3 846.6,323.7 845.9,324.0 845.2,323.4 844.5,324.2 843.8,325.7 843.1,324.5 842.4,323.9 841.7,325.6 841.0,324.3 840.3,327.9 839.6,324.1 838.9,325.3 838.2,323.7 837.5,328.1 836.8,325.0 836.1,324.4 835.4,326.8 834.7,324.0 834.0,326.2 833.3,324.3 832.6,325.5 831.9,324.5 831.2,324.5 830.5,323.7 829.8,323.8 829.1,323.7 828.5,324.2 827.8,326.4 827.1,325.1 826.4,323.9 825.7,324.5 825.0,324.7 824.3,323.7 823.6,327.5 822.9,325.6 822.2,323.7 821.5,323.7 820.8,327.2 820.1,324.5 819.4,323.5 818.7,326.5 818.0,325.7 817.3,326.1 816.6,324.9 815.9,324.5 815.2,324.7 814.5,325.5 813.8,325.5 813.1,323.9 812.4,324.2 811.7,323.8 811.0,324.9 810.3,324.5 809.6,323.8 808.9,323.5 808.2,323.4 807.5,325.1 806.8,323.5 806.1,326.2 805.4,324.5 804.7,326.8 804.0,326.0 803.3,325.0 802.6,324.9 801.9,323.7 801.2,324.3 800.5,328.4 799.8,324.1 799.2,325.6 798.5,324.2 797.8,325.2 797.1,323.9 796.4,323.8 795.7,324.1 795.0,324.2 794.3,325.1 793.6,324.4 792.9,325.7 792.2,327.0 791.5,324.1 790.8,324.2 790.1,329.5 789.4,325.7 788.7,323.8 788.0,324.3 787.3,323.8 786.6,323.7 785.9,323.5 785.2,324.0 784.5,326.0 783.8,323.3 783.1,324.3 782.4,324.6 781.7,324.2 781.0,324.0 780.3,323.3 779.6,325.1 778.9,324.0 778.2,323.7 777.5,325.3 776.8,327.0 776.1,328.3 775.4,327.0 774.7,324.1 774.0,326.8 773.3,324.2 772.6,324.8 771.9,323.8 771.2,323.4 770.5,323.5 769.9,323.6 769.2,324.5 768.5,323.6 767.8,324.0 767.1,328.2 766.4,324.1 765.7,325.2 765.0,324.0 764.3,323.8 763.6,324.8 762.9,327.5 762.2,327.0 761.5,325.4 760.8,324.4 760.1,327.0 759.4,327.0 758.7,326.5 758.0,324.5 757.3,324.3 756.6,323.8 755.9,323.6 755.2,328.5 754.5,326.5 753.8,324.5 753.1,323.8 752.4,325.8 751.7,324.7 751.0,323.0 750.3,323.2 749.6,325.5 748.9,324.3 748.2,322.8 747.5,323.3 746.8,324.4 746.1,323.9 745.4,323.2 744.7,324.2 744.0,324.5 743.3,325.3 742.6,323.7 741.9,323.5 741.2,324.0 740.6,324.5 739.9,324.3 739.2,325.7 738.5,324.8 737.8,324.9 737.1,324.7 736.4,324.5 735.7,326.4 735.0,324.8 734.3,324.3 733.6,325.6 732.9,324.1 732.2,324.1 731.5,323.9 730.8,326.9 730.1,326.9 729.4,324.1 728.7,323.4 728.0,323.1 727.3,323.3 726.6,323.2 725.9,323.4 725.2,327.1 724.5,324.9 723.8,324.4 723.1,324.4 722.4,327.4 721.7,326.3 721.0,324.5 720.3,324.3 719.6,325.7 718.9,324.7 718.2,326.1 717.5,324.8 716.8,327.0 716.1,323.7 715.4,330.3 714.7,325.3 714.0,323.3 713.3,323.7 712.6,323.7 711.9,323.8 711.3,323.8 710.6,324.6 709.9,325.1 709.2,325.8 708.5,324.4 707.8,324.5 707.1,324.6 706.4,325.1 705.7,324.1 705.0,324.2 704.3,324.5 703.6,324.4 702.9,324.4 702.2,325.8 701.5,325.3 700.8,327.0 700.1,323.9 699.4,323.7 698.7,325.3 698.0,323.9 697.3,325.6 696.6,323.8 695.9,325.0 695.2,323.6 694.5,324.5 693.8,329.8 693.1,324.6 692.4,325.2 691.7,324.7 691.0,323.2 690.3,325.2 689.6,327.0 688.9,325.1 688.2,324.0 687.5,324.4 686.8,324.4 686.1,330.4 685.4,324.3 684.7,324.6 684.0,326.4 683.3,324.2 682.6,324.6 682.0,324.7 681.3,323.8 680.6,323.9 679.9,324.6 679.2,324.4 678.5,324.1 677.8,325.9 677.1,323.9 676.4,324.2 675.7,325.2 675.0,325.1 674.3,325.1 673.6,323.8 672.9,327.4 672.2,323.9 671.5,323.6 670.8,323.9 670.1,324.4 669.4,324.6 668.7,325.8 668.0,323.9 667.3,327.7 666.6,324.3 665.9,324.3 665.2,324.0 664.5,323.5 663.8,326.2 663.1,324.1 662.4,324.8 661.7,323.4 661.0,323.8 660.3,323.8 659.6,324.2 658.9,323.4 658.2,324.0 657.5,325.1 656.8,324.7 656.1,325.5 655.4,326.6 654.7,325.2 654.0,325.3 653.3,324.7 652.7,327.3 652.0,323.5 651.3,324.1 650.6,324.4 649.9,323.4 649.2,325.9 648.5,324.2 647.8,325.5 647.1,324.6 646.4,325.2 645.7,324.3 645.0,328.9 644.3,325.2 643.6,324.6 642.9,325.1 642.2,323.6 641.5,326.0 640.8,323.6 640.1,324.1 639.4,323.3 638.7,323.8" fill="#2a7ab8" stroke="#2a7ab8" stroke-width="0.3"/>
<rect x="624.0" y="342.4" width="322.0" height="20.2" fill="none" stroke="#444" stroke-width="0.5"/>
<line x1="639.0" y1="342.4" x2="639.0" y2="362.59999999999997" stroke="#e2e2e2" stroke-width="0.4"/>
<text x="639.0" y="367.2" font-size="3.3" fill="#444" text-anchor="middle" font-family="Liberation Sans">0</text>
<line x1="705.8" y1="342.4" x2="705.8" y2="362.59999999999997" stroke="#e2e2e2" stroke-width="0.4"/>
<text x="705.8" y="367.2" font-size="3.3" fill="#444" text-anchor="middle" font-family="Liberation Sans">10000</text>
<line x1="772.9" y1="342.4" x2="772.9" y2="362.59999999999997" stroke="#e2e2e2" stroke-width="0.4"/>
<text x="772.9" y="367.2" font-size="3.3" fill="#444" text-anchor="middle" font-family="Liberation Sans">20000</text>
<line x1="839.5" y1="342.4" x2="839.5" y2="362.59999999999997" stroke="#e2e2e2" stroke-width="0.4"/>
<text x="839.5" y="367.2" font-size="3.3" fill="#444" text-anchor="middle" font-family="Liberation Sans">30000</text>
<line x1="906.1" y1="342.4" x2="906.1" y2="362.59999999999997" stroke="#e2e2e2" stroke-width="0.4"/>
<text x="906.1" y="367.2" font-size="3.3" fill="#444" text-anchor="middle" font-family="Liberation Sans">40000</text>
<line x1="624.0" y1="344.9" x2="946.0" y2="344.9" stroke="#e2e2e2" stroke-width="0.4"/>
<text x="622.0" y="346.0" font-size="3.3" fill="#444" text-anchor="end" font-family="Liberation Sans">0.20</text>
<line x1="624.0" y1="352.5" x2="946.0" y2="352.5" stroke="#e2e2e2" stroke-width="0.4"/>
<text x="622.0" y="353.6" font-size="3.3" fill="#444" text-anchor="end" font-family="Liberation Sans">0.00</text>
<line x1="624.0" y1="360.1" x2="946.0" y2="360.1" stroke="#e2e2e2" stroke-width="0.4"/>
<text x="622.0" y="361.2" font-size="3.3" fill="#444" text-anchor="end" font-family="Liberation Sans">-0.20</text>
<text transform="translate(613.0,352.5) rotate(-90)" font-size="3.3" fill="#444" text-anchor="middle" font-family="Liberation Sans">IMF</text>
<text x="787.0" y="340.8" font-size="3.5" fill="#444" text-anchor="middle" font-family="Liberation Sans">Power - IMF3</text>
<polygon points="638.7,351.0 639.4,350.3 640.1,349.2 640.8,350.3 641.5,346.5 642.2,349.9 642.9,349.6 643.6,348.6 644.3,349.6 645.0,349.6 645.7,350.2 646.4,350.1 647.1,349.6 647.8,347.5 648.5,349.7 649.2,350.5 649.9,348.4 650.6,350.0 651.3,349.9 652.0,349.9 652.7,349.7 653.3,350.2 654.0,346.8 654.7,350.0 655.4,350.1 656.1,349.8 656.8,343.8 657.5,347.2 658.2,349.5 658.9,349.5 659.6,349.1 660.3,350.0 661.0,350.2 661.7,350.1 662.4,349.1 663.1,349.4 663.8,350.0 664.5,350.0 665.2,345.8 665.9,350.1 666.6,348.2 667.3,349.1 668.0,349.9 668.7,346.8 669.4,349.1 670.1,348.2 670.8,348.1 671.5,350.1 672.2,345.7 672.9,349.6 673.6,348.7 674.3,350.1 675.0,350.2 675.7,347.6 676.4,348.6 677.1,347.8 677.8,350.5 678.5,350.1 679.2,350.1 679.9,348.8 680.6,347.7 681.3,348.7 682.0,349.7 682.6,348.9 683.3,349.7 684.0,349.6 684.7,348.4 685.4,348.5 686.1,348.7 686.8,343.7 687.5,349.9 688.2,347.0 688.9,348.2 689.6,349.7 690.3,349.7 691.0,349.8 691.7,348.9 692.4,349.8 693.1,350.4 693.8,350.0 694.5,349.7 695.2,350.5 695.9,350.9 696.6,349.2 697.3,350.8 698.0,350.5 698.7,350.8 699.4,350.7 700.1,349.9 700.8,349.2 701.5,348.4 702.2,346.6 702.9,348.5 703.6,349.5 704.3,347.7 705.0,350.5 705.7,350.6 706.4,349.7 707.1,350.4 707.8,350.4 708.5,348.2 709.2,349.4 709.9,348.4 710.6,349.2 711.3,348.2 711.9,350.6 712.6,350.0 713.3,349.6 714.0,347.9 714.7,348.5 715.4,350.5 716.1,350.4 716.8,350.1 717.5,348.5 718.2,349.6 718.9,349.6 719.6,346.8 720.3,345.9 721.0,349.8 721.7,350.3 722.4,349.1 723.1,350.6 723.8,350.3 724.5,347.6 725.2,349.6 725.9,350.0 726.6,346.5 727.3,350.5 728.0,347.8 728.7,343.7 729.4,347.6 730.1,350.2 730.8,345.7 731.5,349.1 732.2,348.5 732.9,348.4 733.6,348.6 734.3,350.3 735.0,349.7 735.7,350.3 736.4,350.5 737.1,350.5 737.8,350.1 738.5,350.5 739.2,349.7 739.9,350.1 740.6,344.6 741.2,345.3 741.9,348.0 742.6,349.4 743.3,347.7 744.0,348.6 744.7,349.9 745.4,349.6 746.1,349.4 746.8,350.7 747.5,350.0 748.2,350.4 748.9,350.1 749.6,349.3 750.3,349.9 751.0,350.0 751.7,348.7 752.4,348.5 753.1,350.0 753.8,349.4 754.5,348.5 755.2,349.0 755.9,348.7 756.6,348.3 757.3,348.3 758.0,348.2 758.7,349.9 759.4,349.0 760.1,348.2 760.8,349.7 761.5,349.8 762.2,348.8 762.9,349.4 763.6,346.7 764.3,349.6 765.0,349.5 765.7,344.2 766.4,349.6 767.1,347.4 767.8,343.7 768.5,349.3 769.2,350.2 769.9,349.6 770.5,350.1 771.2,348.3 771.9,349.0 772.6,349.6 773.3,348.6 774.0,350.0 774.7,349.3 775.4,349.3 776.1,348.4 776.8,349.4 777.5,349.4 778.2,346.5 778.9,349.5 779.6,350.1 780.3,348.2 781.0,350.1 781.7,349.5 782.4,350.3 783.1,349.7 783.8,349.9 784.5,348.8 785.2,350.7 785.9,350.6 786.6,350.2 787.3,349.6 788.0,347.8 788.7,350.7 789.4,350.2 790.1,349.1 790.8,348.9 791.5,349.9 792.2,350.3 792.9,349.1 793.6,349.3 794.3,347.4 795.0,348.6 795.7,349.2 796.4,349.9 797.1,345.5 797.8,349.9 798.5,350.4 799.2,349.4 799.8,350.9 800.5,350.9 801.2,350.3 801.9,350.8 802.6,350.7 803.3,350.1 804.0,350.4 804.7,350.4 805.4,349.4 806.1,349.9 806.8,348.4 807.5,346.4 808.2,348.0 808.9,349.9 809.6,348.1 810.3,350.3 811.0,349.6 811.7,349.0 812.4,350.5 813.1,351.2 813.8,351.2 814.5,351.2 815.2,349.7 815.9,351.3 816.6,351.2 817.3,350.9 818.0,351.3 818.7,349.8 819.4,350.4 820.1,350.9 820.8,347.6 821.5,349.3 822.2,348.6 822.9,350.3 823.6,347.6 824.3,350.1 825.0,349.2 825.7,349.9 826.4,350.0 827.1,350.1 827.8,345.7 828.5,349.2 829.1,348.1 829.8,349.3 830.5,348.5 831.2,350.5 831.9,348.7 832.6,349.7 833.3,349.1 834.0,350.3 834.7,350.3 835.4,350.5 836.1,350.8 836.8,349.0 837.5,349.3 838.2,349.1 838.9,350.4 839.6,348.5 840.3,350.5 841.0,349.9 841.7,351.0 842.4,350.7 843.1,350.5 843.8,349.8 844.5,350.4 845.2,350.9 845.9,349.0 846.6,349.7 847.3,350.5 848.0,349.9 848.7,350.3 849.4,347.5 850.1,350.4 850.8,350.7 851.5,349.2 852.2,349.2 852.9,350.3 853.6,347.2 854.3,349.0 855.0,349.4 855.7,350.3 856.4,347.9 857.1,349.1 857.8,350.0 858.4,350.4 859.1,350.2 859.8,349.7 860.5,349.0 861.2,348.9 861.9,350.0 862.6,350.2 863.3,348.9 864.0,349.3 864.7,349.4 865.4,350.2 866.1,348.5 866.8,349.2 867.5,346.3 868.2,349.1 868.9,348.2 869.6,349.5 870.3,346.7 871.0,349.3 871.7,349.1 872.4,349.9 873.1,349.3 873.8,347.8 874.5,348.4 875.2,350.2 875.9,349.7 876.6,346.7 877.3,350.6 878.0,350.4 878.7,350.7 879.4,349.3 880.1,349.7 880.8,349.6 881.5,350.5 882.2,348.4 882.9,347.5 883.6,350.9 884.3,350.7 885.0,350.7 885.7,349.6 886.4,350.0 887.1,348.4 887.7,350.6 888.4,349.9 889.1,349.5 889.8,349.3 890.5,350.0 891.2,350.8 891.9,350.8 892.6,350.5 893.3,350.5 894.0,348.7 894.7,345.2 895.4,350.7 896.1,349.4 896.8,348.7 897.5,350.0 898.2,350.7 898.9,349.6 899.6,349.7 900.3,347.9 901.0,349.8 901.7,349.6 902.4,349.6 903.1,349.1 903.8,348.2 904.5,349.5 905.2,349.1 905.9,350.1 906.6,349.1 907.3,348.9 908.0,350.5 908.7,344.9 909.4,349.4 910.1,350.2 910.8,350.1 911.5,350.6 912.2,347.4 912.9,348.0 913.6,349.8 914.3,350.3 915.0,349.8 915.7,349.9 916.4,348.3 917.0,350.4 917.7,347.4 918.4,349.9 919.1,348.0 919.8,349.9 920.5,349.6 921.2,349.6 921.9,350.1 922.6,349.8 923.3,347.0 924.0,349.3 924.7,350.1 925.4,350.6 926.1,350.8 926.8,348.1 927.5,350.9 928.2,351.4 928.9,350.7 929.6,350.7 930.3,351.3 931.0,350.1 931.0,353.8 930.3,353.7 929.6,354.3 928.9,355.6 928.2,354.1 927.5,354.4 926.8,354.4 926.1,354.1 925.4,358.0 924.7,354.5 924.0,355.1 923.3,358.1 922.6,355.3 921.9,357.0 921.2,357.6 920.5,355.4 919.8,355.8 919.1,355.8 918.4,354.8 917.7,356.9 917.0,357.8 916.4,355.0 915.7,356.5 915.0,355.2 914.3,355.8 913.6,355.9 912.9,357.3 912.2,355.0 911.5,355.0 910.8,355.8 910.1,356.2 909.4,356.6 908.7,354.5 908.0,354.9 907.3,354.7 906.6,354.7 905.9,356.7 905.2,355.4 904.5,355.8 903.8,357.6 903.1,359.7 902.4,355.7 901.7,356.1 901.0,357.7 900.3,355.9 899.6,354.8 898.9,356.5 898.2,354.3 897.5,354.9 896.8,355.8 896.1,354.1 895.4,354.5 894.7,354.2 894.0,354.6 893.3,354.6 892.6,354.5 891.9,354.6 891.2,355.8 890.5,354.5 889.8,354.5 889.1,355.6 888.4,357.1 887.7,354.6 887.1,354.5 886.4,354.8 885.7,355.4 885.0,356.2 884.3,356.9 883.6,354.1 882.9,354.5 882.2,357.0 881.5,355.5 880.8,354.1 880.1,354.8 879.4,356.2 878.7,355.7 878.0,355.4 877.3,354.6 876.6,355.7 875.9,354.9 875.2,356.9 874.5,355.6 873.8,355.0 873.1,356.4 872.4,356.1 871.7,360.6 871.0,355.2 870.3,356.7 869.6,356.3 868.9,355.9 868.2,355.3 867.5,355.5 866.8,355.0 866.1,356.3 865.4,355.1 864.7,356.6 864.0,355.9 863.3,359.1 862.6,358.1 861.9,355.0 861.2,356.7 860.5,354.7 859.8,354.5 859.1,354.6 858.4,354.4 857.8,357.5 857.1,356.3 856.4,357.0 855.7,357.5 855.0,358.2 854.3,356.0 853.6,354.6 852.9,356.4 852.2,356.3 851.5,354.9 850.8,355.4 850.1,354.3 849.4,354.8 848.7,354.9 848.0,355.0 847.3,355.3 846.6,354.4 845.9,357.6 845.2,356.4 844.5,354.1 843.8,357.7 843.1,354.0 842.4,354.9 841.7,354.3 841.0,357.8 840.3,354.9 839.6,354.2 838.9,354.3 838.2,354.4 837.5,354.6 836.8,354.3 836.1,355.9 835.4,354.5 834.7,354.4 834.0,354.5 833.3,354.3 832.6,357.1 831.9,355.2 831.2,355.3 830.5,354.5 829.8,354.7 829.1,355.5 828.5,355.5 827.8,358.2 827.1,355.2 826.4,354.9 825.7,355.2 825.0,355.4 824.3,355.9 823.6,354.7 822.9,356.3 822.2,355.3 821.5,355.0 820.8,354.3 820.1,353.9 819.4,354.3 818.7,353.9 818.0,353.6 817.3,353.7 816.6,353.7 815.9,353.8 815.2,353.7 814.5,353.8 813.8,353.8 813.1,354.7 812.4,354.5 811.7,354.4 811.0,357.4 810.3,355.9 809.6,359.6 808.9,356.2 808.2,355.6 807.5,355.0 806.8,356.2 806.1,356.8 805.4,355.4 804.7,354.6 804.0,355.3 803.3,355.4 802.6,354.3 801.9,354.8 801.2,354.1 800.5,354.8 799.8,354.5 799.2,353.9 798.5,354.1 797.8,355.5 797.1,354.7 796.4,354.9 795.7,355.2 795.0,355.5 794.3,355.4 793.6,355.1 792.9,354.6 792.2,355.2 791.5,355.8 790.8,354.9 790.1,356.8 789.4,354.9 788.7,354.9 788.0,356.4 787.3,354.2 786.6,354.3 785.9,354.2 785.2,354.5 784.5,354.6 783.8,355.4 783.1,356.4 782.4,355.0 781.7,354.7 781.0,357.4 780.3,354.7 779.6,355.9 778.9,356.3 778.2,356.1 777.5,356.6 776.8,356.3 776.1,355.6 775.4,355.1 774.7,356.6 774.0,356.3 773.3,357.9 772.6,354.3 771.9,355.2 771.2,356.9 770.5,355.0 769.9,354.8 769.2,354.8 768.5,354.9 767.8,355.5 767.1,355.6 766.4,356.7 765.7,356.6 765.0,357.6 764.3,361.3 763.6,355.2 762.9,355.4 762.2,355.3 761.5,360.4 760.8,359.2 760.1,355.3 759.4,355.1 758.7,355.3 758.0,357.3 757.3,354.9 756.6,355.1 755.9,355.3 755.2,355.7 754.5,356.4 753.8,355.8 753.1,355.0 752.4,355.7 751.7,355.9 751.0,354.8 750.3,355.4 749.6,355.1 748.9,354.7 748.2,355.5 747.5,354.6 746.8,354.8 746.1,357.5 745.4,354.9 744.7,355.9 744.0,356.5 743.3,355.2 742.6,356.2 741.9,355.3 741.2,355.9 740.6,355.2 739.9,354.8 739.2,355.6 738.5,355.6 737.8,354.9 737.1,355.9 736.4,355.3 735.7,354.3 735.0,354.7 734.3,361.3 733.6,355.2 732.9,355.4 732.2,355.3 731.5,355.5 730.8,357.2 730.1,355.2 729.4,356.4 728.7,355.1 728.0,354.9 727.3,354.7 726.6,354.6 725.9,355.1 725.2,354.9 724.5,354.4 723.8,354.4 723.1,356.0 722.4,355.0 721.7,356.0 721.0,357.0 720.3,357.1 719.6,357.5 718.9,355.5 718.2,356.0 717.5,355.7 716.8,354.7 716.1,355.1 715.4,354.7 714.7,354.3 714.0,354.8 713.3,354.4 712.6,354.5 711.9,356.5 711.3,356.0 710.6,354.8 709.9,357.9 709.2,357.6 708.5,354.7 707.8,355.2 707.1,354.5 706.4,358.9 705.7,355.8 705.0,354.6 704.3,355.0 703.6,354.9 702.9,355.9 702.2,355.1 701.5,355.1 700.8,356.7 700.1,355.4 699.4,354.8 698.7,354.7 698.0,357.6 697.3,357.9 696.6,354.0 695.9,358.5 695.2,354.7 694.5,355.1 693.8,355.3 693.1,355.9 692.4,354.8 691.7,354.9 691.0,354.9 690.3,354.6 689.6,354.9 688.9,355.0 688.2,355.3 687.5,356.5 686.8,355.6 686.1,357.6 685.4,355.9 684.7,355.2 684.0,355.5 683.3,355.0 682.6,357.4 682.0,355.3 681.3,361.2 680.6,354.9 679.9,354.7 679.2,355.4 678.5,354.7 677.8,355.2 677.1,355.1 676.4,354.6 675.7,354.8 675.0,354.8 674.3,356.3 673.6,354.7 672.9,356.1 672.2,354.5 671.5,356.7 670.8,355.3 670.1,357.0 669.4,354.9 668.7,355.4 668.0,358.5 667.3,355.1 666.6,354.8 665.9,356.4 665.2,357.8 664.5,354.8 663.8,354.6 663.1,354.6 662.4,359.3 661.7,355.4 661.0,358.1 660.3,355.2 659.6,354.9 658.9,355.2 658.2,355.0 657.5,356.7 656.8,356.2 656.1,355.7 655.4,355.4 654.7,356.3 654.0,358.6 653.3,354.9 652.7,356.0 652.0,356.2 651.3,355.0 650.6,354.6 649.9,355.0 649.2,354.8 648.5,357.6 647.8,354.9 647.1,359.9 646.4,354.7 645.7,356.0 645.0,356.1 644.3,357.1 643.6,355.2 642.9,355.1 642.2,354.7 641.5,354.7 640.8,356.1 640.1,354.4 639.4,355.2 638.7,356.7" fill="#2a7ab8" stroke="#2a7ab8" stroke-width="0.3"/>
<rect x="624.0" y="373.3" width="322.0" height="20.2" fill="none" stroke="#444" stroke-width="0.5"/>
<line x1="639.0" y1="373.3" x2="639.0" y2="393.5" stroke="#e2e2e2" stroke-width="0.4"/>
<text x="639.0" y="398.1" font-size="3.3" fill="#444" text-anchor="middle" font-family="Liberation Sans">0</text>
<line x1="705.8" y1="373.3" x2="705.8" y2="393.5" stroke="#e2e2e2" stroke-width="0.4"/>
<text x="705.8" y="398.1" font-size="3.3" fill="#444" text-anchor="middle" font-family="Liberation Sans">10000</text>
<line x1="772.9" y1="373.3" x2="772.9" y2="393.5" stroke="#e2e2e2" stroke-width="0.4"/>
<text x="772.9" y="398.1" font-size="3.3" fill="#444" text-anchor="middle" font-family="Liberation Sans">20000</text>
<line x1="839.5" y1="373.3" x2="839.5" y2="393.5" stroke="#e2e2e2" stroke-width="0.4"/>
<text x="839.5" y="398.1" font-size="3.3" fill="#444" text-anchor="middle" font-family="Liberation Sans">30000</text>
<line x1="906.1" y1="373.3" x2="906.1" y2="393.5" stroke="#e2e2e2" stroke-width="0.4"/>
<text x="906.1" y="398.1" font-size="3.3" fill="#444" text-anchor="middle" font-family="Liberation Sans">40000</text>
<line x1="624.0" y1="375.8" x2="946.0" y2="375.8" stroke="#e2e2e2" stroke-width="0.4"/>
<text x="622.0" y="376.9" font-size="3.3" fill="#444" text-anchor="end" font-family="Liberation Sans">0.25</text>
<line x1="624.0" y1="383.4" x2="946.0" y2="383.4" stroke="#e2e2e2" stroke-width="0.4"/>
<text x="622.0" y="384.5" font-size="3.3" fill="#444" text-anchor="end" font-family="Liberation Sans">0.00</text>
<line x1="624.0" y1="391.0" x2="946.0" y2="391.0" stroke="#e2e2e2" stroke-width="0.4"/>
<text x="622.0" y="392.1" font-size="3.3" fill="#444" text-anchor="end" font-family="Liberation Sans">-0.25</text>
<text transform="translate(613.0,383.4) rotate(-90)" font-size="3.3" fill="#444" text-anchor="middle" font-family="Liberation Sans">IMF</text>
<text x="787.0" y="371.7" font-size="3.5" fill="#444" text-anchor="middle" font-family="Liberation Sans">Power - IMF4</text>
<polygon points="638.7,382.0 639.4,381.5 640.1,381.3 640.8,379.9 641.5,379.9 642.2,381.4 642.9,381.7 643.6,380.8 644.3,381.3 645.0,380.8 645.7,379.8 646.4,374.7 647.1,379.4 647.8,377.8 648.5,380.7 649.2,377.7 649.9,380.9 650.6,380.7 651.3,381.0 652.0,380.1 652.7,381.3 653.3,381.0 654.0,379.0 654.7,380.9 655.4,379.0 656.1,380.9 656.8,381.0 657.5,379.9 658.2,380.0 658.9,380.2 659.6,377.6 660.3,381.3 661.0,381.0 661.7,378.2 662.4,381.0 663.1,381.2 663.8,380.8 664.5,381.2 665.2,380.8 665.9,380.5 666.6,381.1 667.3,381.2 668.0,381.0 668.7,381.0 669.4,380.2 670.1,380.5 670.8,378.8 671.5,381.2 672.2,381.5 672.9,381.0 673.6,380.6 674.3,380.8 675.0,381.2 675.7,381.2 676.4,379.2 677.1,380.9 677.8,381.2 678.5,380.2 679.2,381.2 679.9,379.4 680.6,381.4 681.3,380.6 682.0,381.2 682.6,380.6 683.3,381.7 684.0,375.7 684.7,381.5 685.4,380.8 686.1,381.8 686.8,381.7 687.5,380.0 688.2,380.9 688.9,380.0 689.6,376.5 690.3,380.3 691.0,380.0 691.7,380.6 692.4,381.1 693.1,381.1 693.8,380.9 694.5,379.1 695.2,377.6 695.9,380.7 696.6,379.8 697.3,379.6 698.0,381.2 698.7,380.5 699.4,380.8 700.1,380.0 700.8,378.4 701.5,380.7 702.2,380.3 702.9,380.4 703.6,379.9 704.3,377.2 705.0,375.2 705.7,380.4 706.4,377.3 707.1,380.4 707.8,381.1 708.5,381.3 709.2,381.0 709.9,381.6 710.6,381.6 711.3,381.8 711.9,380.6 712.6,382.1 713.3,382.2 714.0,381.3 714.7,380.9 715.4,381.8 716.1,381.6 716.8,381.7 717.5,381.0 718.2,381.4 718.9,379.5 719.6,380.8 720.3,379.3 721.0,379.2 721.7,380.4 722.4,381.1 723.1,379.2 723.8,376.4 724.5,378.7 725.2,379.0 725.9,380.3 726.6,380.8 727.3,379.5 728.0,381.0 728.7,380.8 729.4,377.3 730.1,381.1 730.8,381.3 731.5,380.6 732.2,379.8 732.9,380.8 733.6,380.6 734.3,380.2 735.0,378.5 735.7,380.8 736.4,379.9 737.1,380.7 737.8,377.9 738.5,381.2 739.2,378.7 739.9,380.3 740.6,380.0 741.2,379.9 741.9,378.3 742.6,381.1 743.3,380.9 744.0,380.1 744.7,381.3 745.4,380.8 746.1,379.8 746.8,379.6 747.5,381.3 748.2,381.0 748.9,380.6 749.6,375.1 750.3,378.0 751.0,380.4 751.7,381.8 752.4,380.5 753.1,381.6 753.8,380.0 754.5,382.0 755.2,381.9 755.9,381.1 756.6,380.2 757.3,380.9 758.0,381.4 758.7,377.4 759.4,378.6 760.1,380.9 760.8,380.1 761.5,381.1 762.2,380.2 762.9,381.0 763.6,380.6 764.3,381.1 765.0,380.6 765.7,381.2 766.4,377.7 767.1,381.0 767.8,380.3 768.5,381.4 769.2,380.8 769.9,381.4 770.5,381.5 771.2,381.2 771.9,379.5 772.6,382.2 773.3,382.3 774.0,382.2 774.7,380.8 775.4,381.5 776.1,380.1 776.8,380.4 777.5,381.3 778.2,380.2 778.9,379.2 779.6,376.5 780.3,378.5 781.0,380.5 781.7,380.6 782.4,380.4 783.1,380.5 783.8,380.3 784.5,380.0 785.2,380.5 785.9,380.9 786.6,381.1 787.3,381.2 788.0,381.4 788.7,378.8 789.4,380.8 790.1,381.4 790.8,381.3 791.5,381.2 792.2,381.4 792.9,381.3 793.6,378.7 794.3,381.8 795.0,380.9 795.7,379.1 796.4,381.0 797.1,381.3 797.8,380.5 798.5,379.4 799.2,380.7 799.8,380.0 800.5,379.9 801.2,380.9 801.9,381.5 802.6,380.8 803.3,382.1 804.0,378.9 804.7,379.7 805.4,381.1 806.1,381.2 806.8,379.7 807.5,380.9 808.2,381.2 808.9,379.8 809.6,380.7 810.3,378.6 811.0,380.2 811.7,379.5 812.4,379.7 813.1,381.3 813.8,381.3 814.5,381.7 815.2,381.4 815.9,378.5 816.6,379.9 817.3,380.9 818.0,381.2 818.7,377.0 819.4,381.6 820.1,380.6 820.8,379.7 821.5,380.7 822.2,381.6 822.9,381.5 823.6,379.8 824.3,380.7 825.0,381.7 825.7,381.1 826.4,381.6 827.1,380.9 827.8,380.3 828.5,379.7 829.1,379.2 829.8,376.5 830.5,378.8 831.2,377.6 831.9,377.8 832.6,377.2 833.3,379.0 834.0,380.7 834.7,381.0 835.4,376.8 836.1,377.1 836.8,380.6 837.5,380.0 838.2,377.2 838.9,379.3 839.6,380.3 840.3,380.7 841.0,378.1 841.7,379.3 842.4,379.6 843.1,379.1 843.8,380.6 844.5,381.0 845.2,380.5 845.9,380.8 846.6,379.9 847.3,381.0 848.0,378.0 848.7,380.3 849.4,379.8 850.1,381.3 850.8,381.0 851.5,381.3 852.2,377.3 852.9,381.5 853.6,379.6 854.3,379.9 855.0,380.0 855.7,379.1 856.4,380.2 857.1,379.9 857.8,380.7 858.4,378.3 859.1,380.4 859.8,378.0 860.5,380.9 861.2,378.8 861.9,381.2 862.6,381.1 863.3,376.8 864.0,380.1 864.7,380.1 865.4,379.0 866.1,381.0 866.8,380.4 867.5,381.0 868.2,380.3 868.9,380.9 869.6,379.4 870.3,380.9 871.0,380.8 871.7,380.4 872.4,380.3 873.1,380.9 873.8,381.1 874.5,380.4 875.2,381.1 875.9,381.1 876.6,381.2 877.3,381.2 878.0,381.3 878.7,380.9 879.4,381.3 880.1,378.6 880.8,379.6 881.5,381.0 882.2,380.7 882.9,380.7 883.6,381.2 884.3,380.5 885.0,380.5 885.7,378.6 886.4,374.6 887.1,380.9 887.7,379.8 888.4,380.4 889.1,381.4 889.8,381.4 890.5,381.6 891.2,380.6 891.9,381.4 892.6,381.4 893.3,376.2 894.0,380.9 894.7,381.0 895.4,374.7 896.1,380.7 896.8,381.3 897.5,381.0 898.2,380.6 898.9,381.0 899.6,379.4 900.3,380.8 901.0,381.0 901.7,377.7 902.4,378.5 903.1,381.3 903.8,381.1 904.5,381.4 905.2,381.1 905.9,380.6 906.6,379.6 907.3,376.8 908.0,379.6 908.7,378.2 909.4,377.5 910.1,380.0 910.8,381.2 911.5,380.8 912.2,381.2 912.9,379.4 913.6,381.7 914.3,381.0 915.0,381.6 915.7,381.0 916.4,381.0 917.0,381.2 917.7,379.3 918.4,381.1 919.1,379.5 919.8,380.3 920.5,380.8 921.2,380.1 921.9,381.2 922.6,378.9 923.3,374.6 924.0,380.5 924.7,376.8 925.4,377.3 926.1,380.6 926.8,377.7 927.5,380.8 928.2,375.2 928.9,377.5 929.6,380.6 930.3,381.4 931.0,381.6 931.0,385.6 930.3,385.8 929.6,385.8 928.9,386.0 928.2,385.8 927.5,386.1 926.8,389.2 926.1,386.7 925.4,389.7 924.7,386.8 924.0,386.3 923.3,389.6 922.6,387.1 921.9,385.5 921.2,387.6 920.5,388.2 919.8,385.6 919.1,387.5 918.4,386.3 917.7,386.3 917.0,387.8 916.4,391.4 915.7,386.5 915.0,386.5 914.3,385.4 913.6,385.0 912.9,385.1 912.2,387.3 911.5,386.1 910.8,390.9 910.1,388.2 909.4,387.8 908.7,385.7 908.0,389.1 907.3,387.0 906.6,385.7 905.9,388.8 905.2,386.2 904.5,385.9 903.8,385.7 903.1,385.1 902.4,385.4 901.7,385.3 901.0,388.3 900.3,392.2 899.6,387.4 898.9,386.4 898.2,389.7 897.5,385.8 896.8,387.8 896.1,387.3 895.4,385.9 894.7,386.3 894.0,385.8 893.3,385.7 892.6,387.0 891.9,388.8 891.2,389.1 890.5,385.4 889.8,385.2 889.1,385.3 888.4,385.6 887.7,385.7 887.1,387.3 886.4,386.8 885.7,387.4 885.0,386.2 884.3,386.2 883.6,385.6 882.9,387.7 882.2,386.1 881.5,386.0 880.8,388.6 880.1,385.5 879.4,385.4 878.7,386.8 878.0,387.4 877.3,386.0 876.6,387.6 875.9,386.5 875.2,385.8 874.5,386.6 873.8,387.5 873.1,388.2 872.4,386.1 871.7,386.1 871.0,392.2 870.3,386.6 869.6,385.8 868.9,385.9 868.2,386.5 867.5,387.7 866.8,388.2 866.1,386.0 865.4,386.4 864.7,386.1 864.0,386.2 863.3,385.9 862.6,385.9 861.9,385.6 861.2,386.4 860.5,387.3 859.8,386.5 859.1,386.5 858.4,386.1 857.8,386.2 857.1,386.5 856.4,386.9 855.7,389.1 855.0,386.3 854.3,385.8 853.6,385.5 852.9,387.5 852.2,386.3 851.5,385.5 850.8,385.5 850.1,391.5 849.4,389.5 848.7,389.5 848.0,386.0 847.3,385.7 846.6,387.9 845.9,387.4 845.2,386.2 844.5,385.6 843.8,387.2 843.1,389.0 842.4,387.2 841.7,390.8 841.0,388.4 840.3,386.8 839.6,388.0 838.9,386.2 838.2,388.7 837.5,388.9 836.8,386.1 836.1,386.1 835.4,388.2 834.7,385.7 834.0,387.2 833.3,386.1 832.6,387.6 831.9,388.6 831.2,386.2 830.5,389.8 829.8,389.1 829.1,388.2 828.5,385.8 827.8,385.6 827.1,386.8 826.4,385.5 825.7,385.3 825.0,385.4 824.3,386.5 823.6,388.4 822.9,384.8 822.2,385.0 821.5,385.9 820.8,384.7 820.1,385.2 819.4,386.5 818.7,385.8 818.0,386.5 817.3,385.9 816.6,387.4 815.9,385.7 815.2,385.4 814.5,385.7 813.8,388.9 813.1,386.8 812.4,385.6 811.7,387.1 811.0,385.8 810.3,386.7 809.6,387.7 808.9,386.1 808.2,386.0 807.5,385.9 806.8,386.0 806.1,385.5 805.4,385.4 804.7,385.4 804.0,388.0 803.3,385.1 802.6,385.1 801.9,385.9 801.2,385.3 800.5,386.0 799.8,385.9 799.2,392.2 798.5,385.8 797.8,385.8 797.1,386.0 796.4,385.7 795.7,387.7 795.0,386.9 794.3,384.7 793.6,385.2 792.9,386.2 792.2,385.6 791.5,387.0 790.8,385.8 790.1,385.8 789.4,385.2 788.7,386.8 788.0,386.8 787.3,389.4 786.6,386.7 785.9,385.2 785.2,386.0 784.5,392.2 783.8,387.1 783.1,387.3 782.4,387.1 781.7,388.0 781.0,386.8 780.3,388.1 779.6,388.5 778.9,386.2 778.2,386.1 777.5,387.3 776.8,386.7 776.1,385.4 775.4,385.2 774.7,385.1 774.0,386.4 773.3,387.4 772.6,384.5 771.9,385.1 771.2,384.7 770.5,387.0 769.9,385.3 769.2,386.1 768.5,385.3 767.8,386.2 767.1,385.7 766.4,392.2 765.7,386.2 765.0,386.6 764.3,386.2 763.6,386.1 762.9,389.9 762.2,386.0 761.5,386.0 760.8,387.5 760.1,386.6 759.4,391.9 758.7,387.7 758.0,385.5 757.3,391.0 756.6,386.6 755.9,386.2 755.2,384.9 754.5,390.8 753.8,386.5 753.1,385.8 752.4,385.2 751.7,385.1 751.0,387.4 750.3,385.9 749.6,386.5 748.9,386.3 748.2,385.9 747.5,386.9 746.8,385.6 746.1,387.0 745.4,385.6 744.7,385.8 744.0,385.4 743.3,385.2 742.6,385.6 741.9,387.8 741.2,386.9 740.6,386.8 739.9,385.7 739.2,387.6 738.5,385.5 737.8,388.1 737.1,386.7 736.4,389.0 735.7,386.2 735.0,387.8 734.3,386.8 733.6,388.4 732.9,386.1 732.2,387.0 731.5,385.8 730.8,386.2 730.1,387.4 729.4,385.4 728.7,389.3 728.0,386.8 727.3,387.4 726.6,386.5 725.9,386.0 725.2,386.2 724.5,392.2 723.8,390.0 723.1,385.5 722.4,385.7 721.7,387.0 721.0,385.6 720.3,386.4 719.6,387.7 718.9,386.0 718.2,387.1 717.5,387.9 716.8,384.9 716.1,384.9 715.4,385.0 714.7,385.6 714.0,384.9 713.3,385.2 712.6,386.7 711.9,385.2 711.3,384.8 710.6,385.0 709.9,384.9 709.2,385.0 708.5,385.2 707.8,386.0 707.1,386.8 706.4,386.8 705.7,386.9 705.0,387.8 704.3,389.8 703.6,386.9 702.9,387.0 702.2,386.0 701.5,389.7 700.8,387.0 700.1,385.8 699.4,387.8 698.7,386.2 698.0,386.0 697.3,386.4 696.6,389.5 695.9,386.3 695.2,388.5 694.5,386.1 693.8,387.9 693.1,385.6 692.4,389.7 691.7,388.2 691.0,385.5 690.3,387.6 689.6,385.6 688.9,385.6 688.2,387.0 687.5,389.5 686.8,385.5 686.1,389.5 685.4,386.3 684.7,385.3 684.0,385.8 683.3,385.3 682.6,387.1 682.0,385.6 681.3,385.4 680.6,385.2 679.9,387.9 679.2,388.1 678.5,385.7 677.8,388.1 677.1,387.1 676.4,385.9 675.7,387.5 675.0,385.7 674.3,385.3 673.6,385.1 672.9,387.1 672.2,386.2 671.5,385.8 670.8,387.1 670.1,387.9 669.4,385.7 668.7,388.6 668.0,385.5 667.3,385.4 666.6,387.7 665.9,386.1 665.2,386.2 664.5,392.2 663.8,386.1 663.1,389.6 662.4,385.5 661.7,387.4 661.0,385.4 660.3,385.3 659.6,385.9 658.9,387.9 658.2,386.5 657.5,387.8 656.8,385.7 656.1,387.6 655.4,385.7 654.7,386.8 654.0,385.6 653.3,385.7 652.7,385.6 652.0,386.7 651.3,389.2 650.6,385.7 649.9,390.2 649.2,390.7 648.5,385.8 647.8,386.5 647.1,390.2 646.4,386.3 645.7,387.3 645.0,386.3 644.3,386.2 643.6,389.7 642.9,392.0 642.2,385.3 641.5,386.6 640.8,386.3 640.1,386.1 639.4,386.5 638.7,385.0" fill="#2a7ab8" stroke="#2a7ab8" stroke-width="0.3"/>
<rect x="624.0" y="403.6" width="322.0" height="20.2" fill="none" stroke="#444" stroke-width="0.5"/>
<line x1="639.0" y1="403.6" x2="639.0" y2="423.8" stroke="#e2e2e2" stroke-width="0.4"/>
<text x="639.0" y="428.4" font-size="3.3" fill="#444" text-anchor="middle" font-family="Liberation Sans">0</text>
<line x1="705.8" y1="403.6" x2="705.8" y2="423.8" stroke="#e2e2e2" stroke-width="0.4"/>
<text x="705.8" y="428.4" font-size="3.3" fill="#444" text-anchor="middle" font-family="Liberation Sans">10000</text>
<line x1="772.9" y1="403.6" x2="772.9" y2="423.8" stroke="#e2e2e2" stroke-width="0.4"/>
<text x="772.9" y="428.4" font-size="3.3" fill="#444" text-anchor="middle" font-family="Liberation Sans">20000</text>
<line x1="839.5" y1="403.6" x2="839.5" y2="423.8" stroke="#e2e2e2" stroke-width="0.4"/>
<text x="839.5" y="428.4" font-size="3.3" fill="#444" text-anchor="middle" font-family="Liberation Sans">30000</text>
<line x1="906.1" y1="403.6" x2="906.1" y2="423.8" stroke="#e2e2e2" stroke-width="0.4"/>
<text x="906.1" y="428.4" font-size="3.3" fill="#444" text-anchor="middle" font-family="Liberation Sans">40000</text>
<line x1="624.0" y1="406.1" x2="946.0" y2="406.1" stroke="#e2e2e2" stroke-width="0.4"/>
<text x="622.0" y="407.2" font-size="3.3" fill="#444" text-anchor="end" font-family="Liberation Sans">0.2</text>
<line x1="624.0" y1="413.7" x2="946.0" y2="413.7" stroke="#e2e2e2" stroke-width="0.4"/>
<text x="622.0" y="414.8" font-size="3.3" fill="#444" text-anchor="end" font-family="Liberation Sans">0.0</text>
<line x1="624.0" y1="421.3" x2="946.0" y2="421.3" stroke="#e2e2e2" stroke-width="0.4"/>
<text x="622.0" y="422.4" font-size="3.3" fill="#444" text-anchor="end" font-family="Liberation Sans">-0.2</text>
<text transform="translate(613.0,413.7) rotate(-90)" font-size="3.3" fill="#444" text-anchor="middle" font-family="Liberation Sans">IMF</text>
<text x="787.0" y="402.0" font-size="3.5" fill="#444" text-anchor="middle" font-family="Liberation Sans">Power - IMF5</text>
<polygon points="638.7,411.2 639.4,411.7 640.1,411.1 640.8,410.6 641.5,409.9 642.2,408.6 642.9,410.6 643.6,411.3 644.3,411.3 645.0,411.5 645.7,411.6 646.4,411.6 647.1,411.8 647.8,410.8 648.5,410.7 649.2,411.2 649.9,410.7 650.6,410.6 651.3,409.8 652.0,410.8 652.7,407.9 653.3,411.5 654.0,411.1 654.7,411.1 655.4,411.6 656.1,411.4 656.8,411.4 657.5,411.0 658.2,409.5 658.9,411.1 659.6,411.0 660.3,410.5 661.0,409.3 661.7,411.4 662.4,407.2 663.1,411.6 663.8,409.0 664.5,410.1 665.2,410.1 665.9,410.9 666.6,410.9 667.3,411.2 668.0,411.8 668.7,408.3 669.4,410.7 670.1,411.4 670.8,408.0 671.5,410.6 672.2,409.8 672.9,410.3 673.6,409.9 674.3,410.6 675.0,410.8 675.7,411.7 676.4,410.7 677.1,411.8 677.8,412.0 678.5,412.1 679.2,410.0 679.9,411.0 680.6,407.2 681.3,411.9 682.0,408.8 682.6,411.4 683.3,410.6 684.0,409.1 684.7,409.9 685.4,411.0 686.1,411.0 686.8,408.3 687.5,411.2 688.2,411.1 688.9,408.4 689.6,411.3 690.3,411.9 691.0,410.7 691.7,411.2 692.4,410.1 693.1,409.0 693.8,411.7 694.5,410.8 695.2,410.8 695.9,410.0 696.6,412.2 697.3,410.2 698.0,408.6 698.7,408.5 699.4,410.7 700.1,410.2 700.8,411.5 701.5,409.3 702.2,410.6 702.9,410.1 703.6,411.2 704.3,409.7 705.0,410.8 705.7,410.4 706.4,407.5 707.1,408.9 707.8,410.6 708.5,410.0 709.2,410.9 709.9,410.9 710.6,410.7 711.3,410.2 711.9,409.8 712.6,411.0 713.3,411.1 714.0,411.7 714.7,411.5 715.4,411.3 716.1,409.7 716.8,411.8 717.5,411.7 718.2,411.3 718.9,410.2 719.6,410.8 720.3,411.3 721.0,411.4 721.7,409.3 722.4,411.5 723.1,411.6 723.8,411.6 724.5,406.3 725.2,408.1 725.9,411.8 726.6,409.2 727.3,410.0 728.0,409.0 728.7,410.0 729.4,410.6 730.1,411.2 730.8,411.5 731.5,408.7 732.2,411.4 732.9,411.2 733.6,410.9 734.3,411.3 735.0,411.0 735.7,410.5 736.4,411.2 737.1,411.1 737.8,411.4 738.5,409.6 739.2,409.6 739.9,411.6 740.6,412.2 741.2,411.9 741.9,412.3 742.6,411.2 743.3,407.6 744.0,409.0 744.7,407.2 745.4,410.2 746.1,410.4 746.8,411.1 747.5,410.9 748.2,409.7 748.9,410.3 749.6,411.5 750.3,410.1 751.0,405.7 751.7,407.7 752.4,411.3 753.1,411.2 753.8,410.8 754.5,411.0 755.2,408.9 755.9,410.4 756.6,411.7 757.3,410.8 758.0,408.9 758.7,407.0 759.4,411.4 760.1,410.7 760.8,408.3 761.5,410.8 762.2,409.7 762.9,409.7 763.6,410.8 764.3,411.6 765.0,409.1 765.7,411.4 766.4,408.6 767.1,411.6 767.8,411.6 768.5,408.6 769.2,411.7 769.9,411.6 770.5,411.2 771.2,411.7 771.9,409.5 772.6,411.3 773.3,411.2 774.0,408.6 774.7,405.9 775.4,410.4 776.1,411.0 776.8,410.9 777.5,411.6 778.2,411.2 778.9,411.9 779.6,409.9 780.3,409.6 781.0,408.3 781.7,407.4 782.4,409.4 783.1,409.0 783.8,409.1 784.5,409.3 785.2,411.5 785.9,410.0 786.6,410.0 787.3,411.0 788.0,410.4 788.7,410.8 789.4,410.8 790.1,407.8 790.8,411.6 791.5,410.4 792.2,411.9 792.9,410.2 793.6,411.8 794.3,409.7 795.0,409.4 795.7,409.1 796.4,406.3 797.1,410.9 797.8,409.6 798.5,410.7 799.2,411.6 799.8,409.9 800.5,410.8 801.2,412.0 801.9,411.8 802.6,411.0 803.3,410.4 804.0,408.7 804.7,410.4 805.4,410.5 806.1,411.2 806.8,408.8 807.5,412.0 808.2,409.1 808.9,410.3 809.6,411.0 810.3,411.7 811.0,409.0 811.7,410.7 812.4,411.8 813.1,411.6 813.8,411.8 814.5,411.5 815.2,411.9 815.9,411.0 816.6,411.3 817.3,411.4 818.0,410.7 818.7,410.8 819.4,411.7 820.1,411.1 820.8,411.2 821.5,411.1 822.2,411.3 822.9,411.5 823.6,411.7 824.3,410.7 825.0,410.0 825.7,411.2 826.4,409.9 827.1,411.2 827.8,410.7 828.5,410.3 829.1,410.0 829.8,411.7 830.5,411.9 831.2,411.9 831.9,411.0 832.6,411.9 833.3,411.2 834.0,409.3 834.7,412.1 835.4,411.2 836.1,412.0 836.8,411.1 837.5,409.1 838.2,410.3 838.9,411.2 839.6,409.2 840.3,410.7 841.0,410.7 841.7,409.8 842.4,410.1 843.1,407.2 843.8,410.4 844.5,409.4 845.2,411.1 845.9,411.1 846.6,410.6 847.3,411.0 848.0,411.1 848.7,410.7 849.4,410.2 850.1,411.0 850.8,410.1 851.5,411.1 852.2,411.9 852.9,406.8 853.6,411.4 854.3,408.4 855.0,411.3 855.7,407.8 856.4,411.2 857.1,410.8 857.8,409.6 858.4,410.5 859.1,408.4 859.8,409.4 860.5,410.9 861.2,410.0 861.9,410.9 862.6,409.4 863.3,411.9 864.0,411.7 864.7,411.7 865.4,410.9 866.1,410.9 866.8,411.0 867.5,407.4 868.2,406.8 868.9,411.0 869.6,410.9 870.3,410.3 871.0,411.5 871.7,411.1 872.4,412.5 873.1,412.2 873.8,411.9 874.5,411.3 875.2,412.2 875.9,412.3 876.6,412.2 877.3,412.5 878.0,411.1 878.7,410.5 879.4,411.5 880.1,410.7 880.8,409.3 881.5,409.5 882.2,404.9 882.9,410.3 883.6,408.5 884.3,411.5 885.0,411.4 885.7,411.2 886.4,411.4 887.1,410.4 887.7,410.7 888.4,411.3 889.1,410.6 889.8,411.4 890.5,410.1 891.2,411.4 891.9,410.8 892.6,410.8 893.3,411.4 894.0,411.6 894.7,409.0 895.4,410.7 896.1,409.7 896.8,410.0 897.5,411.9 898.2,410.3 898.9,410.6 899.6,410.6 900.3,410.2 901.0,410.7 901.7,410.6 902.4,411.6 903.1,412.1 903.8,412.2 904.5,407.6 905.2,409.1 905.9,410.7 906.6,409.1 907.3,410.9 908.0,411.0 908.7,411.2 909.4,408.4 910.1,407.9 910.8,411.0 911.5,411.3 912.2,410.9 912.9,408.5 913.6,410.2 914.3,411.9 915.0,412.1 915.7,407.8 916.4,410.0 917.0,410.5 917.7,410.3 918.4,409.8 919.1,410.5 919.8,410.9 920.5,405.1 921.2,411.2 921.9,410.8 922.6,409.7 923.3,408.8 924.0,406.7 924.7,410.6 925.4,411.1 926.1,410.4 926.8,411.9 927.5,410.5 928.2,410.8 928.9,410.1 929.6,412.0 930.3,411.5 931.0,412.4 931.0,416.2 930.3,417.2 929.6,415.6 928.9,416.4 928.2,415.9 927.5,416.9 926.8,415.6 926.1,416.0 925.4,415.6 924.7,415.9 924.0,416.6 923.3,416.0 922.6,419.5 921.9,416.9 921.2,416.1 920.5,416.7 919.8,416.3 919.1,418.4 918.4,417.1 917.7,416.6 917.0,419.3 916.4,415.5 915.7,417.8 915.0,415.6 914.3,415.8 913.6,415.7 912.9,419.6 912.2,419.1 911.5,416.0 910.8,418.3 910.1,416.4 909.4,416.6 908.7,418.1 908.0,418.3 907.3,416.1 906.6,417.8 905.9,415.7 905.2,415.6 904.5,415.6 903.8,416.8 903.1,415.4 902.4,415.3 901.7,418.8 901.0,419.4 900.3,415.7 899.6,416.7 898.9,416.5 898.2,417.8 897.5,415.9 896.8,416.9 896.1,415.7 895.4,418.0 894.7,418.5 894.0,420.3 893.3,417.5 892.6,416.6 891.9,417.0 891.2,417.6 890.5,416.2 889.8,418.7 889.1,418.3 888.4,416.0 887.7,416.3 887.1,416.4 886.4,416.4 885.7,416.5 885.0,417.2 884.3,416.0 883.6,416.9 882.9,418.6 882.2,419.6 881.5,422.5 880.8,416.3 880.1,415.7 879.4,417.3 878.7,415.8 878.0,415.9 877.3,415.5 876.6,416.7 875.9,416.3 875.2,415.4 874.5,416.9 873.8,415.8 873.1,415.9 872.4,414.8 871.7,415.4 871.0,415.6 870.3,415.5 869.6,416.1 868.9,416.9 868.2,416.3 867.5,417.4 866.8,416.2 866.1,416.8 865.4,415.9 864.7,415.7 864.0,417.8 863.3,417.4 862.6,418.0 861.9,418.1 861.2,416.4 860.5,418.0 859.8,416.2 859.1,416.3 858.4,416.2 857.8,417.9 857.1,416.2 856.4,416.6 855.7,419.0 855.0,418.2 854.3,416.0 853.6,417.7 852.9,416.5 852.2,418.7 851.5,415.8 850.8,420.6 850.1,416.9 849.4,417.2 848.7,416.4 848.0,416.8 847.3,418.3 846.6,416.3 845.9,416.1 845.2,416.9 844.5,418.5 843.8,416.4 843.1,416.4 842.4,416.8 841.7,422.5 841.0,416.6 840.3,418.1 839.6,416.2 838.9,418.2 838.2,415.6 837.5,415.6 836.8,415.1 836.1,416.2 835.4,415.4 834.7,415.6 834.0,418.0 833.3,415.6 832.6,415.4 831.9,415.8 831.2,416.0 830.5,415.7 829.8,415.4 829.1,416.6 828.5,416.0 827.8,419.6 827.1,418.7 826.4,417.2 825.7,417.4 825.0,416.4 824.3,417.9 823.6,416.0 822.9,415.2 822.2,417.2 821.5,415.4 820.8,415.3 820.1,416.5 819.4,419.0 818.7,416.3 818.0,417.7 817.3,415.7 816.6,416.8 815.9,416.4 815.2,415.7 814.5,416.5 813.8,416.0 813.1,415.8 812.4,415.9 811.7,415.5 811.0,416.1 810.3,416.3 809.6,419.0 808.9,416.3 808.2,415.4 807.5,415.6 806.8,416.8 806.1,416.8 805.4,419.9 804.7,415.9 804.0,415.7 803.3,417.0 802.6,417.2 801.9,415.5 801.2,416.1 800.5,415.7 799.8,415.8 799.2,416.3 798.5,417.7 797.8,417.2 797.1,416.7 796.4,418.0 795.7,416.5 795.0,416.2 794.3,420.8 793.6,415.6 792.9,415.8 792.2,415.7 791.5,415.8 790.8,415.8 790.1,416.1 789.4,417.3 788.7,416.3 788.0,422.3 787.3,418.1 786.6,415.8 785.9,417.1 785.2,415.9 784.5,415.8 783.8,417.8 783.1,416.2 782.4,416.8 781.7,416.2 781.0,420.3 780.3,416.2 779.6,416.2 778.9,415.5 778.2,416.5 777.5,416.3 776.8,416.2 776.1,416.3 775.4,416.1 774.7,417.7 774.0,416.4 773.3,416.7 772.6,417.2 771.9,416.5 771.2,416.8 770.5,416.9 769.9,415.8 769.2,418.1 768.5,415.7 767.8,416.2 767.1,416.2 766.4,416.9 765.7,417.1 765.0,415.8 764.3,416.9 763.6,421.4 762.9,416.8 762.2,416.4 761.5,417.5 760.8,420.0 760.1,418.2 759.4,416.1 758.7,416.7 758.0,419.5 757.3,416.2 756.6,415.8 755.9,418.2 755.2,417.7 754.5,419.0 753.8,421.1 753.1,419.2 752.4,417.5 751.7,416.5 751.0,416.4 750.3,416.2 749.6,415.9 748.9,415.9 748.2,422.2 747.5,422.5 746.8,420.9 746.1,416.4 745.4,416.8 744.7,416.9 744.0,416.2 743.3,416.5 742.6,415.9 741.9,415.6 741.2,415.2 740.6,416.9 739.9,417.6 739.2,419.9 738.5,416.8 737.8,417.3 737.1,416.8 736.4,416.4 735.7,416.2 735.0,418.0 734.3,417.4 733.6,416.2 732.9,418.5 732.2,418.4 731.5,416.9 730.8,421.6 730.1,415.7 729.4,419.2 728.7,415.8 728.0,416.6 727.3,416.0 726.6,419.8 725.9,419.9 725.2,416.2 724.5,418.3 723.8,416.9 723.1,416.1 722.4,416.3 721.7,416.2 721.0,417.6 720.3,416.1 719.6,416.1 718.9,416.4 718.2,420.0 717.5,415.4 716.8,415.4 716.1,417.7 715.4,415.5 714.7,415.9 714.0,422.5 713.3,416.1 712.6,421.3 711.9,418.5 711.3,417.2 710.6,416.7 709.9,418.7 709.2,421.8 708.5,416.3 707.8,416.3 707.1,416.9 706.4,416.0 705.7,418.4 705.0,416.7 704.3,418.1 703.6,416.4 702.9,419.4 702.2,418.3 701.5,416.2 700.8,416.5 700.1,416.6 699.4,416.0 698.7,415.4 698.0,415.2 697.3,415.6 696.6,415.2 695.9,415.6 695.2,416.4 694.5,416.3 693.8,416.1 693.1,417.6 692.4,417.6 691.7,420.8 691.0,416.9 690.3,417.1 689.6,415.8 688.9,416.1 688.2,417.3 687.5,415.9 686.8,422.5 686.1,417.6 685.4,422.5 684.7,417.0 684.0,420.5 683.3,416.0 682.6,422.0 682.0,415.6 681.3,415.3 680.6,416.0 679.9,416.3 679.2,415.3 678.5,415.1 677.8,415.4 677.1,419.1 676.4,416.9 675.7,415.7 675.0,421.7 674.3,415.9 673.6,418.8 672.9,416.4 672.2,416.2 671.5,415.8 670.8,416.9 670.1,419.0 669.4,417.3 668.7,416.1 668.0,417.3 667.3,416.1 666.6,416.7 665.9,415.9 665.2,416.0 664.5,416.3 663.8,415.6 663.1,416.3 662.4,416.6 661.7,418.3 661.0,418.4 660.3,416.2 659.6,417.2 658.9,419.9 658.2,416.7 657.5,416.6 656.8,416.3 656.1,417.9 655.4,417.2 654.7,420.4 654.0,417.2 653.3,416.0 652.7,420.3 652.0,420.4 651.3,422.5 650.6,418.0 649.9,418.7 649.2,417.0 648.5,416.9 647.8,416.3 647.1,415.9 646.4,417.8 645.7,415.9 645.0,417.1 644.3,420.8 643.6,421.5 642.9,417.8 642.2,416.5 641.5,417.7 640.8,416.8 640.1,415.4 639.4,415.4 638.7,415.0" fill="#2a7ab8" stroke="#2a7ab8" stroke-width="0.3"/>
</svg>
<!-- PANEL 3 -->
<div class="a" style="left:250px;top:443.8px;width:488px;height:190.3px;background:#fff"></div>
<div class="bx" style="left:825.5px;top:461.5px;width:143.5px;height:50px;background:#F7EDC0">Data chunking</div>
<div class="bx" style="left:825.5px;top:552px;width:143.5px;height:49.5px;background:#98DEE0">Data overlap<br>and connection</div>

<svg style="left:0;top:0" width="1108" height="1018">
<polygon points="307.7,538.6 307.70,538.60 308.92,532.85 310.15,529.14 311.37,525.96 312.59,523.09 313.82,520.44 315.04,517.97 316.27,515.65 317.49,513.46 318.71,511.40 319.94,509.45 321.16,507.60 322.38,505.86 323.61,504.22 324.83,502.68 326.06,501.24 327.28,499.89 328.50,498.64 329.73,497.49 330.95,496.43 332.17,495.46 333.40,494.59 334.62,493.82 335.85,493.15 337.07,492.57 338.29,492.08 339.52,491.69 340.74,491.40 341.96,491.21 343.19,491.11 344.41,491.11 345.64,491.21 346.86,491.40 348.08,491.69 349.31,492.08 350.53,492.57 351.75,493.15 352.98,493.82 354.20,494.59 355.43,495.46 356.65,496.43 357.87,497.49 359.10,498.64 360.32,499.89 361.54,501.24 362.77,502.68 363.99,504.22 365.22,505.86 366.44,507.60 367.66,509.45 368.89,511.40 370.11,513.46 371.33,515.65 372.56,517.97 373.78,520.44 375.01,523.09 376.23,525.96 377.45,529.14 378.68,532.85 379.90,538.60" fill="#5B9BD5"/>
<polygon points="452.1,538.6 452.10,538.60 453.31,532.89 454.53,529.20 455.74,526.03 456.95,523.18 458.17,520.54 459.38,518.09 460.59,515.78 461.81,513.60 463.02,511.55 464.23,509.61 465.45,507.77 466.66,506.03 467.87,504.40 469.09,502.86 470.30,501.41 471.52,500.07 472.73,498.81 473.94,497.65 475.16,496.59 476.37,495.62 477.58,494.74 478.80,493.96 480.01,493.27 481.22,492.67 482.44,492.17 483.65,491.77 484.86,491.46 486.08,491.25 487.29,491.13 488.50,491.10 489.72,491.17 490.93,491.34 492.14,491.60 493.36,491.96 494.57,492.41 495.78,492.96 497.00,493.60 498.21,494.34 499.42,495.17 500.64,496.09 501.85,497.11 503.06,498.22 504.28,499.43 505.49,500.73 506.71,502.12 507.92,503.61 509.13,505.20 510.35,506.89 511.56,508.67 512.77,510.56 513.99,512.56 515.20,514.68 516.41,516.92 517.63,519.30 518.84,521.84 520.05,524.57 521.27,527.57 522.48,530.95 523.69,535.13 524.91,542.07 526.12,546.25 527.33,549.63 528.55,552.63 529.76,555.36 530.97,557.90 532.19,560.28 533.40,562.52 534.61,564.64 535.83,566.64 537.04,568.53 538.25,570.31 539.47,572.00 540.68,573.59 541.89,575.08 543.11,576.47 544.32,577.77 545.54,578.98 546.75,580.09 547.96,581.11 549.18,582.03 550.39,582.86 551.60,583.60 552.82,584.24 554.03,584.79 555.24,585.24 556.46,585.60 557.67,585.86 558.88,586.03 560.10,586.10 561.31,586.07 562.52,585.95 563.74,585.74 564.95,585.43 566.16,585.03 567.38,584.53 568.59,583.93 569.80,583.24 571.02,582.46 572.23,581.58 573.44,580.61 574.66,579.55 575.87,578.39 577.08,577.13 578.30,575.79 579.51,574.34 580.73,572.80 581.94,571.17 583.15,569.43 584.37,567.59 585.58,565.65 586.79,563.60 588.01,561.42 589.22,559.11 590.43,556.66 591.65,554.02 592.86,551.17 594.07,548.00 595.29,544.31 596.50,538.60" fill="#5B9BD5"/>
<line x1="280.4" y1="538.6" x2="700.4" y2="538.6" stroke="#2E75B6" stroke-width="1.5"/>
<polyline points="307.70,538.60 308.91,532.91 310.11,529.23 311.32,526.08 312.53,523.23 313.74,520.61 314.94,518.16 316.15,515.86 317.36,513.69 318.57,511.64 319.77,509.70 320.98,507.87 322.19,506.13 323.40,504.50 324.60,502.96 325.81,501.52 327.02,500.17 328.23,498.92 329.43,497.76 330.64,496.69 331.85,495.71 333.05,494.83 334.26,494.04 335.47,493.34 336.68,492.74 337.88,492.23 339.09,491.82 340.30,491.50 341.51,491.27 342.71,491.14 343.92,491.10 345.13,491.16 346.34,491.31 347.54,491.55 348.75,491.89 349.96,492.33 351.16,492.85 352.37,493.47 353.58,494.19 354.79,495.00 355.99,495.90 357.20,496.89 358.41,497.98 359.62,499.16 360.82,500.43 362.03,501.80 363.24,503.26 364.45,504.82 365.65,506.47 366.86,508.22 368.07,510.08 369.28,512.04 370.48,514.11 371.69,516.31 372.90,518.64 374.10,521.12 375.31,523.78 376.52,526.68 377.73,529.92 378.93,533.75 380.14,540.39 381.35,545.09 382.56,548.63 383.76,551.71 384.97,554.51 386.18,557.09 387.39,559.51 388.59,561.78 389.80,563.93 391.01,565.96 392.22,567.88 393.42,569.69 394.63,571.40 395.84,573.02 397.04,574.53 398.25,575.96 399.46,577.29 400.67,578.52 401.87,579.67 403.08,580.72 404.29,581.67 405.50,582.54 406.70,583.31 407.91,583.98 409.12,584.57 410.33,585.06 411.53,585.45 412.74,585.76 413.95,585.96 415.15,586.08 416.36,586.10 417.57,586.02 418.78,585.85 419.98,585.59 421.19,585.23 422.40,584.78 423.61,584.23 424.81,583.59 426.02,582.86 427.23,582.03 428.44,581.11 429.64,580.10 430.85,578.99 432.06,577.79 433.27,576.50 434.47,575.11 435.68,573.63 436.89,572.06 438.09,570.39 439.30,568.61 440.51,566.74 441.72,564.75 442.92,562.66 444.13,560.44 445.34,558.08 446.55,555.56 447.75,552.86 448.96,549.90 450.17,546.58 451.38,542.54 452.58,535.66 453.79,531.35 455.00,527.93 456.21,524.91 457.41,522.16 458.62,519.61 459.83,517.22 461.03,514.98 462.24,512.86 463.45,510.85 464.66,508.95 465.86,507.16 467.07,505.47 468.28,503.87 469.49,502.37 470.69,500.97 471.90,499.66 473.11,498.44 474.32,497.32 475.52,496.29 476.73,495.35 477.94,494.50 479.14,493.75 480.35,493.09 481.56,492.53 482.77,492.05 483.97,491.68 485.18,491.39 486.39,491.21 487.60,491.11 488.80,491.11 490.01,491.21 491.22,491.39 492.43,491.68 493.63,492.05 494.84,492.53 496.05,493.09 497.26,493.75 498.46,494.50 499.67,495.35 500.88,496.29 502.08,497.32 503.29,498.44 504.50,499.66 505.71,500.97 506.91,502.37 508.12,503.87 509.33,505.47 510.54,507.16 511.74,508.95 512.95,510.85 514.16,512.86 515.37,514.98 516.57,517.22 517.78,519.61 518.99,522.16 520.19,524.91 521.40,527.93 522.61,531.35 523.82,535.66 525.02,542.54 526.23,546.58 527.44,549.90 528.65,552.86 529.85,555.56 531.06,558.08 532.27,560.44 533.48,562.66 534.68,564.75 535.89,566.74 537.10,568.61 538.31,570.39 539.51,572.06 540.72,573.63 541.93,575.11 543.13,576.50 544.34,577.79 545.55,578.99 546.76,580.10 547.96,581.11 549.17,582.03 550.38,582.86 551.59,583.59 552.79,584.23 554.00,584.78 555.21,585.23 556.42,585.59 557.62,585.85 558.83,586.02 560.04,586.10 561.25,586.08 562.45,585.96 563.66,585.76 564.87,585.45 566.07,585.06 567.28,584.57 568.49,583.98 569.70,583.31 570.90,582.54 572.11,581.67 573.32,580.72 574.53,579.67 575.73,578.52 576.94,577.29 578.15,575.96 579.36,574.53 580.56,573.02 581.77,571.40 582.98,569.69 584.18,567.88 585.39,565.96 586.60,563.93 587.81,561.78 589.01,559.51 590.22,557.09 591.43,554.51 592.64,551.71 593.84,548.63 595.05,545.09 596.26,540.39 597.47,533.75 598.67,529.92 599.88,526.68 601.09,523.78 602.30,521.12 603.50,518.64 604.71,516.31 605.92,514.11 607.12,512.04 608.33,510.08 609.54,508.22 610.75,506.47 611.95,504.82 613.16,503.26 614.37,501.80 615.58,500.43 616.78,499.16 617.99,497.98 619.20,496.89 620.41,495.90 621.61,495.00 622.82,494.19 624.03,493.47 625.24,492.85 626.44,492.33 627.65,491.89 628.86,491.55 630.06,491.31 631.27,491.16 632.48,491.10 633.69,491.14 634.89,491.27 636.10,491.50 637.31,491.82 638.52,492.23 639.72,492.74 640.93,493.34 642.14,494.04 643.35,494.83 644.55,495.71 645.76,496.69 646.97,497.76 648.17,498.92 649.38,500.17 650.59,501.52 651.80,502.96 653.00,504.50 654.21,506.13 655.42,507.87 656.63,509.70 657.83,511.64 659.04,513.69 660.25,515.86 661.46,518.16 662.66,520.61 663.87,523.23 665.08,526.08 666.29,529.23 667.49,532.91 668.70,538.60" fill="none" stroke="#2E75B6" stroke-width="1.8"/>
<rect x="426.8" y="456.2" width="108.9" height="103" fill="#EE5A5A" fill-opacity="0.33" stroke="#E86A6A" stroke-width="0.9"/>
<rect x="435.4" y="487.4" width="133.2" height="71.8" fill="#E85050" fill-opacity="0.3" stroke="#DD5A5A" stroke-width="0.9"/>
<rect x="535.7" y="487.4" width="32.9" height="71.8" fill="#EE5A5A" fill-opacity="0.3"/>
<rect x="535.7" y="456.2" width="107.1" height="131.7" fill="#70C070" fill-opacity="0.3" stroke="#78BC78" stroke-width="0.9"/>
<line x1="446.3" y1="565.7" x2="528.5" y2="565.7" stroke="#111" stroke-width="2"/><polygon points="440.3,565.7 451.3,561.5 451.3,569.9000000000001" fill="#111"/><polygon points="534.5,565.7 523.5,561.5 523.5,569.9000000000001" fill="#111"/>
<line x1="542.5" y1="587.9" x2="635.5" y2="587.9" stroke="#111" stroke-width="2"/><polygon points="536.5,587.9 547.5,583.6999999999999 547.5,592.1" fill="#111"/><polygon points="641.5,587.9 630.5,583.6999999999999 630.5,592.1" fill="#111"/>
<line x1="542.5" y1="603.0" x2="635.5" y2="603.0" stroke="#111" stroke-width="2"/><polygon points="536.5,603.0 547.5,598.8 547.5,607.2" fill="#111"/><polygon points="641.5,603.0 630.5,598.8 630.5,607.2" fill="#111"/>
<line x1="536.2" y1="596" x2="536.2" y2="620.7" stroke="#111" stroke-width="1.8"/>
<line x1="642.2" y1="596" x2="642.2" y2="620.7" stroke="#111" stroke-width="1.8"/>
<text x="321.4" y="482.4" textLength="89" font-family="Liberation Sans" fill="#111" font-size="13.8" lengthAdjust="spacingAndGlyphs">Input Signal</text>
<text x="459.3" y="482.2" textLength="56.2" font-family="Liberation Sans" fill="#111" font-size="13.8" lengthAdjust="spacingAndGlyphs">Patch 1</text>
<text x="553.6" y="482.2" textLength="57.6" font-family="Liberation Sans" fill="#111" font-size="13.8" lengthAdjust="spacingAndGlyphs">Patch 2</text>
<text x="547.5" y="579.5" textLength="58.6" font-family="Liberation Sans" fill="#111" font-size="13.8" lengthAdjust="spacingAndGlyphs">Overlap</text>
<text x="454.8" y="582" textLength="62.2" font-family="Liberation Sans" fill="#111" font-size="13.8" lengthAdjust="spacingAndGlyphs"><tspan font-weight="bold" font-style="italic">P</tspan> (Patch</text>
<text x="457.7" y="597" textLength="56.2" font-family="Liberation Sans" fill="#111" font-size="13.8" lengthAdjust="spacingAndGlyphs">Length)</text>
<text x="646" y="596.7" textLength="69.2" font-family="Liberation Sans" fill="#111" font-size="13.8" lengthAdjust="spacingAndGlyphs"><tspan font-weight="bold" font-style="italic">S</tspan> (Stride)</text>
<text x="552.6" y="625.8" textLength="61.6" font-family="Liberation Sans" fill="#111" font-size="13.8" lengthAdjust="spacingAndGlyphs"><tspan font-weight="bold" font-style="italic">S</tspan> (Stride</text>
</svg>
<!-- PANEL 4 -->
<div class="bx" style="left:310.6px;top:780.6px;width:219px;height:23.2px;background:#F8D0A8">Model Flow</div>
<div class="bx" style="left:750.3px;top:781px;width:218.6px;height:22px;background:#F7EDBE">Attention Mechanism</div>

<svg style="left:0;top:0" width="1108" height="1018">
<rect x="219.7" y="663.2" width="115.3" height="106.7" rx="3.5" fill="#C8EBB0" stroke="#333" stroke-width="1.6"/>
<line x1="248" y1="716.3" x2="339.3" y2="716.3" stroke="#444" stroke-width="1"/>
<rect x="227.1" y="671.3" width="21.1" height="90.9" rx="2.5" fill="#C4FCFC" stroke="#3a3a3a" stroke-width="1.2"/>
<text transform="translate(237.65,716.80) rotate(90)" font-size="8.4" text-anchor="middle" dominant-baseline="central" fill="#333" font-family="Liberation Sans">Multi-scale STFTs</text>
<rect x="253.3" y="671.3" width="21.6" height="90.9" rx="2.5" fill="#FCF8E8" stroke="#3a3a3a" stroke-width="1.2"/>
<text transform="translate(268.80,716.80) rotate(90)" font-size="8.4" text-anchor="middle" dominant-baseline="central" fill="#333" font-family="Liberation Sans">Stacking /</text><text transform="translate(259.40,716.80) rotate(90)" font-size="8.4" text-anchor="middle" dominant-baseline="central" fill="#333" font-family="Liberation Sans">Normalization</text>
<rect x="280.2" y="671.3" width="21.4" height="90.9" rx="2.5" fill="#C4FCFC" stroke="#3a3a3a" stroke-width="1.2"/>
<text transform="translate(295.60,716.80) rotate(90)" font-size="8.4" text-anchor="middle" dominant-baseline="central" fill="#333" font-family="Liberation Sans">Feature Dimension</text><text transform="translate(286.20,716.80) rotate(90)" font-size="8.4" text-anchor="middle" dominant-baseline="central" fill="#333" font-family="Liberation Sans">Embedding</text>
<rect x="306.9" y="671.3" width="21.5" height="90.9" rx="2.5" fill="#FCF8E8" stroke="#3a3a3a" stroke-width="1.2"/>
<text transform="translate(322.35,716.80) rotate(90)" font-size="8.4" text-anchor="middle" dominant-baseline="central" fill="#333" font-family="Liberation Sans">2-Tap Feature</text><text transform="translate(312.95,716.80) rotate(90)" font-size="8.4" text-anchor="middle" dominant-baseline="central" fill="#333" font-family="Liberation Sans">Deinterleaving</text>
<rect x="339.3" y="663.4" width="214.0" height="106.7" rx="3.5" fill="#F2F2FC" stroke="#333" stroke-width="1.6"/>
<line x1="339.3" y1="716.6" x2="558.3" y2="716.6" stroke="#444" stroke-width="1"/>
<polyline points="347.5,703.7 347.5,671.2 519,671.2 519,705" fill="none" stroke="#444" stroke-width="1.3" stroke-dasharray="4,2.6"/>
<polygon points="519,712 516,704 522,704" fill="#2a2a2a"/>
<path d="M362,688 C352,692 348,704 348,716.6 C348,729 352,741 362,745" fill="none" stroke="#333" stroke-width="1.1"/>
<polygon points="362.5,688 355.5,686.5 357.5,692" fill="#2a2a2a"/>
<polygon points="362.5,716.6 356.2,713.6 356.2,719.6" fill="#2a2a2a"/>
<polygon points="362.5,745 355.5,746.5 357.5,741" fill="#2a2a2a"/>
<text transform="translate(355.5,702) rotate(90)" font-size="7.5" text-anchor="middle" dominant-baseline="central" fill="#222" font-family="Liberation Sans" font-weight="bold">Q</text>
<text transform="translate(355.5,724.5) rotate(90)" font-size="7.5" text-anchor="middle" dominant-baseline="central" fill="#222" font-family="Liberation Sans" font-weight="bold">K</text>
<text transform="translate(356.5,751) rotate(90)" font-size="7.5" text-anchor="middle" dominant-baseline="central" fill="#222" font-family="Liberation Sans" font-weight="bold">V</text>
<polygon points="415.5,716.6 408.5,713.3 408.5,719.9" fill="#2a2a2a"/>
<polygon points="530.2,716.6 523.2,713.3 523.2,719.9" fill="#2a2a2a"/>
<rect x="362.8" y="680.7" width="18.9" height="71.5" rx="2.5" fill="#F08C88" stroke="#3a3a3a" stroke-width="1.2"/>
<text transform="translate(372.25,716.80) rotate(90)" font-size="8.4" text-anchor="middle" dominant-baseline="central" fill="#333" font-family="Liberation Sans">TimeAttention</text>
<rect x="385.4" y="683.7" width="13.5" height="65.8" rx="2.5" fill="#FCDCEC" stroke="#3a3a3a" stroke-width="1.2"/>
<text transform="translate(392.15,716.80) rotate(90)" font-size="8.4" text-anchor="middle" dominant-baseline="central" fill="#333" font-family="Liberation Sans">LayerNorm</text>
<rect x="415.5" y="680.7" width="19.9" height="71.5" rx="2.5" fill="#BCCCF4" stroke="#3a3a3a" stroke-width="1.2"/>
<text transform="translate(425.45,716.80) rotate(90)" font-size="8.4" text-anchor="middle" dominant-baseline="central" fill="#333" font-family="Liberation Sans">FreqAttention</text>
<rect x="439.5" y="683.7" width="14.0" height="65.8" rx="2.5" fill="#FCDCEC" stroke="#3a3a3a" stroke-width="1.2"/>
<text transform="translate(446.50,716.80) rotate(90)" font-size="8.4" text-anchor="middle" dominant-baseline="central" fill="#333" font-family="Liberation Sans">LayerNorm</text>
<rect x="457.5" y="683.7" width="13.5" height="65.8" rx="2.5" fill="#C8ECB4" stroke="#3a3a3a" stroke-width="1.2"/>
<text transform="translate(464.25,716.80) rotate(90)" font-size="8.4" text-anchor="middle" dominant-baseline="central" fill="#333" font-family="Liberation Sans">Scale</text>
<rect x="475.7" y="680.7" width="19.7" height="71.5" rx="2.5" fill="#E8D572" stroke="#3a3a3a" stroke-width="1.2"/>
<text transform="translate(490.25,716.80) rotate(90)" font-size="8.4" text-anchor="middle" dominant-baseline="central" fill="#333" font-family="Liberation Sans">Gated Linear</text><text transform="translate(480.85,716.80) rotate(90)" font-size="8.4" text-anchor="middle" dominant-baseline="central" fill="#333" font-family="Liberation Sans">Unit (GLU)</text>
<rect x="499.5" y="683.7" width="13.8" height="65.8" rx="2.5" fill="#F8F0C0" stroke="#3a3a3a" stroke-width="1.2"/>
<text transform="translate(506.40,716.80) rotate(90)" font-size="8.4" text-anchor="middle" dominant-baseline="central" fill="#333" font-family="Liberation Sans">Softmax</text>
<rect x="530.2" y="675.6" width="19.4" height="82.3" rx="2.5" fill="#BCCCF4" stroke="#3a3a3a" stroke-width="1.2"/>
<text transform="translate(544.60,716.80) rotate(90)" font-size="8.4" text-anchor="middle" dominant-baseline="central" fill="#333" font-family="Liberation Sans">Multi-Layer</text><text transform="translate(535.20,716.80) rotate(90)" font-size="8.4" text-anchor="middle" dominant-baseline="central" fill="#333" font-family="Liberation Sans">Perceptron (MLP)</text>
<rect x="558.3" y="663.4" width="59.3" height="106.6" rx="3.5" fill="#DAF4F4" stroke="#333" stroke-width="1.6"/>
<rect x="562.7" y="675.6" width="19.7" height="82.3" rx="2.5" fill="#FCEADC" stroke="#3a3a3a" stroke-width="1.2"/>
<text transform="translate(577.25,716.80) rotate(90)" font-size="8.4" text-anchor="middle" dominant-baseline="central" fill="#333" font-family="Liberation Sans">Output Feature</text><text transform="translate(567.85,716.80) rotate(90)" font-size="8.4" text-anchor="middle" dominant-baseline="central" fill="#333" font-family="Liberation Sans">Head</text>
<rect x="591.4" y="675.6" width="19.6" height="82.3" rx="2.5" fill="#FCEADC" stroke="#3a3a3a" stroke-width="1.2"/>
<text transform="translate(605.90,716.80) rotate(90)" font-size="8.4" text-anchor="middle" dominant-baseline="central" fill="#333" font-family="Liberation Sans">Deinterleaved</text><text transform="translate(596.50,716.80) rotate(90)" font-size="8.4" text-anchor="middle" dominant-baseline="central" fill="#333" font-family="Liberation Sans">Feature Weave</text>
<line x1="617.6" y1="716.6" x2="626" y2="716.6" stroke="#333" stroke-width="1.2"/>
<polygon points="633,716.6 626.0,713.3 626.0,719.9" fill="#2a2a2a"/>
<text transform="translate(656.00,719.50) rotate(90)" font-size="7" text-anchor="middle" dominant-baseline="central" fill="#333" font-family="Liberation Sans">Operation</text><text transform="translate(648.00,719.50) rotate(90)" font-size="7" text-anchor="middle" dominant-baseline="central" fill="#333" font-family="Liberation Sans">Block</text>
<rect x="663.5" y="659.2" width="67.8" height="119.2" rx="2" fill="#F2F2FC" stroke="#555" stroke-width="1.0"/>
<polyline points="688,690 697.7,690 697.7,748 688,748" fill="none" stroke="#555" stroke-width="0.9"/>
<line x1="697.7" y1="719.5" x2="702" y2="719.5" stroke="#555" stroke-width="0.9"/>
<polygon points="706.4,719.5 700.8,716.9 700.8,722.1" fill="#2a2a2a"/>
<rect x="669.6" y="664" width="18.4" height="52.6" rx="2" fill="#F4B8DC" stroke="#555" stroke-width="1.0"/>
<text transform="translate(682.30,690.30) rotate(90)" font-size="6.2" text-anchor="middle" dominant-baseline="central" fill="#333" font-family="Liberation Sans">Temporal</text><text transform="translate(675.30,690.30) rotate(90)" font-size="6.2" text-anchor="middle" dominant-baseline="central" fill="#333" font-family="Liberation Sans">Mask (T)</text>
<rect x="669.6" y="721.4" width="18.4" height="52.6" rx="2" fill="#F4B8DC" stroke="#555" stroke-width="1.0"/>
<text transform="translate(682.30,747.70) rotate(90)" font-size="6.2" text-anchor="middle" dominant-baseline="central" fill="#333" font-family="Liberation Sans">Variable</text><text transform="translate(675.30,747.70) rotate(90)" font-size="6.2" text-anchor="middle" dominant-baseline="central" fill="#333" font-family="Liberation Sans">Mask (C)</text>
<rect x="706.4" y="689.6" width="18.4" height="60.6" rx="2" fill="#F08C88" stroke="#555" stroke-width="1.0"/>
<text transform="translate(719.10,719.90) rotate(90)" font-size="6.2" text-anchor="middle" dominant-baseline="central" fill="#333" font-family="Liberation Sans">Kronecker</text><text transform="translate(712.10,719.90) rotate(90)" font-size="6.2" text-anchor="middle" dominant-baseline="central" fill="#333" font-family="Liberation Sans">Product (&#8855;)</text>
<text transform="translate(754.25,719.00) rotate(90)" font-size="6.5" text-anchor="middle" dominant-baseline="central" fill="#333" font-family="Liberation Sans">Details of</text><text transform="translate(746.75,719.00) rotate(90)" font-size="6.5" text-anchor="middle" dominant-baseline="central" fill="#333" font-family="Liberation Sans">TimeAttention</text>
<polyline points="724.8,719 737.8,719 737.8,770.4 971,770.4 971,753" fill="none" stroke="#555" stroke-width="0.9" stroke-dasharray="3,1.5,1,1.5"/>
<rect x="761.2" y="680.4" width="283.8" height="82.0" rx="2.5" fill="#F2F2FC" stroke="#444" stroke-width="1.2"/>
<line x1="761.2" y1="718.9" x2="1030" y2="718.9" stroke="#7a7a7a" stroke-width="1.2"/>
<line x1="1040.2" y1="718.9" x2="1052" y2="718.9" stroke="#555" stroke-width="1"/>
<polygon points="1058.5,718.9 1052.2,715.9 1052.2,721.9" fill="#2a2a2a"/>
<polyline points="864.3,719 864.3,756.2 1035.2,756.2 1035.2,727" fill="none" stroke="#555" stroke-width="0.9" stroke-dasharray="2.6,1.8"/>
<polygon points="1035.2,723.5 1032.4,730 1038,730" fill="#2a2a2a"/>
<polygon points="971,749 968.2,755.5 973.8,755.5" fill="#2a2a2a"/>
<rect x="767.5" y="692.7" width="18.3" height="52.8" rx="2.2" fill="#F4B888" stroke="#444" stroke-width="1.1"/>
<text transform="translate(776.65,719.20) rotate(90)" font-size="6.8" text-anchor="middle" dominant-baseline="central" fill="#333" font-family="Liberation Sans">Lookback</text>
<rect x="839.4" y="692.7" width="18.1" height="52.8" rx="2.2" fill="#F4B888" stroke="#444" stroke-width="1.1"/>
<text transform="translate(848.45,719.20) rotate(90)" font-size="6.8" text-anchor="middle" dominant-baseline="central" fill="#333" font-family="Liberation Sans">Patch Tokens</text>
<rect x="872" y="689" width="26.6" height="60.1" rx="2.2" fill="#BCCCF4" stroke="#444" stroke-width="1.1"/>
<text transform="translate(892.23,719.20) rotate(90)" font-size="6.3" text-anchor="middle" dominant-baseline="central" fill="#333" font-family="Liberation Sans">Rotary Position</text><text transform="translate(885.30,719.20) rotate(90)" font-size="6.3" text-anchor="middle" dominant-baseline="central" fill="#333" font-family="Liberation Sans">Embedding</text><text transform="translate(878.37,719.20) rotate(90)" font-size="6.3" text-anchor="middle" dominant-baseline="central" fill="#333" font-family="Liberation Sans">(RoPE)</text>
<rect x="906.3" y="689" width="18.3" height="60.1" rx="2.2" fill="#BCCCF4" stroke="#444" stroke-width="1.1"/>
<text transform="translate(918.92,719.20) rotate(90)" font-size="6.3" text-anchor="middle" dominant-baseline="central" fill="#333" font-family="Liberation Sans">Linear Projection</text><text transform="translate(911.99,719.20) rotate(90)" font-size="6.3" text-anchor="middle" dominant-baseline="central" fill="#333" font-family="Liberation Sans">(Q, K, V)</text>
<rect x="930.6" y="689" width="25.9" height="60.1" rx="2.2" fill="#BCCCF4" stroke="#444" stroke-width="1.1"/>
<text transform="translate(950.48,719.20) rotate(90)" font-size="6.3" text-anchor="middle" dominant-baseline="central" fill="#333" font-family="Liberation Sans">Attention Score</text><text transform="translate(943.55,719.20) rotate(90)" font-size="6.3" text-anchor="middle" dominant-baseline="central" fill="#333" font-family="Liberation Sans">Calculation</text><text transform="translate(936.62,719.20) rotate(90)" font-size="6.3" text-anchor="middle" dominant-baseline="central" fill="#333" font-family="Liberation Sans">(A = QK&#7488;)</text>
<rect x="962.2" y="689" width="18.2" height="60.1" rx="2.2" fill="#F08C88" stroke="#444" stroke-width="1.1"/>
<text transform="translate(974.76,719.20) rotate(90)" font-size="6.3" text-anchor="middle" dominant-baseline="central" fill="#333" font-family="Liberation Sans">Apply Composite</text><text transform="translate(967.83,719.20) rotate(90)" font-size="6.3" text-anchor="middle" dominant-baseline="central" fill="#333" font-family="Liberation Sans">Mask (M)</text>
<rect x="985.9" y="695" width="12.6" height="48.6" rx="2.2" fill="#F8F0C0" stroke="#444" stroke-width="1.1"/>
<text transform="translate(992.20,719.20) rotate(90)" font-size="6.3" text-anchor="middle" dominant-baseline="central" fill="#333" font-family="Liberation Sans">Softmax</text>
<rect x="1003.6" y="689" width="18.4" height="60.1" rx="2.2" fill="#BCCCF4" stroke="#444" stroke-width="1.1"/>
<text transform="translate(1016.26,719.20) rotate(90)" font-size="6.3" text-anchor="middle" dominant-baseline="central" fill="#333" font-family="Liberation Sans">Weighted Sum</text><text transform="translate(1009.33,719.20) rotate(90)" font-size="6.3" text-anchor="middle" dominant-baseline="central" fill="#333" font-family="Liberation Sans">with V</text>
<rect x="792.5" y="692.7" width="40.0" height="52.8" rx="2.2" fill="#FFFFFF" stroke="#444" stroke-width="1.1"/>
<line x1="812.6" y1="693.5" x2="812.6" y2="745" stroke="#e4e4e4" stroke-width="0.5"/>
<line x1="793" y1="727.5" x2="832" y2="727.5" stroke="#e4e4e4" stroke-width="0.5"/>
<polyline points="794,694 800,696 806,698 812,700 818,702 822,704 824,707 825.5,709 828,712 830,714 826,716 820,718 814,719.5 813,721 816,722.5 820,724.5 825,727 829.5,729 826,731 820,734 816,736 812,738 808,741 804,743.5 802,745" fill="none" stroke="#6aa3cf" stroke-width="0.8"/>
<circle cx="1035.2" cy="718.9" r="5" fill="#fff" stroke="#333" stroke-width="1.1"/>
<line x1="1030.2" y1="718.9" x2="1040.2" y2="718.9" stroke="#333" stroke-width="1"/><line x1="1035.2" y1="713.9" x2="1035.2" y2="723.9" stroke="#333" stroke-width="1"/>
</svg>
<!-- PANEL 5 -->
<div class="bx" style="left:217.3px;top:816px;width:64.2px;height:165.4px;background:#E8D4E0;border:2px solid #111;line-height:22.8px;padding-top:6px">Actual<br>predicti<br>on<br>results</div>
<div class="a" style="left:287.4px;top:816px;width:354px;height:166.2px;background:#fff"></div>
<div class="bx" style="left:644.2px;top:816.3px;width:71px;height:165.5px;background:#E8D4E0;border:2px solid #111;line-height:22.9px;padding-top:5.5px">Radar<br>chart<br>analysis</div>
<div class="a" style="left:726.3px;top:816px;width:165px;height:166px;background:#fff"></div>
<div class="a" style="left:903.1px;top:816px;width:166px;height:166px;background:#fff"></div>

<svg style="left:0;top:0" width="1108" height="1018">
<text x="421" y="824.3" font-size="7.6" textLength="105" lengthAdjust="spacingAndGlyphs" fill="#222" font-family="Liberation Sans">Ground Truth vs. Prediction</text>
<line x1="324.6" y1="826.9" x2="324.6" y2="964.7" stroke="#d8d8d8" stroke-width="0.5" stroke-dasharray="1.2,1.2"/>
<text x="324.6" y="971.2" font-size="4.8" text-anchor="middle" fill="#333" font-family="Liberation Sans">0</text>
<line x1="370.2" y1="826.9" x2="370.2" y2="964.7" stroke="#d8d8d8" stroke-width="0.5" stroke-dasharray="1.2,1.2"/>
<text x="370.2" y="971.2" font-size="4.8" text-anchor="middle" fill="#333" font-family="Liberation Sans">100</text>
<line x1="415.7" y1="826.9" x2="415.7" y2="964.7" stroke="#d8d8d8" stroke-width="0.5" stroke-dasharray="1.2,1.2"/>
<text x="415.7" y="971.2" font-size="4.8" text-anchor="middle" fill="#333" font-family="Liberation Sans">200</text>
<line x1="461.2" y1="826.9" x2="461.2" y2="964.7" stroke="#d8d8d8" stroke-width="0.5" stroke-dasharray="1.2,1.2"/>
<text x="461.2" y="971.2" font-size="4.8" text-anchor="middle" fill="#333" font-family="Liberation Sans">300</text>
<line x1="506.8" y1="826.9" x2="506.8" y2="964.7" stroke="#d8d8d8" stroke-width="0.5" stroke-dasharray="1.2,1.2"/>
<text x="506.8" y="971.2" font-size="4.8" text-anchor="middle" fill="#333" font-family="Liberation Sans">400</text>
<line x1="552.4" y1="826.9" x2="552.4" y2="964.7" stroke="#d8d8d8" stroke-width="0.5" stroke-dasharray="1.2,1.2"/>
<text x="552.4" y="971.2" font-size="4.8" text-anchor="middle" fill="#333" font-family="Liberation Sans">500</text>
<line x1="597.9" y1="826.9" x2="597.9" y2="964.7" stroke="#d8d8d8" stroke-width="0.5" stroke-dasharray="1.2,1.2"/>
<text x="597.9" y="971.2" font-size="4.8" text-anchor="middle" fill="#333" font-family="Liberation Sans">600</text>
<line x1="309.3" y1="964.0" x2="637.7" y2="964.0" stroke="#d8d8d8" stroke-width="0.5" stroke-dasharray="1.2,1.2"/>
<text x="306.3" y="965.7" font-size="4.8" text-anchor="end" fill="#333" font-family="Liberation Sans">-4</text>
<line x1="309.3" y1="947.6" x2="637.7" y2="947.6" stroke="#d8d8d8" stroke-width="0.5" stroke-dasharray="1.2,1.2"/>
<text x="306.3" y="949.3" font-size="4.8" text-anchor="end" fill="#333" font-family="Liberation Sans">-2</text>
<line x1="309.3" y1="931.2" x2="637.7" y2="931.2" stroke="#d8d8d8" stroke-width="0.5" stroke-dasharray="1.2,1.2"/>
<text x="306.3" y="932.9" font-size="4.8" text-anchor="end" fill="#333" font-family="Liberation Sans">0</text>
<line x1="309.3" y1="914.8" x2="637.7" y2="914.8" stroke="#d8d8d8" stroke-width="0.5" stroke-dasharray="1.2,1.2"/>
<text x="306.3" y="916.5" font-size="4.8" text-anchor="end" fill="#333" font-family="Liberation Sans">2</text>
<line x1="309.3" y1="898.4" x2="637.7" y2="898.4" stroke="#d8d8d8" stroke-width="0.5" stroke-dasharray="1.2,1.2"/>
<text x="306.3" y="900.1" font-size="4.8" text-anchor="end" fill="#333" font-family="Liberation Sans">4</text>
<line x1="309.3" y1="882.1" x2="637.7" y2="882.1" stroke="#d8d8d8" stroke-width="0.5" stroke-dasharray="1.2,1.2"/>
<text x="306.3" y="883.8" font-size="4.8" text-anchor="end" fill="#333" font-family="Liberation Sans">6</text>
<line x1="309.3" y1="865.7" x2="637.7" y2="865.7" stroke="#d8d8d8" stroke-width="0.5" stroke-dasharray="1.2,1.2"/>
<text x="306.3" y="867.4" font-size="4.8" text-anchor="end" fill="#333" font-family="Liberation Sans">8</text>
<line x1="309.3" y1="849.3" x2="637.7" y2="849.3" stroke="#d8d8d8" stroke-width="0.5" stroke-dasharray="1.2,1.2"/>
<text x="306.3" y="851.0" font-size="4.8" text-anchor="end" fill="#333" font-family="Liberation Sans">10</text>
<line x1="309.3" y1="832.9" x2="637.7" y2="832.9" stroke="#d8d8d8" stroke-width="0.5" stroke-dasharray="1.2,1.2"/>
<text x="306.3" y="834.6" font-size="4.8" text-anchor="end" fill="#333" font-family="Liberation Sans">12</text>
<text x="473.5" y="977.5" font-size="6.2" text-anchor="middle" fill="#222" font-family="Liberation Sans">Time Step</text>
<text transform="translate(295,895) rotate(-90)" font-size="5.5" text-anchor="middle" fill="#222" font-family="Liberation Sans">Value</text>
<polyline points="324.6,931.2 325.1,898.8 325.5,928.0 326.0,925.8 326.4,864.4 326.9,917.0 327.3,932.6 327.8,898.8 328.2,928.2 328.7,927.4 329.2,928.4 329.6,928.7 330.1,927.8 330.5,922.7 331.0,844.4 331.4,916.9 331.9,928.1 332.3,927.6 332.8,930.9 333.3,930.2 333.7,925.6 334.2,902.9 334.6,929.3 335.1,921.2 335.5,865.8 336.0,915.3 336.4,930.1 336.9,894.8 337.4,932.0 337.8,926.0 338.3,929.8 338.7,932.0 339.2,929.2 339.6,918.2 340.1,845.7 340.5,914.4 341.0,927.9 341.5,921.3 341.9,931.4 342.4,928.1 342.8,929.4 343.3,928.3 343.7,932.5 344.2,920.5 344.6,863.9 345.1,919.1 345.6,925.4 346.0,895.1 346.5,928.4 346.9,922.8 347.4,930.3 347.8,930.6 348.3,928.8 348.7,919.4 349.2,854.1 349.7,917.0 350.1,930.3 350.6,928.3 351.0,923.3 351.5,926.1 351.9,934.4 352.4,929.0 352.8,930.5 353.3,922.0 353.8,864.4 354.2,912.2 354.7,926.8 355.1,895.1 355.6,928.4 356.0,928.8 356.5,928.0 356.9,926.1 357.4,927.6 357.9,921.7 358.3,857.3 358.8,918.5 359.2,928.9 359.7,897.6 360.1,929.9 360.6,930.0 361.0,934.5 361.5,926.7 362.0,927.6 362.4,923.0 362.9,860.3 363.3,919.5 363.8,928.0 364.2,899.9 364.7,929.2 365.1,927.7 365.6,925.4 366.1,896.4 366.5,925.8 367.0,917.8 367.4,849.7 367.9,908.2 368.3,928.7 368.8,895.5 369.2,929.0 369.7,928.3 370.2,931.8 370.6,927.8 371.1,929.7 371.5,920.1 372.0,859.8 372.4,913.3 372.9,928.1 373.3,897.4 373.8,927.2 374.2,927.7 374.7,929.9 375.2,917.3 375.6,925.2 376.1,916.6 376.5,830.9 377.0,911.7 377.4,929.9 377.9,898.4 378.3,928.5 378.8,928.2 379.3,927.5 379.7,918.0 380.2,930.0 380.6,918.7 381.1,858.3 381.5,920.5 382.0,927.8 382.4,892.7 382.9,927.9 383.4,929.8 383.8,928.0 384.3,911.7 384.7,928.0 385.2,916.2 385.6,837.9 386.1,906.6 386.5,927.6 387.0,891.5 387.5,930.4 387.9,928.8 388.4,929.2 388.8,927.2 389.3,928.8 389.7,925.0 390.2,860.2 390.6,915.8 391.1,926.1 391.6,927.5 392.0,929.0 392.5,929.6 392.9,929.3 393.4,926.8 393.8,928.5 394.3,919.9 394.7,851.8 395.2,919.7 395.7,928.4 396.1,898.0 396.6,931.3 397.0,928.5 397.5,928.9 397.9,932.1 398.4,927.2 398.8,913.7 399.3,866.3 399.8,913.6 400.2,930.2 400.7,896.1 401.1,929.1 401.6,931.7 402.0,926.1 402.5,927.7 402.9,930.3 403.4,923.8 403.9,859.0 404.3,919.9 404.8,926.8 405.2,899.1 405.7,929.6 406.1,928.4 406.6,926.6 407.0,926.0 407.5,929.7 408.0,921.3 408.4,865.6 408.9,916.6 409.3,929.4 409.8,889.7 410.2,925.3 410.7,928.2 411.1,929.1 411.6,927.6 412.1,932.6 412.5,917.2 413.0,858.8 413.4,913.5 413.9,927.3 414.3,896.2 414.8,929.1 415.2,933.9 415.7,927.3 416.2,907.2 416.6,930.2 417.1,918.9 417.5,869.9 418.0,916.8 418.4,926.8 418.9,926.0 419.3,928.3 419.8,928.9 420.3,927.1 420.7,931.9 421.2,928.6 421.6,919.5 422.1,850.2 422.5,904.0 423.0,929.6 423.4,899.9 423.9,929.0 424.4,930.7 424.8,928.1 425.3,931.1 425.7,926.6 426.2,925.9 426.6,872.3 427.1,915.5 427.5,929.4 428.0,893.9 428.5,928.3 428.9,929.6 429.4,931.3 429.8,905.0 430.3,927.2 430.7,922.5 431.2,841.4 431.6,911.9 432.1,930.8 432.6,899.0 433.0,928.0 433.5,928.1 433.9,930.3 434.4,909.8 434.8,927.1 435.3,921.5 435.7,875.0 436.2,920.5 436.7,929.0 437.1,893.8 437.6,928.8 438.0,927.1 438.5,931.3 438.9,925.8 439.4,930.3 439.8,922.0 440.3,866.9 440.8,910.3 441.2,926.1 441.7,894.7 442.1,927.0 442.6,931.9 443.0,930.3 443.5,904.2 443.9,930.7 444.4,918.8 444.9,881.7 445.3,916.4 445.8,927.7 446.2,930.7 446.7,930.6 447.1,930.5 447.6,927.7 448.0,928.0 448.5,927.6 449.0,920.0 449.4,884.0 449.9,923.1 450.3,928.4 450.8,900.0 451.2,929.8 451.7,926.7 452.1,926.5 452.6,926.5 453.1,928.7 453.5,922.8 454.0,881.5 454.4,918.3 454.9,928.1 455.3,926.0 455.8,929.5 456.2,930.0 456.7,928.8 457.2,927.5 457.6,927.8 458.1,922.6 458.5,888.3 459.0,925.7 459.4,930.5 459.9,894.1 460.3,930.6 460.8,931.5 461.2,931.2 461.7,930.6 462.2,929.1 462.6,926.4 463.1,884.0 463.5,915.7 464.0,929.0 464.4,893.0 464.9,928.2 465.3,931.0 465.8,929.3 466.3,930.8 466.7,927.2 467.2,926.3 467.6,881.0 468.1,916.9 468.5,932.9 469.0,889.5 469.4,925.6 469.9,930.4 470.4,926.7 470.8,932.4 471.3,928.2 471.7,926.4 472.2,881.9 472.6,922.0 473.1,934.1 473.5,894.7 474.0,924.1 474.5,930.0 474.9,927.0 475.4,903.1 475.8,929.4 476.3,922.9 476.7,868.9 477.2,921.6 477.6,927.6 478.1,896.7 478.6,931.7 479.0,925.4 479.5,924.8 479.9,930.7 480.4,925.2 480.8,920.9 481.3,876.7 481.7,914.0 482.2,928.3 482.7,928.1 483.1,925.6 483.6,926.1 484.0,926.9 484.5,931.6 484.9,932.0 485.4,919.0 485.8,856.9 486.3,912.0 486.8,930.9 487.2,891.9 487.7,931.4 488.1,925.4 488.6,930.8 489.0,929.0 489.5,929.1 489.9,921.9 490.4,880.9 490.9,915.6 491.3,929.2 491.8,890.4 492.2,927.8 492.7,929.7 493.1,928.3 493.6,929.5 494.0,927.8 494.5,918.7 495.0,860.5 495.4,915.5 495.9,928.0 496.3,892.5 496.8,929.7 497.2,928.1 497.7,925.7 498.1,933.0 498.6,932.3 499.1,922.9 499.5,874.1 500.0,911.0 500.4,927.9 500.9,926.3 501.3,929.2 501.8,933.8 502.2,933.5 502.7,926.7 503.2,928.4 503.6,922.7 504.1,870.8 504.5,924.2 505.0,926.4 505.4,925.8 505.9,930.3 506.3,931.0 506.8,927.0 507.3,931.0 507.7,927.0 508.2,926.7 508.6,871.4 509.1,916.3 509.5,929.6 510.0,895.9 510.4,928.3 510.9,932.6 511.4,929.3 511.8,929.6 512.3,927.4 512.7,926.4 513.2,867.1 513.6,916.7 514.1,931.1 514.5,890.5 515.0,925.3 515.5,929.1 515.9,930.6 516.4,916.2 516.8,930.2 517.3,924.8 517.7,871.5 518.2,917.0 518.6,928.4 519.1,928.0 519.6,928.9 520.0,927.0 520.5,926.9 520.9,901.0 521.4,928.5 521.8,917.4 522.3,846.8 522.7,913.4 523.2,924.5 523.7,928.7 524.1,931.0 524.6,927.4 525.0,930.6 525.5,929.8 525.9,928.1 526.4,922.1 526.8,874.6 527.3,922.1 527.8,930.0 528.2,893.5 528.7,930.2 529.1,929.9 529.6,924.6 530.0,929.9 530.5,925.7 530.9,913.9 531.4,830.8 531.9,915.3 532.3,927.8 532.8,889.1 533.2,926.8 533.7,928.6 534.1,926.3 534.6,925.9 535.0,930.9 535.5,920.0 536.0,877.6 536.4,920.5 536.9,929.4 537.3,924.9 537.8,926.7 538.2,932.4 538.7,928.6 539.1,915.9 539.6,929.1 540.1,922.8 540.5,844.1 541.0,914.2 541.4,930.7 541.9,894.2 542.3,930.0 542.8,930.2 543.2,927.2 543.7,928.0 544.2,930.1 544.6,926.3 545.1,883.0 545.5,918.3 546.0,928.5 546.4,928.3 546.9,929.4 547.3,929.3 547.8,928.3 548.3,932.5 548.7,925.4 549.2,925.9 549.6,870.9 550.1,918.5 550.5,928.3 551.0,890.4 551.4,929.9 551.9,931.9 552.4,928.4 552.8,926.3 553.3,930.6 553.7,921.5 554.2,889.3 554.6,919.3 555.1,927.7 555.5,928.7 556.0,927.3 556.4,930.3 556.9,930.9 557.4,909.4 557.8,931.2 558.3,925.3 558.7,892.4 559.2,921.1 559.6,930.1 560.1,897.0 560.5,923.7 561.0,930.5 561.5,931.3 561.9,926.2 562.4,926.4 562.8,925.0 563.3,890.8 563.7,919.9 564.2,926.4 564.6,897.3 565.1,930.4 565.6,928.8 566.0,926.3 566.5,931.6 566.9,929.5 567.4,926.2 567.8,889.9 568.3,915.6 568.7,926.8 569.2,892.4 569.7,927.4 570.1,933.0 570.6,928.2 571.0,931.5 571.5,931.5 571.9,926.9 572.4,892.6 572.8,921.4 573.3,927.3 573.8,928.2 574.2,930.7 574.7,927.4 575.1,929.0 575.6,926.3 576.0,930.6 576.5,929.2 576.9,892.0 577.4,916.8 577.9,927.8 578.3,929.1 578.8,926.9 579.2,927.7 579.7,930.7 580.1,931.7 580.6,931.1 581.0,931.0 581.5,931.9 582.0,932.4 582.4,931.1 582.9,930.2 583.3,930.5 583.8,930.7 584.2,930.7 584.7,928.4 585.1,930.9 585.6,930.1 586.1,929.1 586.5,931.1 587.0,930.9 587.4,930.1 587.9,929.4 588.3,930.9 588.8,930.8 589.2,931.1 589.7,932.5 590.2,930.0 590.6,931.5 591.1,933.0 591.5,931.4 592.0,933.0 592.4,932.3 592.9,931.2 593.3,932.2 593.8,930.1 594.3,932.8 594.7,930.9 595.2,930.6 595.6,929.6 596.1,930.2 596.5,930.9 597.0,931.1 597.4,931.3 597.9,930.0 598.4,931.9 598.8,930.6 599.3,931.3 599.7,930.9 600.2,931.5 600.6,928.9 601.1,931.9 601.5,930.9 602.0,930.9 602.5,930.5 602.9,930.7 603.4,930.7 603.8,930.1 604.3,932.8 604.7,931.2 605.2,932.5 605.6,930.9 606.1,932.4 606.6,932.2 607.0,931.3 607.5,929.7 607.9,930.6 608.4,930.9 608.8,929.7 609.3,932.2 609.7,933.4 610.2,931.6 610.7,931.5 611.1,929.9 611.6,928.9 612.0,932.6 612.5,928.5 612.9,929.5 613.4,930.3 613.8,930.8 614.3,928.6 614.8,931.1 615.2,931.7 615.7,931.0 616.1,932.6 616.6,930.7 617.0,931.3 617.5,930.8 617.9,930.8 618.4,932.3 618.9,929.8 619.3,932.3 619.8,930.2 620.2,932.9 620.7,930.8 621.1,932.1 621.6,931.1 622.0,931.9 622.5,933.5 623.0,932.4" fill="none" stroke="#6CB4EE" stroke-width="1.1"/>
<polyline points="324.6,931.0 325.1,897.2 325.5,931.6 326.0,931.0 326.4,866.6 326.9,917.5 327.3,934.2 327.8,900.7 328.2,926.1 328.7,925.0 329.2,933.2 329.6,930.9 330.1,927.6 330.5,933.3 331.0,847.9 331.4,914.9 331.9,927.9 332.3,928.8 332.8,927.4 333.3,935.4 333.7,923.5 334.2,899.9 334.6,927.5 335.1,924.3 335.5,866.8 336.0,912.8 336.4,932.0 336.9,894.7 337.4,931.0 337.8,922.4 338.3,926.6 338.7,929.7 339.2,929.6 339.6,925.9 340.1,844.4 340.5,925.8 341.0,924.6 341.5,920.1 341.9,933.2 342.4,924.9 342.8,934.7 343.3,926.9 343.7,936.2 344.2,920.5 344.6,866.2 345.1,921.4 345.6,930.1 346.0,889.8 346.5,928.7 346.9,927.7 347.4,927.6 347.8,940.5 348.3,927.5 348.7,922.8 349.2,853.6 349.7,928.7 350.1,929.0 350.6,927.8 351.0,926.7 351.5,930.7 351.9,936.9 352.4,927.2 352.8,929.5 353.3,921.0 353.8,869.3 354.2,918.8 354.7,928.4 355.1,898.6 355.6,944.3 356.0,927.9 356.5,928.5 356.9,929.0 357.4,946.8 357.9,921.3 358.3,857.1 358.8,918.6 359.2,923.3 359.7,908.4 360.1,929.6 360.6,933.9 361.0,935.3 361.5,925.4 362.0,926.2 362.4,923.4 362.9,859.3 363.3,919.4 363.8,932.6 364.2,907.9 364.7,923.5 365.1,926.2 365.6,925.6 366.1,900.6 366.5,929.0 367.0,914.5 367.4,856.6 367.9,909.0 368.3,926.6 368.8,941.0 369.2,927.1 369.7,928.6 370.2,925.9 370.6,930.4 371.1,933.0 371.5,919.5 372.0,856.3 372.4,913.4 372.9,925.5 373.3,898.7 373.8,930.5 374.2,924.3 374.7,926.0 375.2,913.5 375.6,926.2 376.1,919.5 376.5,833.8 377.0,912.3 377.4,928.5 377.9,897.2 378.3,932.0 378.8,927.7 379.3,927.4 379.7,917.8 380.2,930.0 380.6,919.2 381.1,856.8 381.5,920.2 382.0,927.3 382.4,894.4 382.9,927.7 383.4,930.0 383.8,933.2 384.3,910.5 384.7,928.7 385.2,913.9 385.6,838.3 386.1,906.8 386.5,927.1 387.0,891.5 387.5,931.5 387.9,933.2 388.4,925.8 388.8,931.1 389.3,929.7 389.7,923.4 390.2,859.3 390.6,914.4 391.1,926.9 391.6,924.4 392.0,928.2 392.5,922.5 392.9,935.1 393.4,926.2 393.8,929.4 394.3,921.3 394.7,862.2 395.2,959.0 395.7,930.1 396.1,899.7 396.6,929.6 397.0,927.2 397.5,924.1 397.9,929.6 398.4,926.6 398.8,914.5 399.3,865.7 399.8,944.3 400.2,933.5 400.7,896.0 401.1,929.5 401.6,932.3 402.0,927.1 402.5,923.6 402.9,928.6 403.4,921.5 403.9,860.4 404.3,922.4 404.8,927.5 405.2,898.5 405.7,939.7 406.1,928.9 406.6,924.2 407.0,925.2 407.5,932.1 408.0,923.6 408.4,867.2 408.9,916.1 409.3,932.2 409.8,890.2 410.2,923.6 410.7,928.1 411.1,933.6 411.6,929.1 412.1,940.3 412.5,916.0 413.0,856.8 413.4,951.7 413.9,930.5 414.3,892.7 414.8,928.4 415.2,932.9 415.7,926.5 416.2,909.8 416.6,931.0 417.1,925.1 417.5,867.4 418.0,916.7 418.4,934.5 418.9,926.6 419.3,932.5 419.8,925.7 420.3,925.4 420.7,925.8 421.2,929.9 421.6,916.2 422.1,856.4 422.5,907.4 423.0,933.2 423.4,898.4 423.9,930.3 424.4,929.3 424.8,935.3 425.3,932.3 425.7,926.9 426.2,926.6 426.6,871.8 427.1,916.6 427.5,928.1 428.0,898.7 428.5,929.0 428.9,933.7 429.4,933.6 429.8,903.7 430.3,927.2 430.7,924.9 431.2,848.1 431.6,908.1 432.1,933.5 432.6,896.8 433.0,931.7 433.5,929.3 433.9,936.5 434.4,911.9 434.8,926.6 435.3,919.7 435.7,878.0 436.2,930.6 436.7,929.9 437.1,898.5 437.6,929.3 438.0,929.1 438.5,928.0 438.9,928.0 439.4,926.2 439.8,923.3 440.3,862.1 440.8,909.0 441.2,925.0 441.7,902.9 442.1,924.8 442.6,928.5 443.0,926.1 443.5,905.0 443.9,933.7 444.4,925.3 444.9,882.6 445.3,945.9 445.8,926.8 446.2,930.4 446.7,940.7 447.1,932.1 447.6,928.4 448.0,927.1 448.5,931.9 449.0,922.0 449.4,888.3 449.9,946.8 450.3,930.0 450.8,900.9 451.2,932.4 451.7,929.5 452.1,927.1 452.6,929.2 453.1,922.6 453.5,923.9 454.0,883.1 454.4,959.0 454.9,930.7 455.3,932.1 455.8,930.1 456.2,939.4 456.7,932.5 457.2,927.5 457.6,943.5 458.1,922.7 458.5,887.4 459.0,924.6 459.4,929.5 459.9,895.8 460.3,928.5 460.8,932.6 461.2,930.4 461.7,928.9 462.2,929.9 462.6,929.6 463.1,882.5 463.5,918.4 464.0,931.3 464.4,895.8 464.9,926.1 465.3,942.1 465.8,934.8 466.3,929.3 466.7,922.1 467.2,921.9 467.6,882.4 468.1,916.7 468.5,931.7 469.0,887.3 469.4,947.6 469.9,933.1 470.4,924.9 470.8,930.9 471.3,931.5 471.7,927.3 472.2,881.3 472.6,922.0 473.1,932.9 473.5,894.8 474.0,922.8 474.5,930.3 474.9,930.4 475.4,901.7 475.8,926.0 476.3,918.1 476.7,869.0 477.2,921.7 477.6,924.1 478.1,897.3 478.6,930.9 479.0,923.7 479.5,926.7 479.9,929.3 480.4,935.3 480.8,921.3 481.3,877.0 481.7,915.2 482.2,933.5 482.7,930.1 483.1,924.9 483.6,926.3 484.0,927.9 484.5,930.6 484.9,935.5 485.4,917.0 485.8,858.9 486.3,912.0 486.8,931.8 487.2,901.6 487.7,935.1 488.1,925.7 488.6,933.0 489.0,923.7 489.5,938.7 489.9,922.5 490.4,881.9 490.9,913.1 491.3,931.5 491.8,890.9 492.2,929.7 492.7,930.0 493.1,931.9 493.6,926.9 494.0,931.3 494.5,918.8 495.0,856.5 495.4,916.8 495.9,928.5 496.3,894.7 496.8,936.2 497.2,928.4 497.7,922.9 498.1,945.3 498.6,936.9 499.1,941.8 499.5,874.0 500.0,908.6 500.4,925.7 500.9,927.0 501.3,928.3 501.8,938.3 502.2,930.8 502.7,926.2 503.2,947.6 503.6,920.1 504.1,871.5 504.5,930.9 505.0,928.6 505.4,930.9 505.9,930.7 506.3,930.7 506.8,929.7 507.3,929.3 507.7,926.8 508.2,925.6 508.6,873.3 509.1,920.7 509.5,927.8 510.0,894.5 510.4,928.6 510.9,933.7 511.4,945.9 511.8,929.9 512.3,928.6 512.7,931.3 513.2,865.2 513.6,920.4 514.1,938.3 514.5,891.3 515.0,924.7 515.5,933.1 515.9,927.6 516.4,920.9 516.8,936.6 517.3,921.7 517.7,873.5 518.2,924.8 518.6,927.7 519.1,924.8 519.6,926.0 520.0,928.4 520.5,927.2 520.9,910.3 521.4,933.0 521.8,919.1 522.3,848.4 522.7,916.7 523.2,926.2 523.7,924.9 524.1,931.0 524.6,931.5 525.0,925.1 525.5,932.2 525.9,926.6 526.4,925.2 526.8,875.9 527.3,925.1 527.8,927.4 528.2,893.4 528.7,933.2 529.1,932.6 529.6,925.5 530.0,927.5 530.5,926.4 530.9,939.4 531.4,826.7 531.9,912.2 532.3,924.3 532.8,892.7 533.2,930.7 533.7,925.6 534.1,925.5 534.6,926.2 535.0,933.6 535.5,923.9 536.0,880.3 536.4,920.6 536.9,932.3 537.3,926.9 537.8,928.2 538.2,930.8 538.7,929.3 539.1,916.2 539.6,925.8 540.1,923.6 540.5,842.6 541.0,916.8 541.4,929.9 541.9,893.9 542.3,932.3 542.8,931.4 543.2,929.8 543.7,928.7 544.2,931.3 544.6,932.6 545.1,880.8 545.5,921.2 546.0,926.9 546.4,931.7 546.9,928.3 547.3,930.5 547.8,934.9 548.3,930.0 548.7,924.3 549.2,943.5 549.6,875.6 550.1,923.7 550.5,931.2 551.0,891.3 551.4,928.4 551.9,928.3 552.4,935.3 552.8,922.9 553.3,954.1 553.7,922.5 554.2,893.4 554.6,917.2 555.1,926.2 555.5,923.0 556.0,923.8 556.4,928.3 556.9,926.7 557.4,912.0 557.8,930.7 558.3,947.6 558.7,888.1 559.2,923.8 559.6,937.6 560.1,893.6 560.5,925.9 561.0,928.5 561.5,932.5 561.9,925.6 562.4,924.8 562.8,924.5 563.3,900.0 563.7,916.4 564.2,930.4 564.6,897.3 565.1,928.6 565.6,930.1 566.0,926.7 566.5,931.0 566.9,928.6 567.4,925.3 567.8,892.1 568.3,929.5 568.7,926.2 569.2,891.5 569.7,924.0 570.1,931.9 570.6,930.8 571.0,930.1 571.5,929.4 571.9,924.4 572.4,891.7 572.8,924.4 573.3,924.4 573.8,930.0 574.2,929.2 574.7,931.2 575.1,927.1 575.6,928.2 576.0,927.9 576.5,924.8 576.9,889.1 577.4,919.6 577.9,946.8 578.3,931.2 578.8,925.3 579.2,926.8 579.7,931.0 580.1,931.9 580.6,932.5 581.0,930.7 581.5,932.1 582.0,932.2 582.4,930.8 582.9,931.4 583.3,928.9 583.8,930.5 584.2,930.5 584.7,929.6 585.1,930.5 585.6,929.8 586.1,929.3 586.5,930.9 587.0,930.0 587.4,930.2 587.9,929.9 588.3,929.9 588.8,930.6 589.2,931.1 589.7,930.9 590.2,929.8 590.6,931.5 591.1,932.8 591.5,931.5 592.0,932.8 592.4,932.1 592.9,931.5 593.3,932.3 593.8,929.8 594.3,932.4 594.7,930.4 595.2,930.0 595.6,929.4 596.1,929.8 596.5,931.1 597.0,931.2 597.4,930.5 597.9,931.2 598.4,931.6 598.8,928.5 599.3,932.4 599.7,929.9 600.2,932.5 600.6,928.6 601.1,930.8 601.5,929.9 602.0,931.4 602.5,931.3 602.9,931.6 603.4,930.2 603.8,930.4 604.3,932.7 604.7,931.0 605.2,932.2 605.6,930.6 606.1,932.3 606.6,933.2 607.0,930.3 607.5,931.5 607.9,929.7 608.4,931.2 608.8,929.8 609.3,932.5 609.7,933.6 610.2,931.6 610.7,931.6 611.1,930.6 611.6,928.3 612.0,933.0 612.5,927.6 612.9,929.6 613.4,930.7 613.8,930.5 614.3,928.0 614.8,931.7 615.2,931.9 615.7,930.1 616.1,933.3 616.6,931.2 617.0,931.2 617.5,931.6 617.9,932.4 618.4,933.4 618.9,929.5 619.3,931.8 619.8,929.8 620.2,932.6 620.7,931.6 621.1,931.6 621.6,930.4 622.0,932.3 622.5,932.9 623.0,932.6" fill="none" stroke="#FF4F10" stroke-width="1.15" stroke-dasharray="2.6,1.1"/>
<rect x="309.3" y="826.9" width="328.4" height="137.8" fill="none" stroke="#555" stroke-width="0.7"/>
<rect x="574.8" y="829.2" width="59.5" height="16.3" fill="#fff" fill-opacity="0.85" stroke="#ddd" stroke-width="0.5"/>
<line x1="577.5" y1="833.5" x2="588" y2="833.5" stroke="#5DADE2" stroke-width="1"/>
<line x1="577.5" y1="840.6" x2="588.5" y2="840.6" stroke="#FF4F10" stroke-width="1.1" stroke-dasharray="4,2.2"/>
<text x="593.5" y="835" font-size="5.6" textLength="38" lengthAdjust="spacingAndGlyphs" fill="#222" font-family="Liberation Sans">Ground Truth</text>
<text x="593.5" y="842.4" font-size="5.6" textLength="29.3" lengthAdjust="spacingAndGlyphs" fill="#222" font-family="Liberation Sans">Prediction</text>
<text x="810.8" y="821.6" font-size="4.4" text-anchor="middle" fill="#333" font-family="Liberation Sans">Average - Combined Metrics</text>
<circle cx="810.8" cy="899.6" r="12.6" fill="none" stroke="#d4d4d4" stroke-width="0.5"/>
<circle cx="810.8" cy="899.6" r="25.2" fill="none" stroke="#d4d4d4" stroke-width="0.5"/>
<circle cx="810.8" cy="899.6" r="37.8" fill="none" stroke="#d4d4d4" stroke-width="0.5"/>
<circle cx="810.8" cy="899.6" r="50.4" fill="none" stroke="#d4d4d4" stroke-width="0.5"/>
<line x1="810.8" y1="899.6" x2="873.8" y2="899.6" stroke="#d4d4d4" stroke-width="0.5"/>
<line x1="810.8" y1="899.6" x2="866.6" y2="870.3" stroke="#d4d4d4" stroke-width="0.5"/>
<line x1="810.8" y1="899.6" x2="846.6" y2="847.8" stroke="#d4d4d4" stroke-width="0.5"/>
<line x1="810.8" y1="899.6" x2="818.4" y2="837.1" stroke="#d4d4d4" stroke-width="0.5"/>
<line x1="810.8" y1="899.6" x2="788.5" y2="840.7" stroke="#d4d4d4" stroke-width="0.5"/>
<line x1="810.8" y1="899.6" x2="763.6" y2="857.8" stroke="#d4d4d4" stroke-width="0.5"/>
<line x1="810.8" y1="899.6" x2="749.6" y2="884.5" stroke="#d4d4d4" stroke-width="0.5"/>
<line x1="810.8" y1="899.6" x2="749.6" y2="914.7" stroke="#d4d4d4" stroke-width="0.5"/>
<line x1="810.8" y1="899.6" x2="763.6" y2="941.4" stroke="#d4d4d4" stroke-width="0.5"/>
<line x1="810.8" y1="899.6" x2="788.5" y2="958.5" stroke="#d4d4d4" stroke-width="0.5"/>
<line x1="810.8" y1="899.6" x2="818.4" y2="962.1" stroke="#d4d4d4" stroke-width="0.5"/>
<line x1="810.8" y1="899.6" x2="846.6" y2="951.4" stroke="#d4d4d4" stroke-width="0.5"/>
<line x1="810.8" y1="899.6" x2="866.6" y2="928.9" stroke="#d4d4d4" stroke-width="0.5"/>
<polygon points="856.8,899.6 859.2,874.2 840.7,856.3 817.4,845.0 791.7,849.1 768.9,862.5 756.6,886.2 756.4,913.0 768.9,936.7 790.1,954.2 818.2,960.7 846.0,950.6 863.9,927.5" fill="#0000ff" fill-opacity="0.12" stroke="#2a2aff" stroke-width="0.9"/>
<polygon points="849.8,899.6 848.9,879.6 834.7,865.0 816.3,854.4 795.2,858.5 776.0,868.8 764.5,888.2 764.2,911.1 775.0,931.3 792.1,949.0 817.5,954.8 843.2,946.5 859.2,925.0" fill="#ff0000" fill-opacity="0.1" stroke="#ff3a3a" stroke-width="0.9"/>
<polygon points="850.8,899.6 848.0,880.1 834.7,865.0 816.1,856.2 795.9,860.3 777.4,870.0 766.7,888.7 766.5,910.5 776.4,930.1 793.4,945.4 816.9,949.6 839.8,941.6 854.0,922.3" fill="#008000" fill-opacity="0.12" stroke="#2e8b3e" stroke-width="0.9"/>
<circle cx="810.8" cy="899.6" r="63" fill="none" stroke="#9a9a9a" stroke-width="0.6"/>
<text x="879.8" y="900.6" font-size="3.2" text-anchor="middle" fill="#555" font-family="Liberation Sans">metric0</text>
<text x="871.9" y="868.5" font-size="3.2" text-anchor="middle" fill="#555" font-family="Liberation Sans">metric1</text>
<text x="850.0" y="843.8" font-size="3.2" text-anchor="middle" fill="#555" font-family="Liberation Sans">metric2</text>
<text x="819.1" y="832.1" font-size="3.2" text-anchor="middle" fill="#555" font-family="Liberation Sans">metric3</text>
<text x="786.3" y="836.1" font-size="3.2" text-anchor="middle" fill="#555" font-family="Liberation Sans">metric4</text>
<text x="759.2" y="854.8" font-size="3.2" text-anchor="middle" fill="#555" font-family="Liberation Sans">metric5</text>
<text x="743.8" y="884.1" font-size="3.2" text-anchor="middle" fill="#555" font-family="Liberation Sans">metric6</text>
<text x="743.8" y="917.1" font-size="3.2" text-anchor="middle" fill="#555" font-family="Liberation Sans">metric7</text>
<text x="759.2" y="946.4" font-size="3.2" text-anchor="middle" fill="#555" font-family="Liberation Sans">metric8</text>
<text x="786.3" y="965.1" font-size="3.2" text-anchor="middle" fill="#555" font-family="Liberation Sans">metric9</text>
<text x="819.1" y="969.1" font-size="3.2" text-anchor="middle" fill="#555" font-family="Liberation Sans">metric10</text>
<text x="850.0" y="957.4" font-size="3.2" text-anchor="middle" fill="#555" font-family="Liberation Sans">metric11</text>
<text x="871.9" y="932.7" font-size="3.2" text-anchor="middle" fill="#555" font-family="Liberation Sans">metric12</text>
<text x="822.8" y="895.7" font-size="3.6" fill="#444" font-family="Liberation Sans">0.2</text>
<text x="834.8" y="891.8" font-size="3.6" fill="#444" font-family="Liberation Sans">0.4</text>
<text x="846.7" y="887.9" font-size="3.6" fill="#444" font-family="Liberation Sans">0.6</text>
<text x="858.7" y="884.0" font-size="3.6" fill="#444" font-family="Liberation Sans">0.8</text>
<rect x="747.8" y="952.6" width="12" height="9" fill="#fff" stroke="#ddd" stroke-width="0.3"/>
<line x1="748.8" y1="954.6" x2="752.3" y2="954.6" stroke="#ff5050" stroke-width="0.6"/>
<rect x="753.8" y="953.9" width="4" height="1.2" fill="#777"/>
<line x1="748.8" y1="957.2" x2="752.3" y2="957.2" stroke="#2e8b3e" stroke-width="0.6"/>
<rect x="753.8" y="956.5" width="4" height="1.2" fill="#777"/>
<line x1="748.8" y1="959.8" x2="752.3" y2="959.8" stroke="#2a2aff" stroke-width="0.6"/>
<rect x="753.8" y="959.1" width="4" height="1.2" fill="#777"/>
<text x="988.3" y="821.7" font-size="4.4" text-anchor="middle" fill="#333" font-family="Liberation Sans">Site1 - Combined Metrics (Chart1)</text>
<circle cx="988.3" cy="899.7" r="12.8" fill="none" stroke="#d4d4d4" stroke-width="0.5"/>
<circle cx="988.3" cy="899.7" r="25.5" fill="none" stroke="#d4d4d4" stroke-width="0.5"/>
<circle cx="988.3" cy="899.7" r="38.3" fill="none" stroke="#d4d4d4" stroke-width="0.5"/>
<circle cx="988.3" cy="899.7" r="51.0" fill="none" stroke="#d4d4d4" stroke-width="0.5"/>
<line x1="988.3" y1="899.7" x2="1052.1" y2="899.7" stroke="#d4d4d4" stroke-width="0.5"/>
<line x1="988.3" y1="899.7" x2="1044.8" y2="870.1" stroke="#d4d4d4" stroke-width="0.5"/>
<line x1="988.3" y1="899.7" x2="1024.5" y2="847.2" stroke="#d4d4d4" stroke-width="0.5"/>
<line x1="988.3" y1="899.7" x2="996.0" y2="836.4" stroke="#d4d4d4" stroke-width="0.5"/>
<line x1="988.3" y1="899.7" x2="965.7" y2="840.0" stroke="#d4d4d4" stroke-width="0.5"/>
<line x1="988.3" y1="899.7" x2="940.5" y2="857.4" stroke="#d4d4d4" stroke-width="0.5"/>
<line x1="988.3" y1="899.7" x2="926.4" y2="884.4" stroke="#d4d4d4" stroke-width="0.5"/>
<line x1="988.3" y1="899.7" x2="926.4" y2="915.0" stroke="#d4d4d4" stroke-width="0.5"/>
<line x1="988.3" y1="899.7" x2="940.5" y2="942.0" stroke="#d4d4d4" stroke-width="0.5"/>
<line x1="988.3" y1="899.7" x2="965.7" y2="959.4" stroke="#d4d4d4" stroke-width="0.5"/>
<line x1="988.3" y1="899.7" x2="996.0" y2="963.0" stroke="#d4d4d4" stroke-width="0.5"/>
<line x1="988.3" y1="899.7" x2="1024.5" y2="952.2" stroke="#d4d4d4" stroke-width="0.5"/>
<line x1="988.3" y1="899.7" x2="1044.8" y2="929.3" stroke="#d4d4d4" stroke-width="0.5"/>
<polygon points="1034.3,899.7 1038.3,873.4 1019.5,854.4 995.2,843.1 968.8,848.3 945.6,861.9 932.4,885.9 932.4,913.5 944.9,938.2 968.3,952.5 995.7,960.3 1023.5,950.7 1041.4,927.6" fill="#0000ff" fill-opacity="0.12" stroke="#2a2aff" stroke-width="0.9"/>
<polygon points="1030.3,899.7 1034.3,875.5 1017.3,857.7 994.7,847.1 970.2,852.0 948.6,864.6 936.4,886.9 936.4,912.5 947.9,935.5 969.5,949.3 995.3,957.3 1023.0,949.9 1039.7,926.7" fill="#ff0000" fill-opacity="0.1" stroke="#ff3a3a" stroke-width="0.9"/>
<polygon points="1028.0,899.7 1028.1,878.8 1014.4,861.8 994.0,853.0 972.3,857.6 953.1,868.5 942.7,888.5 942.7,910.9 952.7,931.2 972.0,942.7 994.3,948.9 1017.3,941.7 1032.2,922.8" fill="#008000" fill-opacity="0.12" stroke="#2e8b3e" stroke-width="0.9"/>
<circle cx="988.3" cy="899.7" r="63.8" fill="none" stroke="#9a9a9a" stroke-width="0.6"/>
<text x="1058.1" y="900.7" font-size="3.2" text-anchor="middle" fill="#555" font-family="Liberation Sans">metric0</text>
<text x="1050.1" y="868.3" font-size="3.2" text-anchor="middle" fill="#555" font-family="Liberation Sans">metric1</text>
<text x="1028.0" y="843.3" font-size="3.2" text-anchor="middle" fill="#555" font-family="Liberation Sans">metric2</text>
<text x="996.7" y="831.4" font-size="3.2" text-anchor="middle" fill="#555" font-family="Liberation Sans">metric3</text>
<text x="963.5" y="835.4" font-size="3.2" text-anchor="middle" fill="#555" font-family="Liberation Sans">metric4</text>
<text x="936.1" y="854.4" font-size="3.2" text-anchor="middle" fill="#555" font-family="Liberation Sans">metric5</text>
<text x="920.5" y="884.0" font-size="3.2" text-anchor="middle" fill="#555" font-family="Liberation Sans">metric6</text>
<text x="920.5" y="917.4" font-size="3.2" text-anchor="middle" fill="#555" font-family="Liberation Sans">metric7</text>
<text x="936.1" y="947.0" font-size="3.2" text-anchor="middle" fill="#555" font-family="Liberation Sans">metric8</text>
<text x="963.5" y="966.0" font-size="3.2" text-anchor="middle" fill="#555" font-family="Liberation Sans">metric9</text>
<text x="996.7" y="970.0" font-size="3.2" text-anchor="middle" fill="#555" font-family="Liberation Sans">metric10</text>
<text x="1028.0" y="958.1" font-size="3.2" text-anchor="middle" fill="#555" font-family="Liberation Sans">metric11</text>
<text x="1050.1" y="933.1" font-size="3.2" text-anchor="middle" fill="#555" font-family="Liberation Sans">metric12</text>
<text x="1000.4" y="895.8" font-size="3.6" fill="#444" font-family="Liberation Sans">0.2</text>
<text x="1012.6" y="891.8" font-size="3.6" fill="#444" font-family="Liberation Sans">0.4</text>
<text x="1024.7" y="887.9" font-size="3.6" fill="#444" font-family="Liberation Sans">0.6</text>
<text x="1036.8" y="883.9" font-size="3.6" fill="#444" font-family="Liberation Sans">0.8</text>
<rect x="925.3" y="952.7" width="12" height="9" fill="#fff" stroke="#ddd" stroke-width="0.3"/>
<line x1="926.3" y1="954.7" x2="929.8" y2="954.7" stroke="#ff5050" stroke-width="0.6"/>
<rect x="931.3" y="954.0" width="4" height="1.2" fill="#777"/>
<line x1="926.3" y1="957.3" x2="929.8" y2="957.3" stroke="#2e8b3e" stroke-width="0.6"/>
<rect x="931.3" y="956.6" width="4" height="1.2" fill="#777"/>
<line x1="926.3" y1="959.9" x2="929.8" y2="959.9" stroke="#2a2aff" stroke-width="0.6"/>
<rect x="931.3" y="959.2" width="4" height="1.2" fill="#777"/>
</svg>
</body></html>
